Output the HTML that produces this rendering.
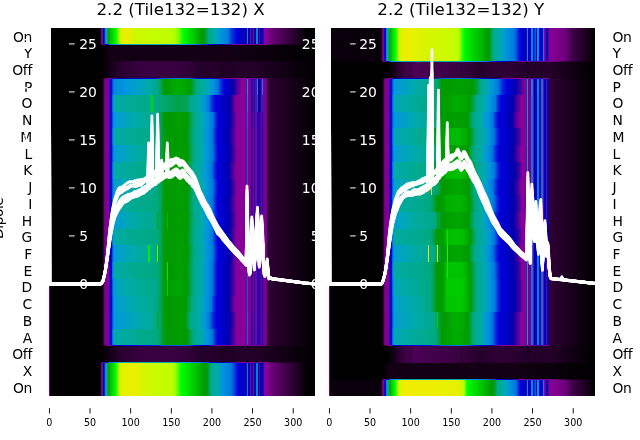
<!DOCTYPE html><html><head><meta charset="utf-8"><title>2.2 (Tile132=132)</title><style>html,body{margin:0;padding:0;background:#fff;overflow:hidden}</style></head><body><svg width="640" height="440" viewBox="0 0 640 440" style="display:block;font-family:'DejaVu Sans','Liberation Sans',sans-serif"><defs><linearGradient id="g0_0" gradientUnits="userSpaceOnUse" x1="0" y1="0" x2="640" y2="0"><stop offset="0.0766" stop-color="#7a008b"/><stop offset="0.0777" stop-color="#7a008b"/><stop offset="0.0778" stop-color="#700080"/><stop offset="0.0781" stop-color="#000000"/><stop offset="0.1570" stop-color="#000000"/><stop offset="0.1585" stop-color="#700080"/><stop offset="0.1594" stop-color="#810092"/><stop offset="0.1600" stop-color="#870098"/><stop offset="0.1617" stop-color="#0300aa"/><stop offset="0.1629" stop-color="#0000dd"/><stop offset="0.1641" stop-color="#0078dd"/><stop offset="0.1652" stop-color="#0098dd"/><stop offset="0.1664" stop-color="#00aaab"/><stop offset="0.1676" stop-color="#00aa88"/><stop offset="0.1688" stop-color="#009a00"/><stop offset="0.1719" stop-color="#00bc00"/><stop offset="0.1766" stop-color="#00dc00"/><stop offset="0.1814" stop-color="#00ff00"/><stop offset="0.1852" stop-color="#93ff00"/><stop offset="0.1865" stop-color="#bcff00"/><stop offset="0.1891" stop-color="#d0f800"/><stop offset="0.1969" stop-color="#efed00"/><stop offset="0.2125" stop-color="#ccf900"/><stop offset="0.2578" stop-color="#c0fd00"/><stop offset="0.2656" stop-color="#bcff00"/><stop offset="0.2734" stop-color="#b0ff00"/><stop offset="0.2797" stop-color="#75ff00"/><stop offset="0.2861" stop-color="#00ff00"/><stop offset="0.2969" stop-color="#00dc00"/><stop offset="0.3064" stop-color="#00bc00"/><stop offset="0.3141" stop-color="#009f00"/><stop offset="0.3167" stop-color="#009a00"/><stop offset="0.3219" stop-color="#009f33"/><stop offset="0.3258" stop-color="#00aa88"/><stop offset="0.3355" stop-color="#00aaab"/><stop offset="0.3375" stop-color="#00a7b3"/><stop offset="0.3438" stop-color="#0098dd"/><stop offset="0.3531" stop-color="#0085dd"/><stop offset="0.3570" stop-color="#0078dd"/><stop offset="0.3609" stop-color="#0041dd"/><stop offset="0.3703" stop-color="#0000dd"/><stop offset="0.3797" stop-color="#0000bd"/><stop offset="0.3855" stop-color="#0000b1"/><stop offset="0.3857" stop-color="#0000dd"/><stop offset="0.3858" stop-color="#0078dd"/><stop offset="0.3859" stop-color="#008add"/><stop offset="0.3875" stop-color="#008add"/><stop offset="0.3876" stop-color="#0078dd"/><stop offset="0.3878" stop-color="#0000dd"/><stop offset="0.3879" stop-color="#0000b1"/><stop offset="0.3906" stop-color="#0000ad"/><stop offset="0.3907" stop-color="#0300aa"/><stop offset="0.3910" stop-color="#870098"/><stop offset="0.3918" stop-color="#870098"/><stop offset="0.3922" stop-color="#0300aa"/><stop offset="0.3922" stop-color="#0000ad"/><stop offset="0.3949" stop-color="#0300aa"/><stop offset="0.3949" stop-color="#0300aa"/><stop offset="0.3953" stop-color="#870098"/><stop offset="0.3969" stop-color="#870098"/><stop offset="0.3973" stop-color="#0300aa"/><stop offset="0.3973" stop-color="#0300aa"/><stop offset="0.3977" stop-color="#0300aa"/><stop offset="0.4004" stop-color="#0d00a8"/><stop offset="0.4004" stop-color="#0300aa"/><stop offset="0.4006" stop-color="#0000dd"/><stop offset="0.4007" stop-color="#0078dd"/><stop offset="0.4008" stop-color="#0085dd"/><stop offset="0.4023" stop-color="#0085dd"/><stop offset="0.4024" stop-color="#0078dd"/><stop offset="0.4026" stop-color="#0000dd"/><stop offset="0.4027" stop-color="#0300aa"/><stop offset="0.4027" stop-color="#0d00a8"/><stop offset="0.4039" stop-color="#0d00a8"/><stop offset="0.4043" stop-color="#58009f"/><stop offset="0.4066" stop-color="#58009f"/><stop offset="0.4070" stop-color="#1800a7"/><stop offset="0.4090" stop-color="#1800a7"/><stop offset="0.4090" stop-color="#0300aa"/><stop offset="0.4094" stop-color="#0000dd"/><stop offset="0.4109" stop-color="#0000dd"/><stop offset="0.4112" stop-color="#0300aa"/><stop offset="0.4113" stop-color="#2d00a4"/><stop offset="0.4133" stop-color="#870098"/><stop offset="0.4188" stop-color="#850096"/><stop offset="0.4219" stop-color="#700080"/><stop offset="0.4813" stop-color="#000000"/><stop offset="0.4922" stop-color="#000000"/></linearGradient><linearGradient id="s0_1" gradientUnits="userSpaceOnUse" x1="0" y1="0" x2="640" y2="0"><stop offset="0.0766" stop-color="#7a008b"/><stop offset="0.0777" stop-color="#7a008b"/><stop offset="0.0778" stop-color="#700080"/><stop offset="0.0781" stop-color="#000000"/><stop offset="0.1570" stop-color="#000000"/><stop offset="0.1601" stop-color="#700080"/><stop offset="0.1617" stop-color="#7f0090"/><stop offset="0.1628" stop-color="#870098"/><stop offset="0.1651" stop-color="#0300aa"/><stop offset="0.1674" stop-color="#0000dd"/><stop offset="0.1688" stop-color="#0041dd"/><stop offset="0.1712" stop-color="#0078dd"/><stop offset="0.1719" stop-color="#007add"/><stop offset="0.1803" stop-color="#0098dd"/><stop offset="0.1852" stop-color="#00a2c3"/><stop offset="0.1891" stop-color="#00a7b3"/><stop offset="0.1940" stop-color="#00aaab"/><stop offset="0.1969" stop-color="#00aaa5"/><stop offset="0.2018" stop-color="#00aaab"/><stop offset="0.2125" stop-color="#00a6b7"/><stop offset="0.2578" stop-color="#00a4bb"/><stop offset="0.2797" stop-color="#00a0c7"/><stop offset="0.2879" stop-color="#0098dd"/><stop offset="0.3079" stop-color="#0078dd"/><stop offset="0.3133" stop-color="#0054dd"/><stop offset="0.3219" stop-color="#002fdd"/><stop offset="0.3288" stop-color="#0000dd"/><stop offset="0.3445" stop-color="#0000ad"/><stop offset="0.3461" stop-color="#0300aa"/><stop offset="0.3680" stop-color="#78009b"/><stop offset="0.3741" stop-color="#870098"/><stop offset="0.3855" stop-color="#820093"/><stop offset="0.3856" stop-color="#870098"/><stop offset="0.3859" stop-color="#0d00a8"/><stop offset="0.3875" stop-color="#1800a7"/><stop offset="0.3878" stop-color="#870098"/><stop offset="0.3879" stop-color="#820093"/><stop offset="0.3906" stop-color="#820093"/><stop offset="0.3910" stop-color="#79008a"/><stop offset="0.3918" stop-color="#79008a"/><stop offset="0.3922" stop-color="#810092"/><stop offset="0.3949" stop-color="#810092"/><stop offset="0.3953" stop-color="#770088"/><stop offset="0.3961" stop-color="#770088"/><stop offset="0.3969" stop-color="#770088"/><stop offset="0.3973" stop-color="#810092"/><stop offset="0.4004" stop-color="#810092"/><stop offset="0.4005" stop-color="#870098"/><stop offset="0.4008" stop-color="#2300a6"/><stop offset="0.4023" stop-color="#2300a6"/><stop offset="0.4026" stop-color="#870098"/><stop offset="0.4027" stop-color="#7f0090"/><stop offset="0.4039" stop-color="#7f0090"/><stop offset="0.4043" stop-color="#7b008c"/><stop offset="0.4066" stop-color="#7b008c"/><stop offset="0.4070" stop-color="#7f0090"/><stop offset="0.4090" stop-color="#7f0090"/><stop offset="0.4093" stop-color="#870098"/><stop offset="0.4094" stop-color="#83009a"/><stop offset="0.4109" stop-color="#83009a"/><stop offset="0.4110" stop-color="#870098"/><stop offset="0.4113" stop-color="#7e008f"/><stop offset="0.4133" stop-color="#770088"/><stop offset="0.4178" stop-color="#700080"/><stop offset="0.4188" stop-color="#700080"/><stop offset="0.4219" stop-color="#41004b"/><stop offset="0.4813" stop-color="#000000"/><stop offset="0.4922" stop-color="#000000"/></linearGradient><linearGradient id="g0_1" gradientUnits="userSpaceOnUse" x1="0" y1="0" x2="640" y2="0"><stop offset="0.0766" stop-color="#7a008b"/><stop offset="0.0777" stop-color="#7a008b"/><stop offset="0.0778" stop-color="#700080"/><stop offset="0.0781" stop-color="#000000"/><stop offset="0.1594" stop-color="#000000"/><stop offset="0.1719" stop-color="#130015"/><stop offset="0.3594" stop-color="#130015"/><stop offset="0.4922" stop-color="#000000"/></linearGradient><linearGradient id="g0_2" gradientUnits="userSpaceOnUse" x1="0" y1="0" x2="640" y2="0"><stop offset="0.0766" stop-color="#7a008b"/><stop offset="0.0777" stop-color="#7a008b"/><stop offset="0.0778" stop-color="#700080"/><stop offset="0.0781" stop-color="#000000"/><stop offset="0.1578" stop-color="#000000"/><stop offset="0.1844" stop-color="#25002b"/><stop offset="0.2188" stop-color="#380040"/><stop offset="0.2812" stop-color="#380040"/><stop offset="0.2848" stop-color="#25002b"/><stop offset="0.2852" stop-color="#380040"/><stop offset="0.3117" stop-color="#25002b"/><stop offset="0.3441" stop-color="#25002b"/><stop offset="0.3445" stop-color="#1c0020"/><stop offset="0.3863" stop-color="#25002b"/><stop offset="0.3867" stop-color="#1c0020"/><stop offset="0.3906" stop-color="#25002b"/><stop offset="0.4922" stop-color="#000000"/></linearGradient><linearGradient id="s0_3" gradientUnits="userSpaceOnUse" x1="0" y1="0" x2="640" y2="0"><stop offset="0.0766" stop-color="#7a008b"/><stop offset="0.0777" stop-color="#7a008b"/><stop offset="0.0778" stop-color="#700080"/><stop offset="0.0781" stop-color="#000000"/><stop offset="0.1602" stop-color="#000000"/><stop offset="0.1637" stop-color="#4b0055"/><stop offset="0.1686" stop-color="#700080"/><stop offset="0.1699" stop-color="#79008a"/><stop offset="0.1737" stop-color="#870098"/><stop offset="0.1750" stop-color="#63009e"/><stop offset="0.1789" stop-color="#0d00a8"/><stop offset="0.1837" stop-color="#0300aa"/><stop offset="0.2367" stop-color="#0000d5"/><stop offset="0.2368" stop-color="#0000dd"/><stop offset="0.2371" stop-color="#005ddd"/><stop offset="0.2379" stop-color="#005ddd"/><stop offset="0.2382" stop-color="#0000dd"/><stop offset="0.2383" stop-color="#0000d5"/><stop offset="0.2411" stop-color="#0000dd"/><stop offset="0.2562" stop-color="#0054dd"/><stop offset="0.2748" stop-color="#0078dd"/><stop offset="0.2781" stop-color="#0078dd"/><stop offset="0.2808" stop-color="#0078dd"/><stop offset="0.2969" stop-color="#0054dd"/><stop offset="0.3117" stop-color="#0000dd"/><stop offset="0.3122" stop-color="#0000dd"/><stop offset="0.3219" stop-color="#0000cd"/><stop offset="0.3339" stop-color="#0300aa"/><stop offset="0.3453" stop-color="#58009f"/><stop offset="0.3545" stop-color="#870098"/><stop offset="0.3766" stop-color="#7a008b"/><stop offset="0.3859" stop-color="#79008a"/><stop offset="0.3861" stop-color="#870098"/><stop offset="0.3863" stop-color="#0300aa"/><stop offset="0.3863" stop-color="#0000ad"/><stop offset="0.3875" stop-color="#0000ad"/><stop offset="0.3875" stop-color="#0300aa"/><stop offset="0.3877" stop-color="#870098"/><stop offset="0.3879" stop-color="#770088"/><stop offset="0.3914" stop-color="#770088"/><stop offset="0.3918" stop-color="#870098"/><stop offset="0.3949" stop-color="#870098"/><stop offset="0.3953" stop-color="#770088"/><stop offset="0.3962" stop-color="#700080"/><stop offset="0.3965" stop-color="#700080"/><stop offset="0.3965" stop-color="#700080"/><stop offset="0.3969" stop-color="#870098"/><stop offset="0.3969" stop-color="#870098"/><stop offset="0.3988" stop-color="#83009a"/><stop offset="0.3988" stop-color="#870098"/><stop offset="0.3992" stop-color="#700080"/><stop offset="0.3992" stop-color="#700080"/><stop offset="0.4012" stop-color="#700080"/><stop offset="0.4012" stop-color="#700080"/><stop offset="0.4014" stop-color="#870098"/><stop offset="0.4016" stop-color="#0d00a8"/><stop offset="0.4027" stop-color="#0d00a8"/><stop offset="0.4029" stop-color="#870098"/><stop offset="0.4031" stop-color="#700080"/><stop offset="0.4031" stop-color="#700080"/><stop offset="0.4035" stop-color="#700080"/><stop offset="0.4035" stop-color="#700080"/><stop offset="0.4039" stop-color="#850096"/><stop offset="0.4066" stop-color="#850096"/><stop offset="0.4074" stop-color="#850096"/><stop offset="0.4078" stop-color="#700080"/><stop offset="0.4078" stop-color="#670075"/><stop offset="0.4086" stop-color="#670075"/><stop offset="0.4086" stop-color="#700080"/><stop offset="0.4088" stop-color="#870098"/><stop offset="0.4090" stop-color="#1800a7"/><stop offset="0.4102" stop-color="#1800a7"/><stop offset="0.4103" stop-color="#870098"/><stop offset="0.4105" stop-color="#700080"/><stop offset="0.4105" stop-color="#670075"/><stop offset="0.4156" stop-color="#5d006b"/><stop offset="0.4188" stop-color="#25002b"/><stop offset="0.4922" stop-color="#000000"/></linearGradient><linearGradient id="g0_3" gradientUnits="userSpaceOnUse" x1="0" y1="0" x2="640" y2="0"><stop offset="0.0766" stop-color="#7a008b"/><stop offset="0.0777" stop-color="#7a008b"/><stop offset="0.0778" stop-color="#700080"/><stop offset="0.0781" stop-color="#000000"/><stop offset="0.1602" stop-color="#000000"/><stop offset="0.1631" stop-color="#700080"/><stop offset="0.1637" stop-color="#7a008b"/><stop offset="0.1696" stop-color="#870098"/><stop offset="0.1699" stop-color="#83009a"/><stop offset="0.1720" stop-color="#0300aa"/><stop offset="0.1741" stop-color="#0000dd"/><stop offset="0.1750" stop-color="#002fdd"/><stop offset="0.1770" stop-color="#0078dd"/><stop offset="0.1789" stop-color="#008add"/><stop offset="0.1972" stop-color="#0098dd"/><stop offset="0.2188" stop-color="#00a2c3"/><stop offset="0.2311" stop-color="#00aaab"/><stop offset="0.2367" stop-color="#00aaa3"/><stop offset="0.2369" stop-color="#00aa88"/><stop offset="0.2371" stop-color="#009a00"/><stop offset="0.2371" stop-color="#009f00"/><stop offset="0.2379" stop-color="#009f00"/><stop offset="0.2379" stop-color="#009a00"/><stop offset="0.2381" stop-color="#00aa88"/><stop offset="0.2383" stop-color="#00aaa0"/><stop offset="0.2458" stop-color="#00aa88"/><stop offset="0.2469" stop-color="#00a97d"/><stop offset="0.2516" stop-color="#00a353"/><stop offset="0.2562" stop-color="#009a08"/><stop offset="0.2582" stop-color="#009a00"/><stop offset="0.2781" stop-color="#00ac00"/><stop offset="0.2922" stop-color="#00a400"/><stop offset="0.2969" stop-color="#009a00"/><stop offset="0.3078" stop-color="#00aa88"/><stop offset="0.3219" stop-color="#00aaab"/><stop offset="0.3312" stop-color="#0098dd"/><stop offset="0.3406" stop-color="#0078dd"/><stop offset="0.3453" stop-color="#002fdd"/><stop offset="0.3505" stop-color="#0000dd"/><stop offset="0.3635" stop-color="#0300aa"/><stop offset="0.3766" stop-color="#870098"/><stop offset="0.3859" stop-color="#860097"/><stop offset="0.3859" stop-color="#870098"/><stop offset="0.3860" stop-color="#0300aa"/><stop offset="0.3861" stop-color="#0000dd"/><stop offset="0.3862" stop-color="#0078dd"/><stop offset="0.3863" stop-color="#0095dd"/><stop offset="0.3875" stop-color="#0095dd"/><stop offset="0.3876" stop-color="#0078dd"/><stop offset="0.3877" stop-color="#0000dd"/><stop offset="0.3878" stop-color="#0300aa"/><stop offset="0.3879" stop-color="#870098"/><stop offset="0.3879" stop-color="#850096"/><stop offset="0.3914" stop-color="#830094"/><stop offset="0.3915" stop-color="#870098"/><stop offset="0.3917" stop-color="#0300aa"/><stop offset="0.3918" stop-color="#0000c9"/><stop offset="0.3949" stop-color="#0000c9"/><stop offset="0.3950" stop-color="#0300aa"/><stop offset="0.3953" stop-color="#870098"/><stop offset="0.3953" stop-color="#830094"/><stop offset="0.3965" stop-color="#820093"/><stop offset="0.3965" stop-color="#870098"/><stop offset="0.3967" stop-color="#0300aa"/><stop offset="0.3969" stop-color="#0000d1"/><stop offset="0.3988" stop-color="#0000d1"/><stop offset="0.3990" stop-color="#0300aa"/><stop offset="0.3992" stop-color="#870098"/><stop offset="0.3992" stop-color="#820093"/><stop offset="0.4012" stop-color="#820093"/><stop offset="0.4012" stop-color="#870098"/><stop offset="0.4013" stop-color="#0300aa"/><stop offset="0.4014" stop-color="#0000dd"/><stop offset="0.4015" stop-color="#0078dd"/><stop offset="0.4016" stop-color="#008add"/><stop offset="0.4027" stop-color="#008add"/><stop offset="0.4028" stop-color="#0078dd"/><stop offset="0.4029" stop-color="#0000dd"/><stop offset="0.4030" stop-color="#0300aa"/><stop offset="0.4031" stop-color="#870098"/><stop offset="0.4031" stop-color="#810092"/><stop offset="0.4035" stop-color="#810092"/><stop offset="0.4036" stop-color="#870098"/><stop offset="0.4038" stop-color="#0300aa"/><stop offset="0.4039" stop-color="#0000bd"/><stop offset="0.4074" stop-color="#0000bd"/><stop offset="0.4075" stop-color="#0300aa"/><stop offset="0.4077" stop-color="#870098"/><stop offset="0.4078" stop-color="#7f0090"/><stop offset="0.4086" stop-color="#7f0090"/><stop offset="0.4086" stop-color="#870098"/><stop offset="0.4087" stop-color="#0300aa"/><stop offset="0.4088" stop-color="#0000dd"/><stop offset="0.4089" stop-color="#0078dd"/><stop offset="0.4090" stop-color="#0085dd"/><stop offset="0.4102" stop-color="#0085dd"/><stop offset="0.4102" stop-color="#0078dd"/><stop offset="0.4103" stop-color="#0000dd"/><stop offset="0.4104" stop-color="#0300aa"/><stop offset="0.4105" stop-color="#870098"/><stop offset="0.4105" stop-color="#7f0090"/><stop offset="0.4156" stop-color="#7d008e"/><stop offset="0.4169" stop-color="#700080"/><stop offset="0.4188" stop-color="#2f0035"/><stop offset="0.4922" stop-color="#000000"/></linearGradient><linearGradient id="g0_4" gradientUnits="userSpaceOnUse" x1="0" y1="0" x2="640" y2="0"><stop offset="0.0766" stop-color="#7a008b"/><stop offset="0.0777" stop-color="#7a008b"/><stop offset="0.0778" stop-color="#700080"/><stop offset="0.0781" stop-color="#000000"/><stop offset="0.1602" stop-color="#000000"/><stop offset="0.1631" stop-color="#700080"/><stop offset="0.1637" stop-color="#7a008b"/><stop offset="0.1696" stop-color="#870098"/><stop offset="0.1699" stop-color="#83009a"/><stop offset="0.1720" stop-color="#0300aa"/><stop offset="0.1741" stop-color="#0000dd"/><stop offset="0.1750" stop-color="#002fdd"/><stop offset="0.1759" stop-color="#0078dd"/><stop offset="0.1773" stop-color="#0098dd"/><stop offset="0.1788" stop-color="#00aaab"/><stop offset="0.1789" stop-color="#00aaa8"/><stop offset="0.2188" stop-color="#00aa8d"/><stop offset="0.2363" stop-color="#00aa8b"/><stop offset="0.2363" stop-color="#00aa88"/><stop offset="0.2365" stop-color="#009a00"/><stop offset="0.2366" stop-color="#00bc00"/><stop offset="0.2367" stop-color="#00dc00"/><stop offset="0.2383" stop-color="#00dc00"/><stop offset="0.2384" stop-color="#00bc00"/><stop offset="0.2385" stop-color="#009a00"/><stop offset="0.2387" stop-color="#00aa88"/><stop offset="0.2387" stop-color="#00aa8b"/><stop offset="0.2418" stop-color="#00aa88"/><stop offset="0.2781" stop-color="#00a248"/><stop offset="0.2922" stop-color="#00a353"/><stop offset="0.2974" stop-color="#00aa88"/><stop offset="0.3109" stop-color="#00aaab"/><stop offset="0.3195" stop-color="#0098dd"/><stop offset="0.3269" stop-color="#0078dd"/><stop offset="0.3312" stop-color="#002fdd"/><stop offset="0.3375" stop-color="#0000dd"/><stop offset="0.3594" stop-color="#0300aa"/><stop offset="0.3688" stop-color="#870098"/><stop offset="0.3859" stop-color="#860097"/><stop offset="0.3860" stop-color="#870098"/><stop offset="0.3861" stop-color="#0300aa"/><stop offset="0.3862" stop-color="#0000dd"/><stop offset="0.3863" stop-color="#0078dd"/><stop offset="0.3863" stop-color="#0082dd"/><stop offset="0.3875" stop-color="#0082dd"/><stop offset="0.3875" stop-color="#0078dd"/><stop offset="0.3876" stop-color="#0000dd"/><stop offset="0.3878" stop-color="#0300aa"/><stop offset="0.3879" stop-color="#870098"/><stop offset="0.3879" stop-color="#850096"/><stop offset="0.3914" stop-color="#830094"/><stop offset="0.3915" stop-color="#870098"/><stop offset="0.3918" stop-color="#0300aa"/><stop offset="0.3918" stop-color="#0000ad"/><stop offset="0.3949" stop-color="#0000ad"/><stop offset="0.3950" stop-color="#0300aa"/><stop offset="0.3952" stop-color="#870098"/><stop offset="0.3953" stop-color="#830094"/><stop offset="0.3965" stop-color="#820093"/><stop offset="0.3966" stop-color="#870098"/><stop offset="0.3968" stop-color="#0300aa"/><stop offset="0.3969" stop-color="#0000b5"/><stop offset="0.3988" stop-color="#0000b5"/><stop offset="0.3989" stop-color="#0300aa"/><stop offset="0.3991" stop-color="#870098"/><stop offset="0.3992" stop-color="#820093"/><stop offset="0.4012" stop-color="#820093"/><stop offset="0.4012" stop-color="#870098"/><stop offset="0.4013" stop-color="#0300aa"/><stop offset="0.4015" stop-color="#0000dd"/><stop offset="0.4016" stop-color="#0054dd"/><stop offset="0.4027" stop-color="#0054dd"/><stop offset="0.4028" stop-color="#0000dd"/><stop offset="0.4030" stop-color="#0300aa"/><stop offset="0.4031" stop-color="#870098"/><stop offset="0.4031" stop-color="#810092"/><stop offset="0.4035" stop-color="#810092"/><stop offset="0.4036" stop-color="#870098"/><stop offset="0.4039" stop-color="#0300aa"/><stop offset="0.4074" stop-color="#0300aa"/><stop offset="0.4077" stop-color="#870098"/><stop offset="0.4078" stop-color="#7f0090"/><stop offset="0.4086" stop-color="#7f0090"/><stop offset="0.4087" stop-color="#870098"/><stop offset="0.4088" stop-color="#0300aa"/><stop offset="0.4089" stop-color="#0000dd"/><stop offset="0.4090" stop-color="#002fdd"/><stop offset="0.4102" stop-color="#002fdd"/><stop offset="0.4102" stop-color="#0000dd"/><stop offset="0.4103" stop-color="#0300aa"/><stop offset="0.4105" stop-color="#870098"/><stop offset="0.4105" stop-color="#7f0090"/><stop offset="0.4156" stop-color="#7d008e"/><stop offset="0.4169" stop-color="#700080"/><stop offset="0.4188" stop-color="#2f0035"/><stop offset="0.4922" stop-color="#000000"/></linearGradient><linearGradient id="g0_5" gradientUnits="userSpaceOnUse" x1="0" y1="0" x2="640" y2="0"><stop offset="0.0766" stop-color="#7a008b"/><stop offset="0.0777" stop-color="#7a008b"/><stop offset="0.0778" stop-color="#700080"/><stop offset="0.0781" stop-color="#000000"/><stop offset="0.1602" stop-color="#000000"/><stop offset="0.1631" stop-color="#700080"/><stop offset="0.1637" stop-color="#7a008b"/><stop offset="0.1696" stop-color="#870098"/><stop offset="0.1699" stop-color="#83009a"/><stop offset="0.1720" stop-color="#0300aa"/><stop offset="0.1741" stop-color="#0000dd"/><stop offset="0.1750" stop-color="#002fdd"/><stop offset="0.1764" stop-color="#0078dd"/><stop offset="0.1788" stop-color="#0098dd"/><stop offset="0.1789" stop-color="#009adb"/><stop offset="0.2086" stop-color="#00aaab"/><stop offset="0.2188" stop-color="#00aaa0"/><stop offset="0.2391" stop-color="#00aa93"/><stop offset="0.2443" stop-color="#00aa88"/><stop offset="0.2516" stop-color="#00a353"/><stop offset="0.2562" stop-color="#009a08"/><stop offset="0.2625" stop-color="#009a00"/><stop offset="0.2672" stop-color="#009a00"/><stop offset="0.2719" stop-color="#009a00"/><stop offset="0.2781" stop-color="#009f00"/><stop offset="0.2930" stop-color="#009a00"/><stop offset="0.3032" stop-color="#00aa88"/><stop offset="0.3094" stop-color="#00aa9d"/><stop offset="0.3148" stop-color="#00aaab"/><stop offset="0.3238" stop-color="#0098dd"/><stop offset="0.3328" stop-color="#0078dd"/><stop offset="0.3367" stop-color="#002fdd"/><stop offset="0.3406" stop-color="#0000dd"/><stop offset="0.3500" stop-color="#0000c9"/><stop offset="0.3594" stop-color="#0300aa"/><stop offset="0.3703" stop-color="#870098"/><stop offset="0.3859" stop-color="#860097"/><stop offset="0.3860" stop-color="#870098"/><stop offset="0.3861" stop-color="#0300aa"/><stop offset="0.3862" stop-color="#0000dd"/><stop offset="0.3863" stop-color="#0067dd"/><stop offset="0.3875" stop-color="#0067dd"/><stop offset="0.3876" stop-color="#0000dd"/><stop offset="0.3877" stop-color="#0300aa"/><stop offset="0.3879" stop-color="#870098"/><stop offset="0.3879" stop-color="#850096"/><stop offset="0.3914" stop-color="#830094"/><stop offset="0.3915" stop-color="#870098"/><stop offset="0.3918" stop-color="#2300a6"/><stop offset="0.3949" stop-color="#2300a6"/><stop offset="0.3952" stop-color="#870098"/><stop offset="0.3953" stop-color="#830094"/><stop offset="0.3965" stop-color="#820093"/><stop offset="0.3966" stop-color="#870098"/><stop offset="0.3969" stop-color="#1800a7"/><stop offset="0.3988" stop-color="#1800a7"/><stop offset="0.3991" stop-color="#870098"/><stop offset="0.3992" stop-color="#820093"/><stop offset="0.4012" stop-color="#820093"/><stop offset="0.4012" stop-color="#870098"/><stop offset="0.4014" stop-color="#0300aa"/><stop offset="0.4016" stop-color="#0000dd"/><stop offset="0.4016" stop-color="#0000dd"/><stop offset="0.4027" stop-color="#0000dd"/><stop offset="0.4027" stop-color="#0000dd"/><stop offset="0.4029" stop-color="#0300aa"/><stop offset="0.4031" stop-color="#870098"/><stop offset="0.4031" stop-color="#810092"/><stop offset="0.4035" stop-color="#810092"/><stop offset="0.4037" stop-color="#870098"/><stop offset="0.4039" stop-color="#2d00a4"/><stop offset="0.4074" stop-color="#2d00a4"/><stop offset="0.4077" stop-color="#870098"/><stop offset="0.4078" stop-color="#7f0090"/><stop offset="0.4086" stop-color="#7f0090"/><stop offset="0.4087" stop-color="#870098"/><stop offset="0.4089" stop-color="#0300aa"/><stop offset="0.4090" stop-color="#0000cd"/><stop offset="0.4102" stop-color="#0000cd"/><stop offset="0.4103" stop-color="#0300aa"/><stop offset="0.4105" stop-color="#870098"/><stop offset="0.4105" stop-color="#7f0090"/><stop offset="0.4156" stop-color="#7d008e"/><stop offset="0.4169" stop-color="#700080"/><stop offset="0.4188" stop-color="#2f0035"/><stop offset="0.4922" stop-color="#000000"/></linearGradient><linearGradient id="g0_6" gradientUnits="userSpaceOnUse" x1="0" y1="0" x2="640" y2="0"><stop offset="0.0766" stop-color="#7a008b"/><stop offset="0.0777" stop-color="#7a008b"/><stop offset="0.0778" stop-color="#700080"/><stop offset="0.0781" stop-color="#000000"/><stop offset="0.1602" stop-color="#000000"/><stop offset="0.1631" stop-color="#700080"/><stop offset="0.1637" stop-color="#7a008b"/><stop offset="0.1696" stop-color="#870098"/><stop offset="0.1699" stop-color="#83009a"/><stop offset="0.1720" stop-color="#0300aa"/><stop offset="0.1741" stop-color="#0000dd"/><stop offset="0.1750" stop-color="#002fdd"/><stop offset="0.1759" stop-color="#0078dd"/><stop offset="0.1773" stop-color="#0098dd"/><stop offset="0.1788" stop-color="#00aaab"/><stop offset="0.1789" stop-color="#00aaa8"/><stop offset="0.2188" stop-color="#00aa8d"/><stop offset="0.2368" stop-color="#00aa88"/><stop offset="0.2469" stop-color="#00a97d"/><stop offset="0.2516" stop-color="#00a353"/><stop offset="0.2562" stop-color="#009b13"/><stop offset="0.2672" stop-color="#009a00"/><stop offset="0.2719" stop-color="#009a08"/><stop offset="0.2742" stop-color="#009a00"/><stop offset="0.2781" stop-color="#009c00"/><stop offset="0.2898" stop-color="#009a00"/><stop offset="0.2922" stop-color="#009a08"/><stop offset="0.3024" stop-color="#00aa88"/><stop offset="0.3086" stop-color="#00aa9d"/><stop offset="0.3141" stop-color="#00aaab"/><stop offset="0.3230" stop-color="#0098dd"/><stop offset="0.3320" stop-color="#0078dd"/><stop offset="0.3359" stop-color="#002fdd"/><stop offset="0.3398" stop-color="#0000dd"/><stop offset="0.3492" stop-color="#0000c9"/><stop offset="0.3586" stop-color="#0300aa"/><stop offset="0.3695" stop-color="#870098"/><stop offset="0.3859" stop-color="#860097"/><stop offset="0.3860" stop-color="#870098"/><stop offset="0.3861" stop-color="#0300aa"/><stop offset="0.3862" stop-color="#0000dd"/><stop offset="0.3863" stop-color="#005ddd"/><stop offset="0.3875" stop-color="#005ddd"/><stop offset="0.3876" stop-color="#0000dd"/><stop offset="0.3877" stop-color="#0300aa"/><stop offset="0.3879" stop-color="#870098"/><stop offset="0.3879" stop-color="#850096"/><stop offset="0.3914" stop-color="#830094"/><stop offset="0.3915" stop-color="#870098"/><stop offset="0.3918" stop-color="#3800a3"/><stop offset="0.3949" stop-color="#3800a3"/><stop offset="0.3952" stop-color="#870098"/><stop offset="0.3953" stop-color="#830094"/><stop offset="0.3965" stop-color="#820093"/><stop offset="0.3966" stop-color="#870098"/><stop offset="0.3969" stop-color="#2d00a4"/><stop offset="0.3988" stop-color="#2d00a4"/><stop offset="0.3991" stop-color="#870098"/><stop offset="0.3992" stop-color="#820093"/><stop offset="0.4012" stop-color="#820093"/><stop offset="0.4012" stop-color="#870098"/><stop offset="0.4014" stop-color="#0300aa"/><stop offset="0.4016" stop-color="#0000d5"/><stop offset="0.4027" stop-color="#0000d5"/><stop offset="0.4029" stop-color="#0300aa"/><stop offset="0.4031" stop-color="#870098"/><stop offset="0.4031" stop-color="#810092"/><stop offset="0.4035" stop-color="#810092"/><stop offset="0.4037" stop-color="#870098"/><stop offset="0.4039" stop-color="#3800a3"/><stop offset="0.4074" stop-color="#3800a3"/><stop offset="0.4076" stop-color="#870098"/><stop offset="0.4078" stop-color="#7f0090"/><stop offset="0.4086" stop-color="#7f0090"/><stop offset="0.4087" stop-color="#870098"/><stop offset="0.4089" stop-color="#0300aa"/><stop offset="0.4090" stop-color="#0000c1"/><stop offset="0.4102" stop-color="#0000c1"/><stop offset="0.4103" stop-color="#0300aa"/><stop offset="0.4104" stop-color="#870098"/><stop offset="0.4105" stop-color="#7f0090"/><stop offset="0.4156" stop-color="#7d008e"/><stop offset="0.4169" stop-color="#700080"/><stop offset="0.4188" stop-color="#2f0035"/><stop offset="0.4922" stop-color="#000000"/></linearGradient><linearGradient id="g0_7" gradientUnits="userSpaceOnUse" x1="0" y1="0" x2="640" y2="0"><stop offset="0.0766" stop-color="#7a008b"/><stop offset="0.0777" stop-color="#7a008b"/><stop offset="0.0778" stop-color="#700080"/><stop offset="0.0781" stop-color="#000000"/><stop offset="0.1602" stop-color="#000000"/><stop offset="0.1631" stop-color="#700080"/><stop offset="0.1637" stop-color="#7a008b"/><stop offset="0.1696" stop-color="#870098"/><stop offset="0.1699" stop-color="#83009a"/><stop offset="0.1720" stop-color="#0300aa"/><stop offset="0.1742" stop-color="#0000dd"/><stop offset="0.1764" stop-color="#0078dd"/><stop offset="0.1786" stop-color="#0098dd"/><stop offset="0.1789" stop-color="#009bd7"/><stop offset="0.2088" stop-color="#00aaab"/><stop offset="0.2188" stop-color="#00aaa0"/><stop offset="0.2391" stop-color="#00aa93"/><stop offset="0.2445" stop-color="#00aa88"/><stop offset="0.2516" stop-color="#00a353"/><stop offset="0.2562" stop-color="#009a08"/><stop offset="0.2604" stop-color="#009a00"/><stop offset="0.2672" stop-color="#009c00"/><stop offset="0.2719" stop-color="#009a00"/><stop offset="0.2781" stop-color="#009f00"/><stop offset="0.2930" stop-color="#009a00"/><stop offset="0.3032" stop-color="#00aa88"/><stop offset="0.3094" stop-color="#00aa9d"/><stop offset="0.3148" stop-color="#00aaab"/><stop offset="0.3238" stop-color="#0098dd"/><stop offset="0.3328" stop-color="#0078dd"/><stop offset="0.3367" stop-color="#002fdd"/><stop offset="0.3406" stop-color="#0000dd"/><stop offset="0.3500" stop-color="#0000c9"/><stop offset="0.3594" stop-color="#0300aa"/><stop offset="0.3703" stop-color="#870098"/><stop offset="0.3859" stop-color="#860097"/><stop offset="0.3860" stop-color="#870098"/><stop offset="0.3861" stop-color="#0300aa"/><stop offset="0.3862" stop-color="#0000dd"/><stop offset="0.3863" stop-color="#005ddd"/><stop offset="0.3875" stop-color="#005ddd"/><stop offset="0.3876" stop-color="#0000dd"/><stop offset="0.3877" stop-color="#0300aa"/><stop offset="0.3879" stop-color="#870098"/><stop offset="0.3879" stop-color="#850096"/><stop offset="0.3914" stop-color="#830094"/><stop offset="0.3915" stop-color="#870098"/><stop offset="0.3918" stop-color="#3800a3"/><stop offset="0.3949" stop-color="#3800a3"/><stop offset="0.3952" stop-color="#870098"/><stop offset="0.3953" stop-color="#830094"/><stop offset="0.3965" stop-color="#820093"/><stop offset="0.3966" stop-color="#870098"/><stop offset="0.3969" stop-color="#2d00a4"/><stop offset="0.3988" stop-color="#2d00a4"/><stop offset="0.3991" stop-color="#870098"/><stop offset="0.3992" stop-color="#820093"/><stop offset="0.4012" stop-color="#820093"/><stop offset="0.4012" stop-color="#870098"/><stop offset="0.4014" stop-color="#0300aa"/><stop offset="0.4016" stop-color="#0000d5"/><stop offset="0.4027" stop-color="#0000d5"/><stop offset="0.4029" stop-color="#0300aa"/><stop offset="0.4031" stop-color="#870098"/><stop offset="0.4031" stop-color="#810092"/><stop offset="0.4035" stop-color="#810092"/><stop offset="0.4037" stop-color="#870098"/><stop offset="0.4039" stop-color="#3800a3"/><stop offset="0.4074" stop-color="#3800a3"/><stop offset="0.4076" stop-color="#870098"/><stop offset="0.4078" stop-color="#7f0090"/><stop offset="0.4086" stop-color="#7f0090"/><stop offset="0.4087" stop-color="#870098"/><stop offset="0.4089" stop-color="#0300aa"/><stop offset="0.4090" stop-color="#0000c1"/><stop offset="0.4102" stop-color="#0000c1"/><stop offset="0.4103" stop-color="#0300aa"/><stop offset="0.4104" stop-color="#870098"/><stop offset="0.4105" stop-color="#7f0090"/><stop offset="0.4156" stop-color="#7d008e"/><stop offset="0.4169" stop-color="#700080"/><stop offset="0.4188" stop-color="#2f0035"/><stop offset="0.4922" stop-color="#000000"/></linearGradient><linearGradient id="g0_8" gradientUnits="userSpaceOnUse" x1="0" y1="0" x2="640" y2="0"><stop offset="0.0766" stop-color="#7a008b"/><stop offset="0.0777" stop-color="#7a008b"/><stop offset="0.0778" stop-color="#700080"/><stop offset="0.0781" stop-color="#000000"/><stop offset="0.1602" stop-color="#000000"/><stop offset="0.1631" stop-color="#700080"/><stop offset="0.1637" stop-color="#7a008b"/><stop offset="0.1696" stop-color="#870098"/><stop offset="0.1699" stop-color="#83009a"/><stop offset="0.1720" stop-color="#0300aa"/><stop offset="0.1741" stop-color="#0000dd"/><stop offset="0.1750" stop-color="#002fdd"/><stop offset="0.1759" stop-color="#0078dd"/><stop offset="0.1773" stop-color="#0098dd"/><stop offset="0.1788" stop-color="#00aaab"/><stop offset="0.1789" stop-color="#00aaa8"/><stop offset="0.2188" stop-color="#00aa8d"/><stop offset="0.2368" stop-color="#00aa88"/><stop offset="0.2469" stop-color="#00a97d"/><stop offset="0.2516" stop-color="#00a353"/><stop offset="0.2562" stop-color="#009b13"/><stop offset="0.2672" stop-color="#009a00"/><stop offset="0.2719" stop-color="#009a08"/><stop offset="0.2742" stop-color="#009a00"/><stop offset="0.2781" stop-color="#009c00"/><stop offset="0.2892" stop-color="#009a00"/><stop offset="0.2914" stop-color="#009a08"/><stop offset="0.3016" stop-color="#00aa88"/><stop offset="0.3078" stop-color="#00aa9d"/><stop offset="0.3133" stop-color="#00aaab"/><stop offset="0.3223" stop-color="#0098dd"/><stop offset="0.3312" stop-color="#0078dd"/><stop offset="0.3352" stop-color="#002fdd"/><stop offset="0.3391" stop-color="#0000dd"/><stop offset="0.3484" stop-color="#0000c9"/><stop offset="0.3578" stop-color="#0300aa"/><stop offset="0.3688" stop-color="#870098"/><stop offset="0.3859" stop-color="#860097"/><stop offset="0.3860" stop-color="#870098"/><stop offset="0.3861" stop-color="#0300aa"/><stop offset="0.3862" stop-color="#0000dd"/><stop offset="0.3863" stop-color="#005ddd"/><stop offset="0.3875" stop-color="#005ddd"/><stop offset="0.3876" stop-color="#0000dd"/><stop offset="0.3877" stop-color="#0300aa"/><stop offset="0.3879" stop-color="#870098"/><stop offset="0.3879" stop-color="#850096"/><stop offset="0.3914" stop-color="#830094"/><stop offset="0.3915" stop-color="#870098"/><stop offset="0.3918" stop-color="#3800a3"/><stop offset="0.3949" stop-color="#3800a3"/><stop offset="0.3952" stop-color="#870098"/><stop offset="0.3953" stop-color="#830094"/><stop offset="0.3965" stop-color="#820093"/><stop offset="0.3966" stop-color="#870098"/><stop offset="0.3969" stop-color="#2d00a4"/><stop offset="0.3988" stop-color="#2d00a4"/><stop offset="0.3991" stop-color="#870098"/><stop offset="0.3992" stop-color="#820093"/><stop offset="0.4012" stop-color="#820093"/><stop offset="0.4012" stop-color="#870098"/><stop offset="0.4014" stop-color="#0300aa"/><stop offset="0.4016" stop-color="#0000d5"/><stop offset="0.4027" stop-color="#0000d5"/><stop offset="0.4029" stop-color="#0300aa"/><stop offset="0.4031" stop-color="#870098"/><stop offset="0.4031" stop-color="#810092"/><stop offset="0.4035" stop-color="#810092"/><stop offset="0.4037" stop-color="#870098"/><stop offset="0.4039" stop-color="#3800a3"/><stop offset="0.4074" stop-color="#3800a3"/><stop offset="0.4076" stop-color="#870098"/><stop offset="0.4078" stop-color="#7f0090"/><stop offset="0.4086" stop-color="#7f0090"/><stop offset="0.4087" stop-color="#870098"/><stop offset="0.4089" stop-color="#0300aa"/><stop offset="0.4090" stop-color="#0000c1"/><stop offset="0.4102" stop-color="#0000c1"/><stop offset="0.4103" stop-color="#0300aa"/><stop offset="0.4104" stop-color="#870098"/><stop offset="0.4105" stop-color="#7f0090"/><stop offset="0.4156" stop-color="#7d008e"/><stop offset="0.4169" stop-color="#700080"/><stop offset="0.4188" stop-color="#2f0035"/><stop offset="0.4922" stop-color="#000000"/></linearGradient><linearGradient id="g0_9" gradientUnits="userSpaceOnUse" x1="0" y1="0" x2="640" y2="0"><stop offset="0.0766" stop-color="#7a008b"/><stop offset="0.0777" stop-color="#7a008b"/><stop offset="0.0778" stop-color="#700080"/><stop offset="0.0781" stop-color="#000000"/><stop offset="0.1602" stop-color="#000000"/><stop offset="0.1631" stop-color="#700080"/><stop offset="0.1637" stop-color="#7a008b"/><stop offset="0.1696" stop-color="#870098"/><stop offset="0.1699" stop-color="#83009a"/><stop offset="0.1720" stop-color="#0300aa"/><stop offset="0.1741" stop-color="#0000dd"/><stop offset="0.1750" stop-color="#002fdd"/><stop offset="0.1762" stop-color="#0078dd"/><stop offset="0.1782" stop-color="#0098dd"/><stop offset="0.1789" stop-color="#009fcb"/><stop offset="0.2030" stop-color="#00aaab"/><stop offset="0.2188" stop-color="#00aa9d"/><stop offset="0.2391" stop-color="#00aa90"/><stop offset="0.2437" stop-color="#00aa88"/><stop offset="0.2516" stop-color="#00a353"/><stop offset="0.2562" stop-color="#009a08"/><stop offset="0.2604" stop-color="#009a00"/><stop offset="0.2672" stop-color="#009c00"/><stop offset="0.2719" stop-color="#009a00"/><stop offset="0.2781" stop-color="#009f00"/><stop offset="0.2930" stop-color="#009a00"/><stop offset="0.3032" stop-color="#00aa88"/><stop offset="0.3094" stop-color="#00aa9d"/><stop offset="0.3148" stop-color="#00aaab"/><stop offset="0.3238" stop-color="#0098dd"/><stop offset="0.3328" stop-color="#0078dd"/><stop offset="0.3367" stop-color="#002fdd"/><stop offset="0.3406" stop-color="#0000dd"/><stop offset="0.3500" stop-color="#0000c9"/><stop offset="0.3594" stop-color="#0300aa"/><stop offset="0.3703" stop-color="#870098"/><stop offset="0.3859" stop-color="#860097"/><stop offset="0.3860" stop-color="#870098"/><stop offset="0.3861" stop-color="#0300aa"/><stop offset="0.3862" stop-color="#0000dd"/><stop offset="0.3863" stop-color="#005ddd"/><stop offset="0.3875" stop-color="#005ddd"/><stop offset="0.3876" stop-color="#0000dd"/><stop offset="0.3877" stop-color="#0300aa"/><stop offset="0.3879" stop-color="#870098"/><stop offset="0.3879" stop-color="#850096"/><stop offset="0.3914" stop-color="#830094"/><stop offset="0.3915" stop-color="#870098"/><stop offset="0.3918" stop-color="#3800a3"/><stop offset="0.3949" stop-color="#3800a3"/><stop offset="0.3952" stop-color="#870098"/><stop offset="0.3953" stop-color="#830094"/><stop offset="0.3965" stop-color="#820093"/><stop offset="0.3966" stop-color="#870098"/><stop offset="0.3969" stop-color="#2d00a4"/><stop offset="0.3988" stop-color="#2d00a4"/><stop offset="0.3991" stop-color="#870098"/><stop offset="0.3992" stop-color="#820093"/><stop offset="0.4012" stop-color="#820093"/><stop offset="0.4012" stop-color="#870098"/><stop offset="0.4014" stop-color="#0300aa"/><stop offset="0.4016" stop-color="#0000d5"/><stop offset="0.4027" stop-color="#0000d5"/><stop offset="0.4029" stop-color="#0300aa"/><stop offset="0.4031" stop-color="#870098"/><stop offset="0.4031" stop-color="#810092"/><stop offset="0.4035" stop-color="#810092"/><stop offset="0.4037" stop-color="#870098"/><stop offset="0.4039" stop-color="#3800a3"/><stop offset="0.4074" stop-color="#3800a3"/><stop offset="0.4076" stop-color="#870098"/><stop offset="0.4078" stop-color="#7f0090"/><stop offset="0.4086" stop-color="#7f0090"/><stop offset="0.4087" stop-color="#870098"/><stop offset="0.4089" stop-color="#0300aa"/><stop offset="0.4090" stop-color="#0000c1"/><stop offset="0.4102" stop-color="#0000c1"/><stop offset="0.4103" stop-color="#0300aa"/><stop offset="0.4104" stop-color="#870098"/><stop offset="0.4105" stop-color="#7f0090"/><stop offset="0.4156" stop-color="#7d008e"/><stop offset="0.4169" stop-color="#700080"/><stop offset="0.4188" stop-color="#2f0035"/><stop offset="0.4922" stop-color="#000000"/></linearGradient><linearGradient id="g0_10" gradientUnits="userSpaceOnUse" x1="0" y1="0" x2="640" y2="0"><stop offset="0.0766" stop-color="#7a008b"/><stop offset="0.0777" stop-color="#7a008b"/><stop offset="0.0778" stop-color="#700080"/><stop offset="0.0781" stop-color="#000000"/><stop offset="0.1602" stop-color="#000000"/><stop offset="0.1631" stop-color="#700080"/><stop offset="0.1637" stop-color="#7a008b"/><stop offset="0.1696" stop-color="#870098"/><stop offset="0.1699" stop-color="#83009a"/><stop offset="0.1720" stop-color="#0300aa"/><stop offset="0.1741" stop-color="#0000dd"/><stop offset="0.1750" stop-color="#002fdd"/><stop offset="0.1758" stop-color="#0078dd"/><stop offset="0.1773" stop-color="#0098dd"/><stop offset="0.1787" stop-color="#00aaab"/><stop offset="0.1789" stop-color="#00aaa5"/><stop offset="0.2188" stop-color="#00aa8b"/><stop offset="0.2313" stop-color="#00aa88"/><stop offset="0.2469" stop-color="#00a97d"/><stop offset="0.2516" stop-color="#00a353"/><stop offset="0.2562" stop-color="#009a08"/><stop offset="0.2604" stop-color="#009a00"/><stop offset="0.2672" stop-color="#009c00"/><stop offset="0.2719" stop-color="#009a00"/><stop offset="0.2781" stop-color="#009f00"/><stop offset="0.2922" stop-color="#009a00"/><stop offset="0.3024" stop-color="#00aa88"/><stop offset="0.3086" stop-color="#00aa9d"/><stop offset="0.3141" stop-color="#00aaab"/><stop offset="0.3230" stop-color="#0098dd"/><stop offset="0.3320" stop-color="#0078dd"/><stop offset="0.3359" stop-color="#002fdd"/><stop offset="0.3398" stop-color="#0000dd"/><stop offset="0.3492" stop-color="#0000c9"/><stop offset="0.3586" stop-color="#0300aa"/><stop offset="0.3695" stop-color="#870098"/><stop offset="0.3859" stop-color="#860097"/><stop offset="0.3860" stop-color="#870098"/><stop offset="0.3861" stop-color="#0300aa"/><stop offset="0.3862" stop-color="#0000dd"/><stop offset="0.3863" stop-color="#005ddd"/><stop offset="0.3875" stop-color="#005ddd"/><stop offset="0.3876" stop-color="#0000dd"/><stop offset="0.3877" stop-color="#0300aa"/><stop offset="0.3879" stop-color="#870098"/><stop offset="0.3879" stop-color="#850096"/><stop offset="0.3914" stop-color="#830094"/><stop offset="0.3915" stop-color="#870098"/><stop offset="0.3918" stop-color="#3800a3"/><stop offset="0.3949" stop-color="#3800a3"/><stop offset="0.3952" stop-color="#870098"/><stop offset="0.3953" stop-color="#830094"/><stop offset="0.3965" stop-color="#820093"/><stop offset="0.3966" stop-color="#870098"/><stop offset="0.3969" stop-color="#2d00a4"/><stop offset="0.3988" stop-color="#2d00a4"/><stop offset="0.3991" stop-color="#870098"/><stop offset="0.3992" stop-color="#820093"/><stop offset="0.4012" stop-color="#820093"/><stop offset="0.4012" stop-color="#870098"/><stop offset="0.4014" stop-color="#0300aa"/><stop offset="0.4016" stop-color="#0000d5"/><stop offset="0.4027" stop-color="#0000d5"/><stop offset="0.4029" stop-color="#0300aa"/><stop offset="0.4031" stop-color="#870098"/><stop offset="0.4031" stop-color="#810092"/><stop offset="0.4035" stop-color="#810092"/><stop offset="0.4037" stop-color="#870098"/><stop offset="0.4039" stop-color="#3800a3"/><stop offset="0.4074" stop-color="#3800a3"/><stop offset="0.4076" stop-color="#870098"/><stop offset="0.4078" stop-color="#7f0090"/><stop offset="0.4086" stop-color="#7f0090"/><stop offset="0.4087" stop-color="#870098"/><stop offset="0.4089" stop-color="#0300aa"/><stop offset="0.4090" stop-color="#0000c1"/><stop offset="0.4102" stop-color="#0000c1"/><stop offset="0.4103" stop-color="#0300aa"/><stop offset="0.4104" stop-color="#870098"/><stop offset="0.4105" stop-color="#7f0090"/><stop offset="0.4156" stop-color="#7d008e"/><stop offset="0.4169" stop-color="#700080"/><stop offset="0.4188" stop-color="#2f0035"/><stop offset="0.4922" stop-color="#000000"/></linearGradient><linearGradient id="g0_11" gradientUnits="userSpaceOnUse" x1="0" y1="0" x2="640" y2="0"><stop offset="0.0766" stop-color="#7a008b"/><stop offset="0.0777" stop-color="#7a008b"/><stop offset="0.0778" stop-color="#700080"/><stop offset="0.0781" stop-color="#000000"/><stop offset="0.1602" stop-color="#000000"/><stop offset="0.1631" stop-color="#700080"/><stop offset="0.1637" stop-color="#7a008b"/><stop offset="0.1696" stop-color="#870098"/><stop offset="0.1699" stop-color="#83009a"/><stop offset="0.1720" stop-color="#0300aa"/><stop offset="0.1742" stop-color="#0000dd"/><stop offset="0.1764" stop-color="#0078dd"/><stop offset="0.1786" stop-color="#0098dd"/><stop offset="0.1789" stop-color="#009bd7"/><stop offset="0.2055" stop-color="#00aaab"/><stop offset="0.2188" stop-color="#00aa9d"/><stop offset="0.2391" stop-color="#00aa90"/><stop offset="0.2446" stop-color="#00aa88"/><stop offset="0.2457" stop-color="#00a97d"/><stop offset="0.2460" stop-color="#009a00"/><stop offset="0.2461" stop-color="#00a700"/><stop offset="0.2469" stop-color="#00a700"/><stop offset="0.2470" stop-color="#009a00"/><stop offset="0.2473" stop-color="#00a773"/><stop offset="0.2508" stop-color="#00a55d"/><stop offset="0.2510" stop-color="#009a00"/><stop offset="0.2512" stop-color="#00a700"/><stop offset="0.2520" stop-color="#00a700"/><stop offset="0.2521" stop-color="#009a00"/><stop offset="0.2523" stop-color="#00a248"/><stop offset="0.2562" stop-color="#009a08"/><stop offset="0.2604" stop-color="#009a00"/><stop offset="0.2609" stop-color="#009a00"/><stop offset="0.2613" stop-color="#00bc00"/><stop offset="0.2621" stop-color="#00bc00"/><stop offset="0.2625" stop-color="#009a00"/><stop offset="0.2719" stop-color="#009a00"/><stop offset="0.2781" stop-color="#009f00"/><stop offset="0.2930" stop-color="#009a00"/><stop offset="0.3032" stop-color="#00aa88"/><stop offset="0.3094" stop-color="#00aa9d"/><stop offset="0.3148" stop-color="#00aaab"/><stop offset="0.3238" stop-color="#0098dd"/><stop offset="0.3328" stop-color="#0078dd"/><stop offset="0.3367" stop-color="#002fdd"/><stop offset="0.3406" stop-color="#0000dd"/><stop offset="0.3500" stop-color="#0000c9"/><stop offset="0.3594" stop-color="#0300aa"/><stop offset="0.3703" stop-color="#870098"/><stop offset="0.3859" stop-color="#860097"/><stop offset="0.3860" stop-color="#870098"/><stop offset="0.3861" stop-color="#0300aa"/><stop offset="0.3862" stop-color="#0000dd"/><stop offset="0.3863" stop-color="#005ddd"/><stop offset="0.3875" stop-color="#005ddd"/><stop offset="0.3876" stop-color="#0000dd"/><stop offset="0.3877" stop-color="#0300aa"/><stop offset="0.3879" stop-color="#870098"/><stop offset="0.3879" stop-color="#850096"/><stop offset="0.3914" stop-color="#830094"/><stop offset="0.3915" stop-color="#870098"/><stop offset="0.3918" stop-color="#3800a3"/><stop offset="0.3949" stop-color="#3800a3"/><stop offset="0.3952" stop-color="#870098"/><stop offset="0.3953" stop-color="#830094"/><stop offset="0.3965" stop-color="#820093"/><stop offset="0.3966" stop-color="#870098"/><stop offset="0.3969" stop-color="#2d00a4"/><stop offset="0.3988" stop-color="#2d00a4"/><stop offset="0.3991" stop-color="#870098"/><stop offset="0.3992" stop-color="#820093"/><stop offset="0.4012" stop-color="#820093"/><stop offset="0.4012" stop-color="#870098"/><stop offset="0.4014" stop-color="#0300aa"/><stop offset="0.4016" stop-color="#0000d5"/><stop offset="0.4027" stop-color="#0000d5"/><stop offset="0.4029" stop-color="#0300aa"/><stop offset="0.4031" stop-color="#870098"/><stop offset="0.4031" stop-color="#810092"/><stop offset="0.4035" stop-color="#810092"/><stop offset="0.4037" stop-color="#870098"/><stop offset="0.4039" stop-color="#3800a3"/><stop offset="0.4074" stop-color="#3800a3"/><stop offset="0.4076" stop-color="#870098"/><stop offset="0.4078" stop-color="#7f0090"/><stop offset="0.4086" stop-color="#7f0090"/><stop offset="0.4087" stop-color="#870098"/><stop offset="0.4089" stop-color="#0300aa"/><stop offset="0.4090" stop-color="#0000c1"/><stop offset="0.4102" stop-color="#0000c1"/><stop offset="0.4103" stop-color="#0300aa"/><stop offset="0.4104" stop-color="#870098"/><stop offset="0.4105" stop-color="#7f0090"/><stop offset="0.4156" stop-color="#7d008e"/><stop offset="0.4169" stop-color="#700080"/><stop offset="0.4188" stop-color="#2f0035"/><stop offset="0.4922" stop-color="#000000"/></linearGradient><linearGradient id="g0_12" gradientUnits="userSpaceOnUse" x1="0" y1="0" x2="640" y2="0"><stop offset="0.0766" stop-color="#7a008b"/><stop offset="0.0777" stop-color="#7a008b"/><stop offset="0.0778" stop-color="#700080"/><stop offset="0.0781" stop-color="#000000"/><stop offset="0.1602" stop-color="#000000"/><stop offset="0.1631" stop-color="#700080"/><stop offset="0.1637" stop-color="#7a008b"/><stop offset="0.1696" stop-color="#870098"/><stop offset="0.1699" stop-color="#83009a"/><stop offset="0.1720" stop-color="#0300aa"/><stop offset="0.1741" stop-color="#0000dd"/><stop offset="0.1750" stop-color="#002fdd"/><stop offset="0.1758" stop-color="#0078dd"/><stop offset="0.1773" stop-color="#0098dd"/><stop offset="0.1787" stop-color="#00aaab"/><stop offset="0.1789" stop-color="#00aaa5"/><stop offset="0.2188" stop-color="#00aa8b"/><stop offset="0.2313" stop-color="#00aa88"/><stop offset="0.2469" stop-color="#00a97d"/><stop offset="0.2516" stop-color="#00a353"/><stop offset="0.2562" stop-color="#009a08"/><stop offset="0.2604" stop-color="#009a00"/><stop offset="0.2672" stop-color="#009c00"/><stop offset="0.2719" stop-color="#009a00"/><stop offset="0.2781" stop-color="#009f00"/><stop offset="0.2922" stop-color="#009a00"/><stop offset="0.3024" stop-color="#00aa88"/><stop offset="0.3086" stop-color="#00aa9d"/><stop offset="0.3141" stop-color="#00aaab"/><stop offset="0.3230" stop-color="#0098dd"/><stop offset="0.3320" stop-color="#0078dd"/><stop offset="0.3359" stop-color="#002fdd"/><stop offset="0.3398" stop-color="#0000dd"/><stop offset="0.3492" stop-color="#0000c9"/><stop offset="0.3586" stop-color="#0300aa"/><stop offset="0.3695" stop-color="#870098"/><stop offset="0.3859" stop-color="#860097"/><stop offset="0.3860" stop-color="#870098"/><stop offset="0.3861" stop-color="#0300aa"/><stop offset="0.3862" stop-color="#0000dd"/><stop offset="0.3863" stop-color="#005ddd"/><stop offset="0.3875" stop-color="#005ddd"/><stop offset="0.3876" stop-color="#0000dd"/><stop offset="0.3877" stop-color="#0300aa"/><stop offset="0.3879" stop-color="#870098"/><stop offset="0.3879" stop-color="#850096"/><stop offset="0.3914" stop-color="#830094"/><stop offset="0.3915" stop-color="#870098"/><stop offset="0.3918" stop-color="#3800a3"/><stop offset="0.3949" stop-color="#3800a3"/><stop offset="0.3952" stop-color="#870098"/><stop offset="0.3953" stop-color="#830094"/><stop offset="0.3965" stop-color="#820093"/><stop offset="0.3966" stop-color="#870098"/><stop offset="0.3969" stop-color="#2d00a4"/><stop offset="0.3988" stop-color="#2d00a4"/><stop offset="0.3991" stop-color="#870098"/><stop offset="0.3992" stop-color="#820093"/><stop offset="0.4012" stop-color="#820093"/><stop offset="0.4012" stop-color="#870098"/><stop offset="0.4014" stop-color="#0300aa"/><stop offset="0.4016" stop-color="#0000d5"/><stop offset="0.4027" stop-color="#0000d5"/><stop offset="0.4029" stop-color="#0300aa"/><stop offset="0.4031" stop-color="#870098"/><stop offset="0.4031" stop-color="#810092"/><stop offset="0.4035" stop-color="#810092"/><stop offset="0.4037" stop-color="#870098"/><stop offset="0.4039" stop-color="#3800a3"/><stop offset="0.4074" stop-color="#3800a3"/><stop offset="0.4076" stop-color="#870098"/><stop offset="0.4078" stop-color="#7f0090"/><stop offset="0.4086" stop-color="#7f0090"/><stop offset="0.4087" stop-color="#870098"/><stop offset="0.4089" stop-color="#0300aa"/><stop offset="0.4090" stop-color="#0000c1"/><stop offset="0.4102" stop-color="#0000c1"/><stop offset="0.4103" stop-color="#0300aa"/><stop offset="0.4104" stop-color="#870098"/><stop offset="0.4105" stop-color="#7f0090"/><stop offset="0.4156" stop-color="#7d008e"/><stop offset="0.4169" stop-color="#700080"/><stop offset="0.4188" stop-color="#2f0035"/><stop offset="0.4922" stop-color="#000000"/></linearGradient><linearGradient id="g0_13" gradientUnits="userSpaceOnUse" x1="0" y1="0" x2="640" y2="0"><stop offset="0.0766" stop-color="#7a008b"/><stop offset="0.0777" stop-color="#7a008b"/><stop offset="0.0778" stop-color="#700080"/><stop offset="0.0781" stop-color="#000000"/><stop offset="0.1602" stop-color="#000000"/><stop offset="0.1631" stop-color="#700080"/><stop offset="0.1637" stop-color="#7a008b"/><stop offset="0.1696" stop-color="#870098"/><stop offset="0.1699" stop-color="#83009a"/><stop offset="0.1720" stop-color="#0300aa"/><stop offset="0.1742" stop-color="#0000dd"/><stop offset="0.1764" stop-color="#0078dd"/><stop offset="0.1786" stop-color="#0098dd"/><stop offset="0.1789" stop-color="#009bd7"/><stop offset="0.2078" stop-color="#00aaab"/><stop offset="0.2188" stop-color="#00aaa0"/><stop offset="0.2316" stop-color="#00aa98"/><stop offset="0.2317" stop-color="#00aa88"/><stop offset="0.2318" stop-color="#009a00"/><stop offset="0.2319" stop-color="#00bc00"/><stop offset="0.2320" stop-color="#00dc00"/><stop offset="0.2320" stop-color="#00f200"/><stop offset="0.2336" stop-color="#00f200"/><stop offset="0.2337" stop-color="#00dc00"/><stop offset="0.2338" stop-color="#00bc00"/><stop offset="0.2338" stop-color="#009a00"/><stop offset="0.2339" stop-color="#00aa88"/><stop offset="0.2340" stop-color="#00aa95"/><stop offset="0.2391" stop-color="#00aa93"/><stop offset="0.2449" stop-color="#00aa88"/><stop offset="0.2453" stop-color="#00aa88"/><stop offset="0.2454" stop-color="#009a00"/><stop offset="0.2455" stop-color="#00bc00"/><stop offset="0.2456" stop-color="#00dc00"/><stop offset="0.2457" stop-color="#00ff00"/><stop offset="0.2457" stop-color="#49ff00"/><stop offset="0.2473" stop-color="#49ff00"/><stop offset="0.2473" stop-color="#00ff00"/><stop offset="0.2474" stop-color="#00dc00"/><stop offset="0.2475" stop-color="#00bc00"/><stop offset="0.2476" stop-color="#009a00"/><stop offset="0.2477" stop-color="#00a773"/><stop offset="0.2516" stop-color="#00a353"/><stop offset="0.2562" stop-color="#009a08"/><stop offset="0.2604" stop-color="#009a00"/><stop offset="0.2672" stop-color="#009c00"/><stop offset="0.2719" stop-color="#009a00"/><stop offset="0.2781" stop-color="#009f00"/><stop offset="0.2930" stop-color="#009a00"/><stop offset="0.3032" stop-color="#00aa88"/><stop offset="0.3094" stop-color="#00aa9d"/><stop offset="0.3148" stop-color="#00aaab"/><stop offset="0.3238" stop-color="#0098dd"/><stop offset="0.3328" stop-color="#0078dd"/><stop offset="0.3367" stop-color="#002fdd"/><stop offset="0.3406" stop-color="#0000dd"/><stop offset="0.3500" stop-color="#0000c9"/><stop offset="0.3594" stop-color="#0300aa"/><stop offset="0.3703" stop-color="#870098"/><stop offset="0.3859" stop-color="#860097"/><stop offset="0.3860" stop-color="#870098"/><stop offset="0.3861" stop-color="#0300aa"/><stop offset="0.3862" stop-color="#0000dd"/><stop offset="0.3863" stop-color="#005ddd"/><stop offset="0.3875" stop-color="#005ddd"/><stop offset="0.3876" stop-color="#0000dd"/><stop offset="0.3877" stop-color="#0300aa"/><stop offset="0.3879" stop-color="#870098"/><stop offset="0.3879" stop-color="#850096"/><stop offset="0.3914" stop-color="#830094"/><stop offset="0.3915" stop-color="#870098"/><stop offset="0.3918" stop-color="#3800a3"/><stop offset="0.3949" stop-color="#3800a3"/><stop offset="0.3952" stop-color="#870098"/><stop offset="0.3953" stop-color="#830094"/><stop offset="0.3965" stop-color="#820093"/><stop offset="0.3966" stop-color="#870098"/><stop offset="0.3969" stop-color="#2d00a4"/><stop offset="0.3988" stop-color="#2d00a4"/><stop offset="0.3991" stop-color="#870098"/><stop offset="0.3992" stop-color="#820093"/><stop offset="0.4012" stop-color="#820093"/><stop offset="0.4012" stop-color="#870098"/><stop offset="0.4014" stop-color="#0300aa"/><stop offset="0.4016" stop-color="#0000d5"/><stop offset="0.4027" stop-color="#0000d5"/><stop offset="0.4029" stop-color="#0300aa"/><stop offset="0.4031" stop-color="#870098"/><stop offset="0.4031" stop-color="#810092"/><stop offset="0.4035" stop-color="#810092"/><stop offset="0.4037" stop-color="#870098"/><stop offset="0.4039" stop-color="#3800a3"/><stop offset="0.4074" stop-color="#3800a3"/><stop offset="0.4076" stop-color="#870098"/><stop offset="0.4078" stop-color="#7f0090"/><stop offset="0.4086" stop-color="#7f0090"/><stop offset="0.4087" stop-color="#870098"/><stop offset="0.4089" stop-color="#0300aa"/><stop offset="0.4090" stop-color="#0000c1"/><stop offset="0.4102" stop-color="#0000c1"/><stop offset="0.4103" stop-color="#0300aa"/><stop offset="0.4104" stop-color="#870098"/><stop offset="0.4105" stop-color="#7f0090"/><stop offset="0.4156" stop-color="#7d008e"/><stop offset="0.4169" stop-color="#700080"/><stop offset="0.4188" stop-color="#2f0035"/><stop offset="0.4922" stop-color="#000000"/></linearGradient><linearGradient id="g0_14" gradientUnits="userSpaceOnUse" x1="0" y1="0" x2="640" y2="0"><stop offset="0.0766" stop-color="#7a008b"/><stop offset="0.0777" stop-color="#7a008b"/><stop offset="0.0778" stop-color="#700080"/><stop offset="0.0781" stop-color="#000000"/><stop offset="0.1602" stop-color="#000000"/><stop offset="0.1631" stop-color="#700080"/><stop offset="0.1637" stop-color="#7a008b"/><stop offset="0.1696" stop-color="#870098"/><stop offset="0.1699" stop-color="#83009a"/><stop offset="0.1720" stop-color="#0300aa"/><stop offset="0.1741" stop-color="#0000dd"/><stop offset="0.1750" stop-color="#002fdd"/><stop offset="0.1758" stop-color="#0078dd"/><stop offset="0.1773" stop-color="#0098dd"/><stop offset="0.1787" stop-color="#00aaab"/><stop offset="0.1789" stop-color="#00aaa5"/><stop offset="0.2188" stop-color="#00aa8b"/><stop offset="0.2313" stop-color="#00aa88"/><stop offset="0.2469" stop-color="#00a97d"/><stop offset="0.2516" stop-color="#00a353"/><stop offset="0.2562" stop-color="#009a08"/><stop offset="0.2604" stop-color="#009a00"/><stop offset="0.2609" stop-color="#009a00"/><stop offset="0.2611" stop-color="#00bc00"/><stop offset="0.2613" stop-color="#00dc00"/><stop offset="0.2613" stop-color="#00e400"/><stop offset="0.2621" stop-color="#00e400"/><stop offset="0.2621" stop-color="#00dc00"/><stop offset="0.2623" stop-color="#00bc00"/><stop offset="0.2625" stop-color="#009a00"/><stop offset="0.2719" stop-color="#009a00"/><stop offset="0.2781" stop-color="#009f00"/><stop offset="0.2922" stop-color="#009a00"/><stop offset="0.3024" stop-color="#00aa88"/><stop offset="0.3086" stop-color="#00aa9d"/><stop offset="0.3141" stop-color="#00aaab"/><stop offset="0.3230" stop-color="#0098dd"/><stop offset="0.3320" stop-color="#0078dd"/><stop offset="0.3359" stop-color="#002fdd"/><stop offset="0.3398" stop-color="#0000dd"/><stop offset="0.3492" stop-color="#0000c9"/><stop offset="0.3586" stop-color="#0300aa"/><stop offset="0.3695" stop-color="#870098"/><stop offset="0.3859" stop-color="#860097"/><stop offset="0.3860" stop-color="#870098"/><stop offset="0.3861" stop-color="#0300aa"/><stop offset="0.3862" stop-color="#0000dd"/><stop offset="0.3863" stop-color="#005ddd"/><stop offset="0.3875" stop-color="#005ddd"/><stop offset="0.3876" stop-color="#0000dd"/><stop offset="0.3877" stop-color="#0300aa"/><stop offset="0.3879" stop-color="#870098"/><stop offset="0.3879" stop-color="#850096"/><stop offset="0.3914" stop-color="#830094"/><stop offset="0.3915" stop-color="#870098"/><stop offset="0.3918" stop-color="#3800a3"/><stop offset="0.3949" stop-color="#3800a3"/><stop offset="0.3952" stop-color="#870098"/><stop offset="0.3953" stop-color="#830094"/><stop offset="0.3965" stop-color="#820093"/><stop offset="0.3966" stop-color="#870098"/><stop offset="0.3969" stop-color="#2d00a4"/><stop offset="0.3988" stop-color="#2d00a4"/><stop offset="0.3991" stop-color="#870098"/><stop offset="0.3992" stop-color="#820093"/><stop offset="0.4012" stop-color="#820093"/><stop offset="0.4012" stop-color="#870098"/><stop offset="0.4014" stop-color="#0300aa"/><stop offset="0.4016" stop-color="#0000d5"/><stop offset="0.4027" stop-color="#0000d5"/><stop offset="0.4029" stop-color="#0300aa"/><stop offset="0.4031" stop-color="#870098"/><stop offset="0.4031" stop-color="#810092"/><stop offset="0.4035" stop-color="#810092"/><stop offset="0.4037" stop-color="#870098"/><stop offset="0.4039" stop-color="#3800a3"/><stop offset="0.4074" stop-color="#3800a3"/><stop offset="0.4076" stop-color="#870098"/><stop offset="0.4078" stop-color="#7f0090"/><stop offset="0.4086" stop-color="#7f0090"/><stop offset="0.4087" stop-color="#870098"/><stop offset="0.4089" stop-color="#0300aa"/><stop offset="0.4090" stop-color="#0000c1"/><stop offset="0.4102" stop-color="#0000c1"/><stop offset="0.4103" stop-color="#0300aa"/><stop offset="0.4104" stop-color="#870098"/><stop offset="0.4105" stop-color="#7f0090"/><stop offset="0.4156" stop-color="#7d008e"/><stop offset="0.4169" stop-color="#700080"/><stop offset="0.4188" stop-color="#2f0035"/><stop offset="0.4922" stop-color="#000000"/></linearGradient><linearGradient id="g0_15" gradientUnits="userSpaceOnUse" x1="0" y1="0" x2="640" y2="0"><stop offset="0.0766" stop-color="#7a008b"/><stop offset="0.0777" stop-color="#7a008b"/><stop offset="0.0778" stop-color="#700080"/><stop offset="0.0781" stop-color="#000000"/><stop offset="0.1602" stop-color="#000000"/><stop offset="0.1631" stop-color="#700080"/><stop offset="0.1637" stop-color="#7a008b"/><stop offset="0.1696" stop-color="#870098"/><stop offset="0.1699" stop-color="#83009a"/><stop offset="0.1720" stop-color="#0300aa"/><stop offset="0.1741" stop-color="#0000dd"/><stop offset="0.1750" stop-color="#002fdd"/><stop offset="0.1761" stop-color="#0078dd"/><stop offset="0.1780" stop-color="#0098dd"/><stop offset="0.1789" stop-color="#00a0c7"/><stop offset="0.1975" stop-color="#00aaab"/><stop offset="0.2188" stop-color="#00aa95"/><stop offset="0.2391" stop-color="#00aa8d"/><stop offset="0.2436" stop-color="#00aa88"/><stop offset="0.2469" stop-color="#00a97d"/><stop offset="0.2516" stop-color="#00a353"/><stop offset="0.2562" stop-color="#009a08"/><stop offset="0.2588" stop-color="#009a00"/><stop offset="0.2609" stop-color="#009a00"/><stop offset="0.2611" stop-color="#00bc00"/><stop offset="0.2613" stop-color="#00d700"/><stop offset="0.2621" stop-color="#00d700"/><stop offset="0.2623" stop-color="#00bc00"/><stop offset="0.2625" stop-color="#009c00"/><stop offset="0.2781" stop-color="#00a700"/><stop offset="0.2922" stop-color="#009a00"/><stop offset="0.3024" stop-color="#00aa88"/><stop offset="0.3086" stop-color="#00aa9d"/><stop offset="0.3141" stop-color="#00aaab"/><stop offset="0.3230" stop-color="#0098dd"/><stop offset="0.3320" stop-color="#0078dd"/><stop offset="0.3359" stop-color="#002fdd"/><stop offset="0.3398" stop-color="#0000dd"/><stop offset="0.3492" stop-color="#0000c9"/><stop offset="0.3586" stop-color="#0300aa"/><stop offset="0.3695" stop-color="#870098"/><stop offset="0.3859" stop-color="#860097"/><stop offset="0.3860" stop-color="#870098"/><stop offset="0.3861" stop-color="#0300aa"/><stop offset="0.3862" stop-color="#0000dd"/><stop offset="0.3863" stop-color="#005ddd"/><stop offset="0.3875" stop-color="#005ddd"/><stop offset="0.3876" stop-color="#0000dd"/><stop offset="0.3877" stop-color="#0300aa"/><stop offset="0.3879" stop-color="#870098"/><stop offset="0.3879" stop-color="#850096"/><stop offset="0.3914" stop-color="#830094"/><stop offset="0.3915" stop-color="#870098"/><stop offset="0.3918" stop-color="#3800a3"/><stop offset="0.3949" stop-color="#3800a3"/><stop offset="0.3952" stop-color="#870098"/><stop offset="0.3953" stop-color="#830094"/><stop offset="0.3965" stop-color="#820093"/><stop offset="0.3966" stop-color="#870098"/><stop offset="0.3969" stop-color="#2d00a4"/><stop offset="0.3988" stop-color="#2d00a4"/><stop offset="0.3991" stop-color="#870098"/><stop offset="0.3992" stop-color="#820093"/><stop offset="0.4012" stop-color="#820093"/><stop offset="0.4012" stop-color="#870098"/><stop offset="0.4014" stop-color="#0300aa"/><stop offset="0.4016" stop-color="#0000d5"/><stop offset="0.4027" stop-color="#0000d5"/><stop offset="0.4029" stop-color="#0300aa"/><stop offset="0.4031" stop-color="#870098"/><stop offset="0.4031" stop-color="#810092"/><stop offset="0.4035" stop-color="#810092"/><stop offset="0.4037" stop-color="#870098"/><stop offset="0.4039" stop-color="#3800a3"/><stop offset="0.4074" stop-color="#3800a3"/><stop offset="0.4076" stop-color="#870098"/><stop offset="0.4078" stop-color="#7f0090"/><stop offset="0.4086" stop-color="#7f0090"/><stop offset="0.4087" stop-color="#870098"/><stop offset="0.4089" stop-color="#0300aa"/><stop offset="0.4090" stop-color="#0000c1"/><stop offset="0.4102" stop-color="#0000c1"/><stop offset="0.4103" stop-color="#0300aa"/><stop offset="0.4104" stop-color="#870098"/><stop offset="0.4105" stop-color="#7f0090"/><stop offset="0.4156" stop-color="#7d008e"/><stop offset="0.4169" stop-color="#700080"/><stop offset="0.4188" stop-color="#2f0035"/><stop offset="0.4922" stop-color="#000000"/></linearGradient><linearGradient id="g0_16" gradientUnits="userSpaceOnUse" x1="0" y1="0" x2="640" y2="0"><stop offset="0.0766" stop-color="#7a008b"/><stop offset="0.0777" stop-color="#7a008b"/><stop offset="0.0778" stop-color="#700080"/><stop offset="0.0781" stop-color="#000000"/><stop offset="0.1602" stop-color="#000000"/><stop offset="0.1631" stop-color="#700080"/><stop offset="0.1637" stop-color="#7a008b"/><stop offset="0.1696" stop-color="#870098"/><stop offset="0.1699" stop-color="#83009a"/><stop offset="0.1720" stop-color="#0300aa"/><stop offset="0.1742" stop-color="#0000dd"/><stop offset="0.1764" stop-color="#0078dd"/><stop offset="0.1786" stop-color="#0098dd"/><stop offset="0.1789" stop-color="#009bd7"/><stop offset="0.2078" stop-color="#00aaab"/><stop offset="0.2188" stop-color="#00aaa0"/><stop offset="0.2391" stop-color="#00aa93"/><stop offset="0.2443" stop-color="#00aa88"/><stop offset="0.2516" stop-color="#00a353"/><stop offset="0.2562" stop-color="#009a08"/><stop offset="0.2625" stop-color="#009a00"/><stop offset="0.2672" stop-color="#009a00"/><stop offset="0.2719" stop-color="#009a00"/><stop offset="0.2777" stop-color="#009f00"/><stop offset="0.2906" stop-color="#009a00"/><stop offset="0.3009" stop-color="#00aa88"/><stop offset="0.3070" stop-color="#00aa9d"/><stop offset="0.3125" stop-color="#00aaab"/><stop offset="0.3215" stop-color="#0098dd"/><stop offset="0.3305" stop-color="#0078dd"/><stop offset="0.3344" stop-color="#002fdd"/><stop offset="0.3383" stop-color="#0000dd"/><stop offset="0.3477" stop-color="#0000c9"/><stop offset="0.3570" stop-color="#0300aa"/><stop offset="0.3680" stop-color="#870098"/><stop offset="0.3859" stop-color="#860097"/><stop offset="0.3860" stop-color="#870098"/><stop offset="0.3861" stop-color="#0300aa"/><stop offset="0.3862" stop-color="#0000dd"/><stop offset="0.3863" stop-color="#005ddd"/><stop offset="0.3875" stop-color="#005ddd"/><stop offset="0.3876" stop-color="#0000dd"/><stop offset="0.3877" stop-color="#0300aa"/><stop offset="0.3879" stop-color="#870098"/><stop offset="0.3879" stop-color="#850096"/><stop offset="0.3914" stop-color="#830094"/><stop offset="0.3915" stop-color="#870098"/><stop offset="0.3918" stop-color="#3800a3"/><stop offset="0.3949" stop-color="#3800a3"/><stop offset="0.3952" stop-color="#870098"/><stop offset="0.3953" stop-color="#830094"/><stop offset="0.3965" stop-color="#820093"/><stop offset="0.3966" stop-color="#870098"/><stop offset="0.3969" stop-color="#2d00a4"/><stop offset="0.3988" stop-color="#2d00a4"/><stop offset="0.3991" stop-color="#870098"/><stop offset="0.3992" stop-color="#820093"/><stop offset="0.4012" stop-color="#820093"/><stop offset="0.4012" stop-color="#870098"/><stop offset="0.4014" stop-color="#0300aa"/><stop offset="0.4016" stop-color="#0000d5"/><stop offset="0.4027" stop-color="#0000d5"/><stop offset="0.4029" stop-color="#0300aa"/><stop offset="0.4031" stop-color="#870098"/><stop offset="0.4031" stop-color="#810092"/><stop offset="0.4035" stop-color="#810092"/><stop offset="0.4037" stop-color="#870098"/><stop offset="0.4039" stop-color="#3800a3"/><stop offset="0.4074" stop-color="#3800a3"/><stop offset="0.4076" stop-color="#870098"/><stop offset="0.4078" stop-color="#7f0090"/><stop offset="0.4086" stop-color="#7f0090"/><stop offset="0.4087" stop-color="#870098"/><stop offset="0.4089" stop-color="#0300aa"/><stop offset="0.4090" stop-color="#0000c1"/><stop offset="0.4102" stop-color="#0000c1"/><stop offset="0.4103" stop-color="#0300aa"/><stop offset="0.4104" stop-color="#870098"/><stop offset="0.4105" stop-color="#7f0090"/><stop offset="0.4156" stop-color="#7d008e"/><stop offset="0.4169" stop-color="#700080"/><stop offset="0.4188" stop-color="#2f0035"/><stop offset="0.4922" stop-color="#000000"/></linearGradient><linearGradient id="g0_17" gradientUnits="userSpaceOnUse" x1="0" y1="0" x2="640" y2="0"><stop offset="0.0766" stop-color="#7a008b"/><stop offset="0.0777" stop-color="#7a008b"/><stop offset="0.0778" stop-color="#700080"/><stop offset="0.0781" stop-color="#000000"/><stop offset="0.1602" stop-color="#000000"/><stop offset="0.1631" stop-color="#700080"/><stop offset="0.1637" stop-color="#7a008b"/><stop offset="0.1696" stop-color="#870098"/><stop offset="0.1699" stop-color="#83009a"/><stop offset="0.1720" stop-color="#0300aa"/><stop offset="0.1741" stop-color="#0000dd"/><stop offset="0.1750" stop-color="#002fdd"/><stop offset="0.1765" stop-color="#0078dd"/><stop offset="0.1789" stop-color="#0098dd"/><stop offset="0.1805" stop-color="#0098dd"/><stop offset="0.2193" stop-color="#00aaab"/><stop offset="0.2391" stop-color="#00aa98"/><stop offset="0.2453" stop-color="#00aa88"/><stop offset="0.2453" stop-color="#00aa88"/><stop offset="0.2456" stop-color="#009a00"/><stop offset="0.2457" stop-color="#00a700"/><stop offset="0.2465" stop-color="#00a700"/><stop offset="0.2466" stop-color="#009a00"/><stop offset="0.2469" stop-color="#00a97d"/><stop offset="0.2516" stop-color="#00a353"/><stop offset="0.2562" stop-color="#009a08"/><stop offset="0.2625" stop-color="#009a00"/><stop offset="0.2672" stop-color="#009a00"/><stop offset="0.2719" stop-color="#009a00"/><stop offset="0.2777" stop-color="#009f00"/><stop offset="0.2898" stop-color="#009a00"/><stop offset="0.2977" stop-color="#00aa88"/><stop offset="0.3117" stop-color="#00aaab"/><stop offset="0.3203" stop-color="#0098dd"/><stop offset="0.3276" stop-color="#0078dd"/><stop offset="0.3320" stop-color="#002fdd"/><stop offset="0.3383" stop-color="#0000dd"/><stop offset="0.3602" stop-color="#0300aa"/><stop offset="0.3695" stop-color="#870098"/><stop offset="0.3859" stop-color="#860097"/><stop offset="0.3860" stop-color="#870098"/><stop offset="0.3861" stop-color="#0300aa"/><stop offset="0.3862" stop-color="#0000dd"/><stop offset="0.3863" stop-color="#0067dd"/><stop offset="0.3875" stop-color="#0067dd"/><stop offset="0.3876" stop-color="#0000dd"/><stop offset="0.3877" stop-color="#0300aa"/><stop offset="0.3879" stop-color="#870098"/><stop offset="0.3879" stop-color="#850096"/><stop offset="0.3914" stop-color="#830094"/><stop offset="0.3915" stop-color="#870098"/><stop offset="0.3918" stop-color="#2d00a4"/><stop offset="0.3949" stop-color="#2d00a4"/><stop offset="0.3952" stop-color="#870098"/><stop offset="0.3953" stop-color="#830094"/><stop offset="0.3965" stop-color="#820093"/><stop offset="0.3966" stop-color="#870098"/><stop offset="0.3969" stop-color="#2300a6"/><stop offset="0.3988" stop-color="#2300a6"/><stop offset="0.3991" stop-color="#870098"/><stop offset="0.3992" stop-color="#820093"/><stop offset="0.4012" stop-color="#820093"/><stop offset="0.4012" stop-color="#870098"/><stop offset="0.4014" stop-color="#0300aa"/><stop offset="0.4016" stop-color="#0000d9"/><stop offset="0.4027" stop-color="#0000d9"/><stop offset="0.4029" stop-color="#0300aa"/><stop offset="0.4031" stop-color="#870098"/><stop offset="0.4031" stop-color="#810092"/><stop offset="0.4035" stop-color="#810092"/><stop offset="0.4037" stop-color="#870098"/><stop offset="0.4039" stop-color="#3800a3"/><stop offset="0.4074" stop-color="#3800a3"/><stop offset="0.4077" stop-color="#870098"/><stop offset="0.4078" stop-color="#7f0090"/><stop offset="0.4086" stop-color="#7f0090"/><stop offset="0.4087" stop-color="#870098"/><stop offset="0.4089" stop-color="#0300aa"/><stop offset="0.4090" stop-color="#0000c9"/><stop offset="0.4102" stop-color="#0000c9"/><stop offset="0.4103" stop-color="#0300aa"/><stop offset="0.4105" stop-color="#870098"/><stop offset="0.4105" stop-color="#7f0090"/><stop offset="0.4156" stop-color="#7d008e"/><stop offset="0.4169" stop-color="#700080"/><stop offset="0.4188" stop-color="#2f0035"/><stop offset="0.4922" stop-color="#000000"/></linearGradient><linearGradient id="g0_18" gradientUnits="userSpaceOnUse" x1="0" y1="0" x2="640" y2="0"><stop offset="0.0766" stop-color="#7a008b"/><stop offset="0.0777" stop-color="#7a008b"/><stop offset="0.0778" stop-color="#700080"/><stop offset="0.0781" stop-color="#000000"/><stop offset="0.1602" stop-color="#000000"/><stop offset="0.1631" stop-color="#700080"/><stop offset="0.1637" stop-color="#7a008b"/><stop offset="0.1696" stop-color="#870098"/><stop offset="0.1699" stop-color="#83009a"/><stop offset="0.1720" stop-color="#0300aa"/><stop offset="0.1741" stop-color="#0000dd"/><stop offset="0.1750" stop-color="#002fdd"/><stop offset="0.1759" stop-color="#0078dd"/><stop offset="0.1774" stop-color="#0098dd"/><stop offset="0.1789" stop-color="#00aaab"/><stop offset="0.1808" stop-color="#00aaab"/><stop offset="0.2188" stop-color="#00aa8d"/><stop offset="0.2368" stop-color="#00aa88"/><stop offset="0.2469" stop-color="#00a97d"/><stop offset="0.2516" stop-color="#00a353"/><stop offset="0.2562" stop-color="#009b13"/><stop offset="0.2672" stop-color="#009a00"/><stop offset="0.2719" stop-color="#009a08"/><stop offset="0.2742" stop-color="#009a00"/><stop offset="0.2781" stop-color="#009c00"/><stop offset="0.2898" stop-color="#009a00"/><stop offset="0.2922" stop-color="#009a08"/><stop offset="0.3024" stop-color="#00aa88"/><stop offset="0.3086" stop-color="#00aa9d"/><stop offset="0.3141" stop-color="#00aaab"/><stop offset="0.3230" stop-color="#0098dd"/><stop offset="0.3320" stop-color="#0078dd"/><stop offset="0.3359" stop-color="#002fdd"/><stop offset="0.3398" stop-color="#0000dd"/><stop offset="0.3492" stop-color="#0000c9"/><stop offset="0.3586" stop-color="#0300aa"/><stop offset="0.3695" stop-color="#870098"/><stop offset="0.3859" stop-color="#860097"/><stop offset="0.3860" stop-color="#870098"/><stop offset="0.3861" stop-color="#0300aa"/><stop offset="0.3862" stop-color="#0000dd"/><stop offset="0.3863" stop-color="#0067dd"/><stop offset="0.3875" stop-color="#0067dd"/><stop offset="0.3876" stop-color="#0000dd"/><stop offset="0.3877" stop-color="#0300aa"/><stop offset="0.3879" stop-color="#870098"/><stop offset="0.3879" stop-color="#850096"/><stop offset="0.3914" stop-color="#830094"/><stop offset="0.3915" stop-color="#870098"/><stop offset="0.3918" stop-color="#2300a6"/><stop offset="0.3949" stop-color="#2300a6"/><stop offset="0.3952" stop-color="#870098"/><stop offset="0.3953" stop-color="#830094"/><stop offset="0.3965" stop-color="#820093"/><stop offset="0.3966" stop-color="#870098"/><stop offset="0.3969" stop-color="#1800a7"/><stop offset="0.3988" stop-color="#1800a7"/><stop offset="0.3991" stop-color="#870098"/><stop offset="0.3992" stop-color="#820093"/><stop offset="0.4012" stop-color="#820093"/><stop offset="0.4012" stop-color="#870098"/><stop offset="0.4014" stop-color="#0300aa"/><stop offset="0.4016" stop-color="#0000dd"/><stop offset="0.4016" stop-color="#0000dd"/><stop offset="0.4027" stop-color="#0000dd"/><stop offset="0.4027" stop-color="#0000dd"/><stop offset="0.4029" stop-color="#0300aa"/><stop offset="0.4031" stop-color="#870098"/><stop offset="0.4031" stop-color="#810092"/><stop offset="0.4035" stop-color="#810092"/><stop offset="0.4037" stop-color="#870098"/><stop offset="0.4039" stop-color="#2d00a4"/><stop offset="0.4074" stop-color="#2d00a4"/><stop offset="0.4077" stop-color="#870098"/><stop offset="0.4078" stop-color="#7f0090"/><stop offset="0.4086" stop-color="#7f0090"/><stop offset="0.4087" stop-color="#870098"/><stop offset="0.4089" stop-color="#0300aa"/><stop offset="0.4090" stop-color="#0000cd"/><stop offset="0.4102" stop-color="#0000cd"/><stop offset="0.4103" stop-color="#0300aa"/><stop offset="0.4105" stop-color="#870098"/><stop offset="0.4105" stop-color="#7f0090"/><stop offset="0.4156" stop-color="#7d008e"/><stop offset="0.4169" stop-color="#700080"/><stop offset="0.4188" stop-color="#2f0035"/><stop offset="0.4922" stop-color="#000000"/></linearGradient><linearGradient id="s0_19" gradientUnits="userSpaceOnUse" x1="0" y1="0" x2="640" y2="0"><stop offset="0.0766" stop-color="#7a008b"/><stop offset="0.0777" stop-color="#7a008b"/><stop offset="0.0778" stop-color="#700080"/><stop offset="0.0781" stop-color="#000000"/><stop offset="0.1602" stop-color="#000000"/><stop offset="0.1637" stop-color="#4b0055"/><stop offset="0.1686" stop-color="#700080"/><stop offset="0.1699" stop-color="#79008a"/><stop offset="0.1737" stop-color="#870098"/><stop offset="0.1750" stop-color="#63009e"/><stop offset="0.1770" stop-color="#0300aa"/><stop offset="0.1789" stop-color="#0000c9"/><stop offset="0.2068" stop-color="#0000dd"/><stop offset="0.2188" stop-color="#0013dd"/><stop offset="0.2469" stop-color="#0025dd"/><stop offset="0.2562" stop-color="#004bdd"/><stop offset="0.2781" stop-color="#005ddd"/><stop offset="0.2922" stop-color="#0054dd"/><stop offset="0.3074" stop-color="#0000dd"/><stop offset="0.3141" stop-color="#0000cd"/><stop offset="0.3259" stop-color="#0300aa"/><stop offset="0.3398" stop-color="#78009b"/><stop offset="0.3467" stop-color="#870098"/><stop offset="0.3586" stop-color="#820093"/><stop offset="0.3695" stop-color="#79008a"/><stop offset="0.3859" stop-color="#79008a"/><stop offset="0.3862" stop-color="#870098"/><stop offset="0.3863" stop-color="#3800a3"/><stop offset="0.3875" stop-color="#3800a3"/><stop offset="0.3876" stop-color="#870098"/><stop offset="0.3879" stop-color="#770088"/><stop offset="0.3914" stop-color="#770088"/><stop offset="0.3918" stop-color="#7f0090"/><stop offset="0.3949" stop-color="#7f0090"/><stop offset="0.3953" stop-color="#770088"/><stop offset="0.3962" stop-color="#700080"/><stop offset="0.3965" stop-color="#700080"/><stop offset="0.3965" stop-color="#700080"/><stop offset="0.3969" stop-color="#7f0090"/><stop offset="0.3988" stop-color="#810092"/><stop offset="0.3992" stop-color="#700080"/><stop offset="0.3992" stop-color="#700080"/><stop offset="0.4012" stop-color="#700080"/><stop offset="0.4012" stop-color="#700080"/><stop offset="0.4015" stop-color="#870098"/><stop offset="0.4016" stop-color="#78009b"/><stop offset="0.4027" stop-color="#78009b"/><stop offset="0.4028" stop-color="#870098"/><stop offset="0.4031" stop-color="#700080"/><stop offset="0.4031" stop-color="#700080"/><stop offset="0.4035" stop-color="#700080"/><stop offset="0.4035" stop-color="#700080"/><stop offset="0.4039" stop-color="#7f0090"/><stop offset="0.4066" stop-color="#7f0090"/><stop offset="0.4074" stop-color="#7e008f"/><stop offset="0.4077" stop-color="#700080"/><stop offset="0.4078" stop-color="#670075"/><stop offset="0.4086" stop-color="#670075"/><stop offset="0.4086" stop-color="#700080"/><stop offset="0.4090" stop-color="#870098"/><stop offset="0.4090" stop-color="#870098"/><stop offset="0.4102" stop-color="#870098"/><stop offset="0.4102" stop-color="#870098"/><stop offset="0.4105" stop-color="#700080"/><stop offset="0.4105" stop-color="#670075"/><stop offset="0.4156" stop-color="#5d006b"/><stop offset="0.4188" stop-color="#25002b"/><stop offset="0.4922" stop-color="#000000"/></linearGradient><linearGradient id="g0_19" gradientUnits="userSpaceOnUse" x1="0" y1="0" x2="640" y2="0"><stop offset="0.0766" stop-color="#7a008b"/><stop offset="0.0777" stop-color="#7a008b"/><stop offset="0.0778" stop-color="#700080"/><stop offset="0.0781" stop-color="#000000"/><stop offset="0.1578" stop-color="#000000"/><stop offset="0.1844" stop-color="#25002b"/><stop offset="0.2188" stop-color="#380040"/><stop offset="0.2812" stop-color="#380040"/><stop offset="0.2848" stop-color="#25002b"/><stop offset="0.2852" stop-color="#380040"/><stop offset="0.3117" stop-color="#25002b"/><stop offset="0.3441" stop-color="#25002b"/><stop offset="0.3445" stop-color="#1c0020"/><stop offset="0.3863" stop-color="#25002b"/><stop offset="0.3867" stop-color="#1c0020"/><stop offset="0.3906" stop-color="#25002b"/><stop offset="0.4922" stop-color="#000000"/></linearGradient><linearGradient id="s0_20" gradientUnits="userSpaceOnUse" x1="0" y1="0" x2="640" y2="0"><stop offset="0.0766" stop-color="#7a008b"/><stop offset="0.0777" stop-color="#7a008b"/><stop offset="0.0778" stop-color="#700080"/><stop offset="0.0781" stop-color="#000000"/><stop offset="0.1570" stop-color="#000000"/><stop offset="0.1601" stop-color="#700080"/><stop offset="0.1617" stop-color="#7f0090"/><stop offset="0.1628" stop-color="#870098"/><stop offset="0.1651" stop-color="#0300aa"/><stop offset="0.1674" stop-color="#0000dd"/><stop offset="0.1688" stop-color="#0041dd"/><stop offset="0.1713" stop-color="#0078dd"/><stop offset="0.1719" stop-color="#007add"/><stop offset="0.1797" stop-color="#0098dd"/><stop offset="0.1875" stop-color="#00a8af"/><stop offset="0.1900" stop-color="#00aaab"/><stop offset="0.1938" stop-color="#00aaa5"/><stop offset="0.2125" stop-color="#00aaa3"/><stop offset="0.2240" stop-color="#00aaab"/><stop offset="0.2281" stop-color="#00a8af"/><stop offset="0.2719" stop-color="#00a4bb"/><stop offset="0.2883" stop-color="#0098dd"/><stop offset="0.3117" stop-color="#0078dd"/><stop offset="0.3133" stop-color="#0070dd"/><stop offset="0.3250" stop-color="#0041dd"/><stop offset="0.3289" stop-color="#0013dd"/><stop offset="0.3322" stop-color="#0000dd"/><stop offset="0.3461" stop-color="#0000b1"/><stop offset="0.3518" stop-color="#0300aa"/><stop offset="0.3641" stop-color="#3800a3"/><stop offset="0.3719" stop-color="#78009b"/><stop offset="0.3784" stop-color="#870098"/><stop offset="0.3812" stop-color="#860097"/><stop offset="0.3855" stop-color="#850096"/><stop offset="0.3856" stop-color="#870098"/><stop offset="0.3859" stop-color="#0300aa"/><stop offset="0.3863" stop-color="#0300aa"/><stop offset="0.3875" stop-color="#0d00a8"/><stop offset="0.3878" stop-color="#870098"/><stop offset="0.3879" stop-color="#830094"/><stop offset="0.3906" stop-color="#850096"/><stop offset="0.3910" stop-color="#79008a"/><stop offset="0.3918" stop-color="#79008a"/><stop offset="0.3922" stop-color="#830094"/><stop offset="0.3949" stop-color="#830094"/><stop offset="0.3953" stop-color="#79008a"/><stop offset="0.3969" stop-color="#79008a"/><stop offset="0.3973" stop-color="#820093"/><stop offset="0.4004" stop-color="#820093"/><stop offset="0.4005" stop-color="#870098"/><stop offset="0.4008" stop-color="#1800a7"/><stop offset="0.4023" stop-color="#1800a7"/><stop offset="0.4026" stop-color="#870098"/><stop offset="0.4027" stop-color="#820093"/><stop offset="0.4039" stop-color="#820093"/><stop offset="0.4043" stop-color="#7d008e"/><stop offset="0.4066" stop-color="#7d008e"/><stop offset="0.4070" stop-color="#810092"/><stop offset="0.4090" stop-color="#810092"/><stop offset="0.4093" stop-color="#870098"/><stop offset="0.4094" stop-color="#78009b"/><stop offset="0.4109" stop-color="#78009b"/><stop offset="0.4110" stop-color="#870098"/><stop offset="0.4113" stop-color="#7f0090"/><stop offset="0.4133" stop-color="#79008a"/><stop offset="0.4188" stop-color="#770088"/><stop offset="0.4190" stop-color="#700080"/><stop offset="0.4219" stop-color="#41004b"/><stop offset="0.4813" stop-color="#000000"/><stop offset="0.4922" stop-color="#000000"/></linearGradient><linearGradient id="g0_20" gradientUnits="userSpaceOnUse" x1="0" y1="0" x2="640" y2="0"><stop offset="0.0766" stop-color="#7a008b"/><stop offset="0.0777" stop-color="#7a008b"/><stop offset="0.0778" stop-color="#700080"/><stop offset="0.0781" stop-color="#000000"/><stop offset="0.1570" stop-color="#000000"/><stop offset="0.1585" stop-color="#700080"/><stop offset="0.1594" stop-color="#810092"/><stop offset="0.1600" stop-color="#870098"/><stop offset="0.1617" stop-color="#0300aa"/><stop offset="0.1629" stop-color="#0000dd"/><stop offset="0.1641" stop-color="#0078dd"/><stop offset="0.1652" stop-color="#0098dd"/><stop offset="0.1664" stop-color="#00aaab"/><stop offset="0.1676" stop-color="#00aa88"/><stop offset="0.1688" stop-color="#009a00"/><stop offset="0.1719" stop-color="#00bc00"/><stop offset="0.1766" stop-color="#00dc00"/><stop offset="0.1812" stop-color="#00ff00"/><stop offset="0.1844" stop-color="#93ff00"/><stop offset="0.1854" stop-color="#bcff00"/><stop offset="0.1875" stop-color="#d0f800"/><stop offset="0.1938" stop-color="#e8f000"/><stop offset="0.2125" stop-color="#e8f000"/><stop offset="0.2281" stop-color="#d0f800"/><stop offset="0.2656" stop-color="#c0fd00"/><stop offset="0.2687" stop-color="#bcff00"/><stop offset="0.2719" stop-color="#b0ff00"/><stop offset="0.2766" stop-color="#75ff00"/><stop offset="0.2828" stop-color="#00ff00"/><stop offset="0.2938" stop-color="#00e400"/><stop offset="0.2961" stop-color="#00dc00"/><stop offset="0.3080" stop-color="#00bc00"/><stop offset="0.3187" stop-color="#009c00"/><stop offset="0.3208" stop-color="#009a00"/><stop offset="0.3250" stop-color="#009d1d"/><stop offset="0.3289" stop-color="#00aa88"/><stop offset="0.3387" stop-color="#00aaab"/><stop offset="0.3406" stop-color="#00a7b3"/><stop offset="0.3469" stop-color="#0098dd"/><stop offset="0.3612" stop-color="#0078dd"/><stop offset="0.3641" stop-color="#005ddd"/><stop offset="0.3719" stop-color="#0000dd"/><stop offset="0.3812" stop-color="#0000c1"/><stop offset="0.3855" stop-color="#0000bd"/><stop offset="0.3857" stop-color="#0000dd"/><stop offset="0.3858" stop-color="#0078dd"/><stop offset="0.3859" stop-color="#008add"/><stop offset="0.3875" stop-color="#008add"/><stop offset="0.3876" stop-color="#0078dd"/><stop offset="0.3878" stop-color="#0000dd"/><stop offset="0.3879" stop-color="#0000b9"/><stop offset="0.3906" stop-color="#0000b9"/><stop offset="0.3907" stop-color="#0300aa"/><stop offset="0.3910" stop-color="#870098"/><stop offset="0.3918" stop-color="#870098"/><stop offset="0.3921" stop-color="#0300aa"/><stop offset="0.3922" stop-color="#0000b5"/><stop offset="0.3949" stop-color="#0000b1"/><stop offset="0.3950" stop-color="#0300aa"/><stop offset="0.3953" stop-color="#870098"/><stop offset="0.3969" stop-color="#870098"/><stop offset="0.3972" stop-color="#0300aa"/><stop offset="0.3973" stop-color="#0000b1"/><stop offset="0.4004" stop-color="#0000ad"/><stop offset="0.4005" stop-color="#0000dd"/><stop offset="0.4007" stop-color="#0078dd"/><stop offset="0.4008" stop-color="#0085dd"/><stop offset="0.4023" stop-color="#0085dd"/><stop offset="0.4024" stop-color="#0078dd"/><stop offset="0.4026" stop-color="#0000dd"/><stop offset="0.4027" stop-color="#0000ad"/><stop offset="0.4039" stop-color="#0300aa"/><stop offset="0.4039" stop-color="#0300aa"/><stop offset="0.4043" stop-color="#58009f"/><stop offset="0.4066" stop-color="#58009f"/><stop offset="0.4070" stop-color="#0300aa"/><stop offset="0.4090" stop-color="#0d00a8"/><stop offset="0.4090" stop-color="#0300aa"/><stop offset="0.4094" stop-color="#0000dd"/><stop offset="0.4109" stop-color="#0000dd"/><stop offset="0.4113" stop-color="#0300aa"/><stop offset="0.4113" stop-color="#2300a6"/><stop offset="0.4133" stop-color="#870098"/><stop offset="0.4188" stop-color="#850096"/><stop offset="0.4219" stop-color="#700080"/><stop offset="0.4813" stop-color="#000000"/><stop offset="0.4922" stop-color="#000000"/></linearGradient><linearGradient id="g0_21" gradientUnits="userSpaceOnUse" x1="0" y1="0" x2="640" y2="0"><stop offset="0.0766" stop-color="#7a008b"/><stop offset="0.0777" stop-color="#7a008b"/><stop offset="0.0778" stop-color="#700080"/><stop offset="0.0781" stop-color="#000000"/><stop offset="0.1570" stop-color="#000000"/><stop offset="0.1585" stop-color="#700080"/><stop offset="0.1594" stop-color="#810092"/><stop offset="0.1600" stop-color="#870098"/><stop offset="0.1617" stop-color="#0300aa"/><stop offset="0.1629" stop-color="#0000dd"/><stop offset="0.1641" stop-color="#0078dd"/><stop offset="0.1652" stop-color="#0098dd"/><stop offset="0.1664" stop-color="#00aaab"/><stop offset="0.1676" stop-color="#00aa88"/><stop offset="0.1688" stop-color="#009a00"/><stop offset="0.1719" stop-color="#00bc00"/><stop offset="0.1766" stop-color="#00dc00"/><stop offset="0.1812" stop-color="#00ff00"/><stop offset="0.1844" stop-color="#93ff00"/><stop offset="0.1854" stop-color="#bcff00"/><stop offset="0.1875" stop-color="#d0f800"/><stop offset="0.1938" stop-color="#e8f000"/><stop offset="0.2125" stop-color="#e8f000"/><stop offset="0.2281" stop-color="#d0f800"/><stop offset="0.2656" stop-color="#c0fd00"/><stop offset="0.2687" stop-color="#bcff00"/><stop offset="0.2719" stop-color="#b0ff00"/><stop offset="0.2766" stop-color="#75ff00"/><stop offset="0.2828" stop-color="#00ff00"/><stop offset="0.2938" stop-color="#00e400"/><stop offset="0.2961" stop-color="#00dc00"/><stop offset="0.3080" stop-color="#00bc00"/><stop offset="0.3187" stop-color="#009c00"/><stop offset="0.3208" stop-color="#009a00"/><stop offset="0.3250" stop-color="#009d1d"/><stop offset="0.3289" stop-color="#00aa88"/><stop offset="0.3387" stop-color="#00aaab"/><stop offset="0.3406" stop-color="#00a7b3"/><stop offset="0.3469" stop-color="#0098dd"/><stop offset="0.3612" stop-color="#0078dd"/><stop offset="0.3641" stop-color="#005ddd"/><stop offset="0.3719" stop-color="#0000dd"/><stop offset="0.3812" stop-color="#0000c1"/><stop offset="0.3855" stop-color="#0000bd"/><stop offset="0.3857" stop-color="#0000dd"/><stop offset="0.3858" stop-color="#0078dd"/><stop offset="0.3859" stop-color="#008add"/><stop offset="0.3875" stop-color="#008add"/><stop offset="0.3876" stop-color="#0078dd"/><stop offset="0.3878" stop-color="#0000dd"/><stop offset="0.3879" stop-color="#0000b9"/><stop offset="0.3906" stop-color="#0000b9"/><stop offset="0.3907" stop-color="#0300aa"/><stop offset="0.3910" stop-color="#870098"/><stop offset="0.3918" stop-color="#870098"/><stop offset="0.3921" stop-color="#0300aa"/><stop offset="0.3922" stop-color="#0000b5"/><stop offset="0.3949" stop-color="#0000b1"/><stop offset="0.3950" stop-color="#0300aa"/><stop offset="0.3953" stop-color="#870098"/><stop offset="0.3969" stop-color="#870098"/><stop offset="0.3972" stop-color="#0300aa"/><stop offset="0.3973" stop-color="#0000b1"/><stop offset="0.4004" stop-color="#0000ad"/><stop offset="0.4005" stop-color="#0000dd"/><stop offset="0.4007" stop-color="#0078dd"/><stop offset="0.4008" stop-color="#0085dd"/><stop offset="0.4023" stop-color="#0085dd"/><stop offset="0.4024" stop-color="#0078dd"/><stop offset="0.4026" stop-color="#0000dd"/><stop offset="0.4027" stop-color="#0000ad"/><stop offset="0.4039" stop-color="#0300aa"/><stop offset="0.4039" stop-color="#0300aa"/><stop offset="0.4043" stop-color="#58009f"/><stop offset="0.4066" stop-color="#58009f"/><stop offset="0.4070" stop-color="#0300aa"/><stop offset="0.4090" stop-color="#0d00a8"/><stop offset="0.4090" stop-color="#0300aa"/><stop offset="0.4094" stop-color="#0000dd"/><stop offset="0.4109" stop-color="#0000dd"/><stop offset="0.4113" stop-color="#0300aa"/><stop offset="0.4113" stop-color="#2300a6"/><stop offset="0.4133" stop-color="#870098"/><stop offset="0.4188" stop-color="#850096"/><stop offset="0.4219" stop-color="#700080"/><stop offset="0.4813" stop-color="#000000"/><stop offset="0.4922" stop-color="#000000"/></linearGradient><linearGradient id="g1_0" gradientUnits="userSpaceOnUse" x1="0" y1="0" x2="640" y2="0"><stop offset="0.5141" stop-color="#7a008b"/><stop offset="0.5152" stop-color="#7a008b"/><stop offset="0.5156" stop-color="#700080"/><stop offset="0.5156" stop-color="#700080"/><stop offset="0.5164" stop-color="#09000b"/><stop offset="0.5961" stop-color="#09000b"/><stop offset="0.5977" stop-color="#700080"/><stop offset="0.5994" stop-color="#870098"/><stop offset="0.6011" stop-color="#0300aa"/><stop offset="0.6012" stop-color="#0000ad"/><stop offset="0.6023" stop-color="#0000dd"/><stop offset="0.6035" stop-color="#0078dd"/><stop offset="0.6046" stop-color="#0098dd"/><stop offset="0.6058" stop-color="#00aaab"/><stop offset="0.6070" stop-color="#00aa88"/><stop offset="0.6082" stop-color="#009a00"/><stop offset="0.6082" stop-color="#009a00"/><stop offset="0.6108" stop-color="#00bc00"/><stop offset="0.6135" stop-color="#00dc00"/><stop offset="0.6141" stop-color="#00e400"/><stop offset="0.6179" stop-color="#00ff00"/><stop offset="0.6227" stop-color="#bcff00"/><stop offset="0.6266" stop-color="#dcf400"/><stop offset="0.6344" stop-color="#ecef00"/><stop offset="0.6641" stop-color="#d8f500"/><stop offset="0.7109" stop-color="#c8fb00"/><stop offset="0.7153" stop-color="#bcff00"/><stop offset="0.7172" stop-color="#b0ff00"/><stop offset="0.7248" stop-color="#00ff00"/><stop offset="0.7281" stop-color="#00f200"/><stop offset="0.7362" stop-color="#00dc00"/><stop offset="0.7496" stop-color="#00bc00"/><stop offset="0.7629" stop-color="#009a00"/><stop offset="0.7656" stop-color="#009d1d"/><stop offset="0.7703" stop-color="#00aa88"/><stop offset="0.7807" stop-color="#00aaab"/><stop offset="0.7828" stop-color="#00a7b3"/><stop offset="0.7891" stop-color="#0098dd"/><stop offset="0.8034" stop-color="#0078dd"/><stop offset="0.8063" stop-color="#005ddd"/><stop offset="0.8125" stop-color="#0000dd"/><stop offset="0.8219" stop-color="#0000bd"/><stop offset="0.8230" stop-color="#0000bd"/><stop offset="0.8231" stop-color="#0000dd"/><stop offset="0.8233" stop-color="#0078dd"/><stop offset="0.8234" stop-color="#0092dd"/><stop offset="0.8246" stop-color="#0092dd"/><stop offset="0.8248" stop-color="#0078dd"/><stop offset="0.8249" stop-color="#0000dd"/><stop offset="0.8250" stop-color="#0000c9"/><stop offset="0.8289" stop-color="#0000c9"/><stop offset="0.8293" stop-color="#0000b9"/><stop offset="0.8294" stop-color="#0000dd"/><stop offset="0.8296" stop-color="#0078dd"/><stop offset="0.8297" stop-color="#008add"/><stop offset="0.8328" stop-color="#008add"/><stop offset="0.8329" stop-color="#0078dd"/><stop offset="0.8331" stop-color="#0000dd"/><stop offset="0.8332" stop-color="#0000b5"/><stop offset="0.8336" stop-color="#0000d1"/><stop offset="0.8348" stop-color="#0000d1"/><stop offset="0.8349" stop-color="#0000dd"/><stop offset="0.8352" stop-color="#0054dd"/><stop offset="0.8375" stop-color="#0054dd"/><stop offset="0.8377" stop-color="#0000dd"/><stop offset="0.8379" stop-color="#0000b1"/><stop offset="0.8387" stop-color="#0000b1"/><stop offset="0.8388" stop-color="#0000dd"/><stop offset="0.8389" stop-color="#0078dd"/><stop offset="0.8391" stop-color="#0098dd"/><stop offset="0.8418" stop-color="#0098dd"/><stop offset="0.8420" stop-color="#0078dd"/><stop offset="0.8422" stop-color="#0000dd"/><stop offset="0.8422" stop-color="#0000d1"/><stop offset="0.8480" stop-color="#0000d1"/><stop offset="0.8481" stop-color="#0000dd"/><stop offset="0.8483" stop-color="#0078dd"/><stop offset="0.8484" stop-color="#0085dd"/><stop offset="0.8500" stop-color="#0085dd"/><stop offset="0.8501" stop-color="#0078dd"/><stop offset="0.8502" stop-color="#0000dd"/><stop offset="0.8504" stop-color="#0300aa"/><stop offset="0.8504" stop-color="#0d00a8"/><stop offset="0.8508" stop-color="#870098"/><stop offset="0.8523" stop-color="#870098"/><stop offset="0.8527" stop-color="#1800a7"/><stop offset="0.8528" stop-color="#0300aa"/><stop offset="0.8531" stop-color="#0000bd"/><stop offset="0.8559" stop-color="#0000bd"/><stop offset="0.8561" stop-color="#0300aa"/><stop offset="0.8562" stop-color="#2300a6"/><stop offset="0.8578" stop-color="#870098"/><stop offset="0.8828" stop-color="#700080"/><stop offset="0.8938" stop-color="#41004b"/><stop offset="0.9297" stop-color="#000000"/></linearGradient><linearGradient id="g1_1" gradientUnits="userSpaceOnUse" x1="0" y1="0" x2="640" y2="0"><stop offset="0.5141" stop-color="#7a008b"/><stop offset="0.5152" stop-color="#7a008b"/><stop offset="0.5156" stop-color="#700080"/><stop offset="0.5156" stop-color="#700080"/><stop offset="0.5164" stop-color="#09000b"/><stop offset="0.5961" stop-color="#09000b"/><stop offset="0.5977" stop-color="#700080"/><stop offset="0.5994" stop-color="#870098"/><stop offset="0.6011" stop-color="#0300aa"/><stop offset="0.6012" stop-color="#0000ad"/><stop offset="0.6023" stop-color="#0000dd"/><stop offset="0.6035" stop-color="#0078dd"/><stop offset="0.6046" stop-color="#0098dd"/><stop offset="0.6058" stop-color="#00aaab"/><stop offset="0.6070" stop-color="#00aa88"/><stop offset="0.6082" stop-color="#009a00"/><stop offset="0.6082" stop-color="#009a00"/><stop offset="0.6108" stop-color="#00bc00"/><stop offset="0.6135" stop-color="#00dc00"/><stop offset="0.6141" stop-color="#00e400"/><stop offset="0.6179" stop-color="#00ff00"/><stop offset="0.6227" stop-color="#bcff00"/><stop offset="0.6266" stop-color="#dcf400"/><stop offset="0.6344" stop-color="#ecef00"/><stop offset="0.6641" stop-color="#d8f500"/><stop offset="0.7109" stop-color="#c8fb00"/><stop offset="0.7153" stop-color="#bcff00"/><stop offset="0.7172" stop-color="#b0ff00"/><stop offset="0.7248" stop-color="#00ff00"/><stop offset="0.7281" stop-color="#00f200"/><stop offset="0.7362" stop-color="#00dc00"/><stop offset="0.7496" stop-color="#00bc00"/><stop offset="0.7629" stop-color="#009a00"/><stop offset="0.7656" stop-color="#009d1d"/><stop offset="0.7703" stop-color="#00aa88"/><stop offset="0.7807" stop-color="#00aaab"/><stop offset="0.7828" stop-color="#00a7b3"/><stop offset="0.7891" stop-color="#0098dd"/><stop offset="0.8034" stop-color="#0078dd"/><stop offset="0.8063" stop-color="#005ddd"/><stop offset="0.8125" stop-color="#0000dd"/><stop offset="0.8219" stop-color="#0000bd"/><stop offset="0.8230" stop-color="#0000bd"/><stop offset="0.8231" stop-color="#0000dd"/><stop offset="0.8233" stop-color="#0078dd"/><stop offset="0.8234" stop-color="#0092dd"/><stop offset="0.8246" stop-color="#0092dd"/><stop offset="0.8248" stop-color="#0078dd"/><stop offset="0.8249" stop-color="#0000dd"/><stop offset="0.8250" stop-color="#0000c9"/><stop offset="0.8289" stop-color="#0000c9"/><stop offset="0.8293" stop-color="#0000b9"/><stop offset="0.8294" stop-color="#0000dd"/><stop offset="0.8296" stop-color="#0078dd"/><stop offset="0.8297" stop-color="#008add"/><stop offset="0.8328" stop-color="#008add"/><stop offset="0.8329" stop-color="#0078dd"/><stop offset="0.8331" stop-color="#0000dd"/><stop offset="0.8332" stop-color="#0000b5"/><stop offset="0.8336" stop-color="#0000d1"/><stop offset="0.8348" stop-color="#0000d1"/><stop offset="0.8349" stop-color="#0000dd"/><stop offset="0.8352" stop-color="#0054dd"/><stop offset="0.8375" stop-color="#0054dd"/><stop offset="0.8377" stop-color="#0000dd"/><stop offset="0.8379" stop-color="#0000b1"/><stop offset="0.8387" stop-color="#0000b1"/><stop offset="0.8388" stop-color="#0000dd"/><stop offset="0.8389" stop-color="#0078dd"/><stop offset="0.8391" stop-color="#0098dd"/><stop offset="0.8418" stop-color="#0098dd"/><stop offset="0.8420" stop-color="#0078dd"/><stop offset="0.8422" stop-color="#0000dd"/><stop offset="0.8422" stop-color="#0000d1"/><stop offset="0.8480" stop-color="#0000d1"/><stop offset="0.8481" stop-color="#0000dd"/><stop offset="0.8483" stop-color="#0078dd"/><stop offset="0.8484" stop-color="#0085dd"/><stop offset="0.8500" stop-color="#0085dd"/><stop offset="0.8501" stop-color="#0078dd"/><stop offset="0.8502" stop-color="#0000dd"/><stop offset="0.8504" stop-color="#0300aa"/><stop offset="0.8504" stop-color="#0d00a8"/><stop offset="0.8508" stop-color="#870098"/><stop offset="0.8523" stop-color="#870098"/><stop offset="0.8527" stop-color="#1800a7"/><stop offset="0.8528" stop-color="#0300aa"/><stop offset="0.8531" stop-color="#0000bd"/><stop offset="0.8559" stop-color="#0000bd"/><stop offset="0.8561" stop-color="#0300aa"/><stop offset="0.8562" stop-color="#2300a6"/><stop offset="0.8578" stop-color="#870098"/><stop offset="0.8828" stop-color="#700080"/><stop offset="0.8938" stop-color="#41004b"/><stop offset="0.9297" stop-color="#000000"/></linearGradient><linearGradient id="s1_2" gradientUnits="userSpaceOnUse" x1="0" y1="0" x2="640" y2="0"><stop offset="0.5141" stop-color="#7a008b"/><stop offset="0.5152" stop-color="#7a008b"/><stop offset="0.5153" stop-color="#700080"/><stop offset="0.5156" stop-color="#380040"/><stop offset="0.5164" stop-color="#000000"/><stop offset="0.5961" stop-color="#000000"/><stop offset="0.5993" stop-color="#700080"/><stop offset="0.6012" stop-color="#7f0090"/><stop offset="0.6022" stop-color="#870098"/><stop offset="0.6045" stop-color="#0300aa"/><stop offset="0.6069" stop-color="#0000dd"/><stop offset="0.6082" stop-color="#0041dd"/><stop offset="0.6104" stop-color="#0078dd"/><stop offset="0.6141" stop-color="#0090dd"/><stop offset="0.6164" stop-color="#0098dd"/><stop offset="0.6227" stop-color="#00a6b7"/><stop offset="0.6260" stop-color="#00aaab"/><stop offset="0.6266" stop-color="#00aaa8"/><stop offset="0.6344" stop-color="#00aaa0"/><stop offset="0.6874" stop-color="#00aaab"/><stop offset="0.7109" stop-color="#00a8af"/><stop offset="0.7172" stop-color="#00a4bb"/><stop offset="0.7281" stop-color="#009adb"/><stop offset="0.7292" stop-color="#0098dd"/><stop offset="0.7555" stop-color="#0078dd"/><stop offset="0.7656" stop-color="#004bdd"/><stop offset="0.7703" stop-color="#0013dd"/><stop offset="0.7742" stop-color="#0000dd"/><stop offset="0.7891" stop-color="#0000b1"/><stop offset="0.7941" stop-color="#0300aa"/><stop offset="0.8191" stop-color="#870098"/><stop offset="0.8219" stop-color="#860097"/><stop offset="0.8230" stop-color="#860097"/><stop offset="0.8231" stop-color="#870098"/><stop offset="0.8234" stop-color="#0300aa"/><stop offset="0.8234" stop-color="#0000ad"/><stop offset="0.8238" stop-color="#0000ad"/><stop offset="0.8246" stop-color="#0300aa"/><stop offset="0.8246" stop-color="#0300aa"/><stop offset="0.8250" stop-color="#870098"/><stop offset="0.8250" stop-color="#860097"/><stop offset="0.8289" stop-color="#870098"/><stop offset="0.8293" stop-color="#850096"/><stop offset="0.8294" stop-color="#870098"/><stop offset="0.8297" stop-color="#0300aa"/><stop offset="0.8328" stop-color="#0300aa"/><stop offset="0.8331" stop-color="#870098"/><stop offset="0.8332" stop-color="#830094"/><stop offset="0.8335" stop-color="#870098"/><stop offset="0.8336" stop-color="#83009a"/><stop offset="0.8348" stop-color="#83009a"/><stop offset="0.8352" stop-color="#4d00a0"/><stop offset="0.8375" stop-color="#4300a2"/><stop offset="0.8378" stop-color="#870098"/><stop offset="0.8379" stop-color="#830094"/><stop offset="0.8387" stop-color="#830094"/><stop offset="0.8387" stop-color="#870098"/><stop offset="0.8390" stop-color="#0300aa"/><stop offset="0.8391" stop-color="#0000b1"/><stop offset="0.8418" stop-color="#0000b1"/><stop offset="0.8419" stop-color="#0300aa"/><stop offset="0.8422" stop-color="#83009a"/><stop offset="0.8480" stop-color="#83009a"/><stop offset="0.8484" stop-color="#1800a7"/><stop offset="0.8500" stop-color="#1800a7"/><stop offset="0.8503" stop-color="#870098"/><stop offset="0.8504" stop-color="#820093"/><stop offset="0.8508" stop-color="#79008a"/><stop offset="0.8523" stop-color="#79008a"/><stop offset="0.8527" stop-color="#810092"/><stop offset="0.8531" stop-color="#850096"/><stop offset="0.8559" stop-color="#850096"/><stop offset="0.8562" stop-color="#7f0090"/><stop offset="0.8578" stop-color="#79008a"/><stop offset="0.8586" stop-color="#79008a"/><stop offset="0.8635" stop-color="#700080"/><stop offset="0.8930" stop-color="#25002b"/><stop offset="0.9297" stop-color="#000000"/></linearGradient><linearGradient id="g1_2" gradientUnits="userSpaceOnUse" x1="0" y1="0" x2="640" y2="0"><stop offset="0.5141" stop-color="#7a008b"/><stop offset="0.5152" stop-color="#7a008b"/><stop offset="0.5153" stop-color="#700080"/><stop offset="0.5156" stop-color="#000000"/><stop offset="0.5953" stop-color="#000000"/><stop offset="0.6062" stop-color="#000000"/><stop offset="0.6344" stop-color="#41004b"/><stop offset="0.6430" stop-color="#380040"/><stop offset="0.6434" stop-color="#4b0055"/><stop offset="0.6484" stop-color="#4b0055"/><stop offset="0.7203" stop-color="#380040"/><stop offset="0.7207" stop-color="#25002b"/><stop offset="0.7223" stop-color="#25002b"/><stop offset="0.7227" stop-color="#380040"/><stop offset="0.7500" stop-color="#25002b"/><stop offset="0.7816" stop-color="#2f0035"/><stop offset="0.7820" stop-color="#25002b"/><stop offset="0.7840" stop-color="#2f0035"/><stop offset="0.8238" stop-color="#25002b"/><stop offset="0.8242" stop-color="#1c0020"/><stop offset="0.8258" stop-color="#1c0020"/><stop offset="0.8262" stop-color="#25002b"/><stop offset="0.8441" stop-color="#25002b"/><stop offset="0.8445" stop-color="#1c0020"/><stop offset="0.8465" stop-color="#25002b"/><stop offset="0.8582" stop-color="#25002b"/><stop offset="0.9297" stop-color="#000000"/></linearGradient><linearGradient id="s1_3" gradientUnits="userSpaceOnUse" x1="0" y1="0" x2="640" y2="0"><stop offset="0.5141" stop-color="#7a008b"/><stop offset="0.5152" stop-color="#7a008b"/><stop offset="0.5153" stop-color="#700080"/><stop offset="0.5156" stop-color="#000000"/><stop offset="0.5977" stop-color="#000000"/><stop offset="0.6012" stop-color="#41004b"/><stop offset="0.6065" stop-color="#700080"/><stop offset="0.6074" stop-color="#770088"/><stop offset="0.6114" stop-color="#870098"/><stop offset="0.6157" stop-color="#0300aa"/><stop offset="0.6164" stop-color="#0000b1"/><stop offset="0.6484" stop-color="#0000d5"/><stop offset="0.6600" stop-color="#0000dd"/><stop offset="0.6742" stop-color="#0013dd"/><stop offset="0.6852" stop-color="#0038dd"/><stop offset="0.6898" stop-color="#005ddd"/><stop offset="0.7156" stop-color="#0067dd"/><stop offset="0.7328" stop-color="#005ddd"/><stop offset="0.7453" stop-color="#0038dd"/><stop offset="0.7548" stop-color="#0000dd"/><stop offset="0.7729" stop-color="#0300aa"/><stop offset="0.7836" stop-color="#58009f"/><stop offset="0.7984" stop-color="#870098"/><stop offset="0.7984" stop-color="#870098"/><stop offset="0.8219" stop-color="#79008a"/><stop offset="0.8230" stop-color="#79008a"/><stop offset="0.8232" stop-color="#870098"/><stop offset="0.8234" stop-color="#0300aa"/><stop offset="0.8234" stop-color="#0000c1"/><stop offset="0.8238" stop-color="#0000c1"/><stop offset="0.8246" stop-color="#0000bd"/><stop offset="0.8247" stop-color="#0300aa"/><stop offset="0.8248" stop-color="#870098"/><stop offset="0.8250" stop-color="#770088"/><stop offset="0.8254" stop-color="#7a008b"/><stop offset="0.8262" stop-color="#7b008c"/><stop offset="0.8289" stop-color="#7b008c"/><stop offset="0.8293" stop-color="#770088"/><stop offset="0.8297" stop-color="#770088"/><stop offset="0.8299" stop-color="#870098"/><stop offset="0.8301" stop-color="#0300aa"/><stop offset="0.8332" stop-color="#0300aa"/><stop offset="0.8334" stop-color="#870098"/><stop offset="0.8336" stop-color="#700080"/><stop offset="0.8340" stop-color="#850096"/><stop offset="0.8355" stop-color="#860097"/><stop offset="0.8383" stop-color="#860097"/><stop offset="0.8387" stop-color="#700080"/><stop offset="0.8389" stop-color="#870098"/><stop offset="0.8391" stop-color="#0300aa"/><stop offset="0.8426" stop-color="#0300aa"/><stop offset="0.8429" stop-color="#870098"/><stop offset="0.8430" stop-color="#850096"/><stop offset="0.8453" stop-color="#850096"/><stop offset="0.8457" stop-color="#700080"/><stop offset="0.8457" stop-color="#670075"/><stop offset="0.8457" stop-color="#700080"/><stop offset="0.8459" stop-color="#870098"/><stop offset="0.8461" stop-color="#1800a7"/><stop offset="0.8488" stop-color="#1800a7"/><stop offset="0.8490" stop-color="#870098"/><stop offset="0.8492" stop-color="#700080"/><stop offset="0.8492" stop-color="#670075"/><stop offset="0.8492" stop-color="#700080"/><stop offset="0.8496" stop-color="#850096"/><stop offset="0.8523" stop-color="#850096"/><stop offset="0.8527" stop-color="#700080"/><stop offset="0.8527" stop-color="#670075"/><stop offset="0.8528" stop-color="#700080"/><stop offset="0.8531" stop-color="#7b008c"/><stop offset="0.8551" stop-color="#7b008c"/><stop offset="0.8555" stop-color="#830094"/><stop offset="0.8574" stop-color="#830094"/><stop offset="0.8577" stop-color="#700080"/><stop offset="0.8578" stop-color="#380040"/><stop offset="0.8586" stop-color="#25002b"/><stop offset="0.9297" stop-color="#000000"/></linearGradient><linearGradient id="g1_3" gradientUnits="userSpaceOnUse" x1="0" y1="0" x2="640" y2="0"><stop offset="0.5141" stop-color="#7a008b"/><stop offset="0.5152" stop-color="#7a008b"/><stop offset="0.5153" stop-color="#700080"/><stop offset="0.5156" stop-color="#000000"/><stop offset="0.5977" stop-color="#000000"/><stop offset="0.6006" stop-color="#700080"/><stop offset="0.6012" stop-color="#7a008b"/><stop offset="0.6071" stop-color="#870098"/><stop offset="0.6074" stop-color="#83009a"/><stop offset="0.6095" stop-color="#0300aa"/><stop offset="0.6116" stop-color="#0000dd"/><stop offset="0.6125" stop-color="#002fdd"/><stop offset="0.6140" stop-color="#0078dd"/><stop offset="0.6164" stop-color="#0098dd"/><stop offset="0.6471" stop-color="#00aaab"/><stop offset="0.6562" stop-color="#00aaa0"/><stop offset="0.6727" stop-color="#00aa93"/><stop offset="0.6780" stop-color="#00aa88"/><stop offset="0.6852" stop-color="#00a353"/><stop offset="0.6898" stop-color="#009a08"/><stop offset="0.6958" stop-color="#009a00"/><stop offset="0.7156" stop-color="#009f00"/><stop offset="0.7328" stop-color="#009c00"/><stop offset="0.7375" stop-color="#009a00"/><stop offset="0.7453" stop-color="#009f33"/><stop offset="0.7504" stop-color="#00aa88"/><stop offset="0.7555" stop-color="#00aa9d"/><stop offset="0.7593" stop-color="#00aaab"/><stop offset="0.7690" stop-color="#0098dd"/><stop offset="0.7786" stop-color="#0078dd"/><stop offset="0.7844" stop-color="#002fdd"/><stop offset="0.7914" stop-color="#0000dd"/><stop offset="0.7984" stop-color="#0000c9"/><stop offset="0.8067" stop-color="#0300aa"/><stop offset="0.8205" stop-color="#870098"/><stop offset="0.8219" stop-color="#860097"/><stop offset="0.8230" stop-color="#860097"/><stop offset="0.8231" stop-color="#870098"/><stop offset="0.8231" stop-color="#0300aa"/><stop offset="0.8232" stop-color="#0000dd"/><stop offset="0.8233" stop-color="#0078dd"/><stop offset="0.8234" stop-color="#0098dd"/><stop offset="0.8234" stop-color="#00a3bf"/><stop offset="0.8246" stop-color="#00a3bf"/><stop offset="0.8247" stop-color="#0098dd"/><stop offset="0.8247" stop-color="#0078dd"/><stop offset="0.8248" stop-color="#0000dd"/><stop offset="0.8249" stop-color="#0300aa"/><stop offset="0.8250" stop-color="#870098"/><stop offset="0.8250" stop-color="#850096"/><stop offset="0.8252" stop-color="#870098"/><stop offset="0.8254" stop-color="#6d009c"/><stop offset="0.8289" stop-color="#6d009c"/><stop offset="0.8291" stop-color="#870098"/><stop offset="0.8293" stop-color="#830094"/><stop offset="0.8297" stop-color="#830094"/><stop offset="0.8297" stop-color="#870098"/><stop offset="0.8298" stop-color="#0300aa"/><stop offset="0.8299" stop-color="#0000dd"/><stop offset="0.8300" stop-color="#0078dd"/><stop offset="0.8301" stop-color="#008add"/><stop offset="0.8332" stop-color="#008add"/><stop offset="0.8333" stop-color="#0078dd"/><stop offset="0.8334" stop-color="#0000dd"/><stop offset="0.8335" stop-color="#0300aa"/><stop offset="0.8336" stop-color="#870098"/><stop offset="0.8336" stop-color="#830094"/><stop offset="0.8337" stop-color="#870098"/><stop offset="0.8339" stop-color="#0300aa"/><stop offset="0.8340" stop-color="#0000bd"/><stop offset="0.8383" stop-color="#0000bd"/><stop offset="0.8384" stop-color="#0300aa"/><stop offset="0.8386" stop-color="#870098"/><stop offset="0.8387" stop-color="#820093"/><stop offset="0.8387" stop-color="#870098"/><stop offset="0.8388" stop-color="#0300aa"/><stop offset="0.8389" stop-color="#0000dd"/><stop offset="0.8390" stop-color="#0078dd"/><stop offset="0.8391" stop-color="#008add"/><stop offset="0.8426" stop-color="#008add"/><stop offset="0.8427" stop-color="#0078dd"/><stop offset="0.8429" stop-color="#0000dd"/><stop offset="0.8430" stop-color="#0000bd"/><stop offset="0.8453" stop-color="#0000bd"/><stop offset="0.8454" stop-color="#0300aa"/><stop offset="0.8456" stop-color="#870098"/><stop offset="0.8457" stop-color="#810092"/><stop offset="0.8457" stop-color="#870098"/><stop offset="0.8458" stop-color="#0300aa"/><stop offset="0.8460" stop-color="#0000dd"/><stop offset="0.8461" stop-color="#0078dd"/><stop offset="0.8461" stop-color="#0085dd"/><stop offset="0.8488" stop-color="#0085dd"/><stop offset="0.8489" stop-color="#0078dd"/><stop offset="0.8490" stop-color="#0000dd"/><stop offset="0.8491" stop-color="#0300aa"/><stop offset="0.8492" stop-color="#870098"/><stop offset="0.8492" stop-color="#7f0090"/><stop offset="0.8493" stop-color="#870098"/><stop offset="0.8495" stop-color="#0300aa"/><stop offset="0.8496" stop-color="#0000bd"/><stop offset="0.8523" stop-color="#0000bd"/><stop offset="0.8524" stop-color="#0300aa"/><stop offset="0.8526" stop-color="#870098"/><stop offset="0.8527" stop-color="#7e008f"/><stop offset="0.8530" stop-color="#870098"/><stop offset="0.8531" stop-color="#6d009c"/><stop offset="0.8551" stop-color="#6d009c"/><stop offset="0.8554" stop-color="#0300aa"/><stop offset="0.8555" stop-color="#0000b1"/><stop offset="0.8574" stop-color="#0000b1"/><stop offset="0.8575" stop-color="#0300aa"/><stop offset="0.8576" stop-color="#870098"/><stop offset="0.8578" stop-color="#700080"/><stop offset="0.8578" stop-color="#41004b"/><stop offset="0.8586" stop-color="#2f0035"/><stop offset="0.9297" stop-color="#000000"/></linearGradient><linearGradient id="g1_4" gradientUnits="userSpaceOnUse" x1="0" y1="0" x2="640" y2="0"><stop offset="0.5141" stop-color="#7a008b"/><stop offset="0.5152" stop-color="#7a008b"/><stop offset="0.5153" stop-color="#700080"/><stop offset="0.5156" stop-color="#000000"/><stop offset="0.5977" stop-color="#000000"/><stop offset="0.6006" stop-color="#700080"/><stop offset="0.6012" stop-color="#7a008b"/><stop offset="0.6071" stop-color="#870098"/><stop offset="0.6074" stop-color="#83009a"/><stop offset="0.6095" stop-color="#0300aa"/><stop offset="0.6116" stop-color="#0000dd"/><stop offset="0.6125" stop-color="#002fdd"/><stop offset="0.6135" stop-color="#0078dd"/><stop offset="0.6152" stop-color="#0098dd"/><stop offset="0.6164" stop-color="#00a4bb"/><stop offset="0.6284" stop-color="#00aaab"/><stop offset="0.6562" stop-color="#00aa93"/><stop offset="0.6744" stop-color="#00aa88"/><stop offset="0.6805" stop-color="#00a97d"/><stop offset="0.6852" stop-color="#00a353"/><stop offset="0.6898" stop-color="#009a08"/><stop offset="0.6924" stop-color="#009a00"/><stop offset="0.7008" stop-color="#009f00"/><stop offset="0.7055" stop-color="#00a700"/><stop offset="0.7156" stop-color="#00ac00"/><stop offset="0.7297" stop-color="#00a400"/><stop offset="0.7344" stop-color="#009a00"/><stop offset="0.7438" stop-color="#00aa88"/><stop offset="0.7562" stop-color="#00aaab"/><stop offset="0.7652" stop-color="#0098dd"/><stop offset="0.7742" stop-color="#0078dd"/><stop offset="0.7781" stop-color="#002fdd"/><stop offset="0.7828" stop-color="#0000dd"/><stop offset="0.7922" stop-color="#0000c9"/><stop offset="0.8016" stop-color="#0300aa"/><stop offset="0.8141" stop-color="#870098"/><stop offset="0.8230" stop-color="#860097"/><stop offset="0.8231" stop-color="#870098"/><stop offset="0.8231" stop-color="#0300aa"/><stop offset="0.8232" stop-color="#0000dd"/><stop offset="0.8233" stop-color="#0078dd"/><stop offset="0.8234" stop-color="#0098dd"/><stop offset="0.8234" stop-color="#009ecf"/><stop offset="0.8246" stop-color="#009ecf"/><stop offset="0.8246" stop-color="#0098dd"/><stop offset="0.8247" stop-color="#0078dd"/><stop offset="0.8248" stop-color="#0000dd"/><stop offset="0.8249" stop-color="#0300aa"/><stop offset="0.8250" stop-color="#870098"/><stop offset="0.8250" stop-color="#850096"/><stop offset="0.8252" stop-color="#870098"/><stop offset="0.8254" stop-color="#6d009c"/><stop offset="0.8289" stop-color="#6d009c"/><stop offset="0.8291" stop-color="#870098"/><stop offset="0.8293" stop-color="#830094"/><stop offset="0.8297" stop-color="#830094"/><stop offset="0.8297" stop-color="#870098"/><stop offset="0.8298" stop-color="#0300aa"/><stop offset="0.8299" stop-color="#0000dd"/><stop offset="0.8300" stop-color="#0078dd"/><stop offset="0.8301" stop-color="#0080dd"/><stop offset="0.8332" stop-color="#0080dd"/><stop offset="0.8332" stop-color="#0078dd"/><stop offset="0.8333" stop-color="#0000dd"/><stop offset="0.8335" stop-color="#0300aa"/><stop offset="0.8336" stop-color="#870098"/><stop offset="0.8336" stop-color="#830094"/><stop offset="0.8337" stop-color="#870098"/><stop offset="0.8339" stop-color="#0300aa"/><stop offset="0.8340" stop-color="#0000bd"/><stop offset="0.8383" stop-color="#0000bd"/><stop offset="0.8384" stop-color="#0300aa"/><stop offset="0.8386" stop-color="#870098"/><stop offset="0.8387" stop-color="#820093"/><stop offset="0.8387" stop-color="#870098"/><stop offset="0.8388" stop-color="#0300aa"/><stop offset="0.8389" stop-color="#0000dd"/><stop offset="0.8390" stop-color="#0078dd"/><stop offset="0.8391" stop-color="#0080dd"/><stop offset="0.8426" stop-color="#0080dd"/><stop offset="0.8426" stop-color="#0078dd"/><stop offset="0.8428" stop-color="#0000dd"/><stop offset="0.8430" stop-color="#0000bd"/><stop offset="0.8453" stop-color="#0000bd"/><stop offset="0.8454" stop-color="#0300aa"/><stop offset="0.8456" stop-color="#870098"/><stop offset="0.8457" stop-color="#810092"/><stop offset="0.8458" stop-color="#870098"/><stop offset="0.8459" stop-color="#0300aa"/><stop offset="0.8460" stop-color="#0000dd"/><stop offset="0.8461" stop-color="#0078dd"/><stop offset="0.8461" stop-color="#007add"/><stop offset="0.8488" stop-color="#007add"/><stop offset="0.8488" stop-color="#0078dd"/><stop offset="0.8489" stop-color="#0000dd"/><stop offset="0.8491" stop-color="#0300aa"/><stop offset="0.8492" stop-color="#870098"/><stop offset="0.8492" stop-color="#7f0090"/><stop offset="0.8493" stop-color="#870098"/><stop offset="0.8495" stop-color="#0300aa"/><stop offset="0.8496" stop-color="#0000bd"/><stop offset="0.8523" stop-color="#0000bd"/><stop offset="0.8524" stop-color="#0300aa"/><stop offset="0.8526" stop-color="#870098"/><stop offset="0.8527" stop-color="#7e008f"/><stop offset="0.8530" stop-color="#870098"/><stop offset="0.8531" stop-color="#6d009c"/><stop offset="0.8551" stop-color="#6d009c"/><stop offset="0.8554" stop-color="#0300aa"/><stop offset="0.8555" stop-color="#0000b1"/><stop offset="0.8574" stop-color="#0000b1"/><stop offset="0.8575" stop-color="#0300aa"/><stop offset="0.8576" stop-color="#870098"/><stop offset="0.8578" stop-color="#700080"/><stop offset="0.8578" stop-color="#41004b"/><stop offset="0.8586" stop-color="#2f0035"/><stop offset="0.9297" stop-color="#000000"/></linearGradient><linearGradient id="g1_5" gradientUnits="userSpaceOnUse" x1="0" y1="0" x2="640" y2="0"><stop offset="0.5141" stop-color="#7a008b"/><stop offset="0.5152" stop-color="#7a008b"/><stop offset="0.5153" stop-color="#700080"/><stop offset="0.5156" stop-color="#000000"/><stop offset="0.5977" stop-color="#000000"/><stop offset="0.6006" stop-color="#700080"/><stop offset="0.6012" stop-color="#7a008b"/><stop offset="0.6071" stop-color="#870098"/><stop offset="0.6074" stop-color="#83009a"/><stop offset="0.6095" stop-color="#0300aa"/><stop offset="0.6116" stop-color="#0000dd"/><stop offset="0.6125" stop-color="#002fdd"/><stop offset="0.6140" stop-color="#0078dd"/><stop offset="0.6164" stop-color="#0098dd"/><stop offset="0.6516" stop-color="#00aaab"/><stop offset="0.6727" stop-color="#00aa95"/><stop offset="0.6789" stop-color="#00aa88"/><stop offset="0.6852" stop-color="#00a353"/><stop offset="0.6898" stop-color="#009a08"/><stop offset="0.6958" stop-color="#009a00"/><stop offset="0.7156" stop-color="#009f00"/><stop offset="0.7305" stop-color="#009a00"/><stop offset="0.7398" stop-color="#00aa88"/><stop offset="0.7523" stop-color="#00aaab"/><stop offset="0.7613" stop-color="#0098dd"/><stop offset="0.7703" stop-color="#0078dd"/><stop offset="0.7742" stop-color="#002fdd"/><stop offset="0.7789" stop-color="#0000dd"/><stop offset="0.7891" stop-color="#0000c9"/><stop offset="0.8000" stop-color="#0300aa"/><stop offset="0.8109" stop-color="#870098"/><stop offset="0.8230" stop-color="#860097"/><stop offset="0.8231" stop-color="#870098"/><stop offset="0.8231" stop-color="#0300aa"/><stop offset="0.8232" stop-color="#0000dd"/><stop offset="0.8233" stop-color="#0078dd"/><stop offset="0.8234" stop-color="#0098dd"/><stop offset="0.8234" stop-color="#009ecf"/><stop offset="0.8246" stop-color="#009ecf"/><stop offset="0.8246" stop-color="#0098dd"/><stop offset="0.8247" stop-color="#0078dd"/><stop offset="0.8248" stop-color="#0000dd"/><stop offset="0.8249" stop-color="#0300aa"/><stop offset="0.8250" stop-color="#870098"/><stop offset="0.8250" stop-color="#850096"/><stop offset="0.8252" stop-color="#870098"/><stop offset="0.8254" stop-color="#6d009c"/><stop offset="0.8289" stop-color="#6d009c"/><stop offset="0.8291" stop-color="#870098"/><stop offset="0.8293" stop-color="#830094"/><stop offset="0.8297" stop-color="#830094"/><stop offset="0.8297" stop-color="#870098"/><stop offset="0.8298" stop-color="#0300aa"/><stop offset="0.8299" stop-color="#0000dd"/><stop offset="0.8300" stop-color="#0078dd"/><stop offset="0.8301" stop-color="#0080dd"/><stop offset="0.8332" stop-color="#0080dd"/><stop offset="0.8332" stop-color="#0078dd"/><stop offset="0.8333" stop-color="#0000dd"/><stop offset="0.8335" stop-color="#0300aa"/><stop offset="0.8336" stop-color="#870098"/><stop offset="0.8336" stop-color="#830094"/><stop offset="0.8337" stop-color="#870098"/><stop offset="0.8339" stop-color="#0300aa"/><stop offset="0.8340" stop-color="#0000bd"/><stop offset="0.8383" stop-color="#0000bd"/><stop offset="0.8384" stop-color="#0300aa"/><stop offset="0.8386" stop-color="#870098"/><stop offset="0.8387" stop-color="#820093"/><stop offset="0.8387" stop-color="#870098"/><stop offset="0.8388" stop-color="#0300aa"/><stop offset="0.8389" stop-color="#0000dd"/><stop offset="0.8390" stop-color="#0078dd"/><stop offset="0.8391" stop-color="#0080dd"/><stop offset="0.8426" stop-color="#0080dd"/><stop offset="0.8426" stop-color="#0078dd"/><stop offset="0.8428" stop-color="#0000dd"/><stop offset="0.8430" stop-color="#0000bd"/><stop offset="0.8453" stop-color="#0000bd"/><stop offset="0.8454" stop-color="#0300aa"/><stop offset="0.8456" stop-color="#870098"/><stop offset="0.8457" stop-color="#810092"/><stop offset="0.8458" stop-color="#870098"/><stop offset="0.8459" stop-color="#0300aa"/><stop offset="0.8460" stop-color="#0000dd"/><stop offset="0.8461" stop-color="#0078dd"/><stop offset="0.8461" stop-color="#007add"/><stop offset="0.8488" stop-color="#007add"/><stop offset="0.8488" stop-color="#0078dd"/><stop offset="0.8489" stop-color="#0000dd"/><stop offset="0.8491" stop-color="#0300aa"/><stop offset="0.8492" stop-color="#870098"/><stop offset="0.8492" stop-color="#7f0090"/><stop offset="0.8493" stop-color="#870098"/><stop offset="0.8495" stop-color="#0300aa"/><stop offset="0.8496" stop-color="#0000bd"/><stop offset="0.8523" stop-color="#0000bd"/><stop offset="0.8524" stop-color="#0300aa"/><stop offset="0.8526" stop-color="#870098"/><stop offset="0.8527" stop-color="#7e008f"/><stop offset="0.8530" stop-color="#870098"/><stop offset="0.8531" stop-color="#6d009c"/><stop offset="0.8551" stop-color="#6d009c"/><stop offset="0.8554" stop-color="#0300aa"/><stop offset="0.8555" stop-color="#0000b1"/><stop offset="0.8574" stop-color="#0000b1"/><stop offset="0.8575" stop-color="#0300aa"/><stop offset="0.8576" stop-color="#870098"/><stop offset="0.8578" stop-color="#700080"/><stop offset="0.8578" stop-color="#41004b"/><stop offset="0.8586" stop-color="#2f0035"/><stop offset="0.9297" stop-color="#000000"/></linearGradient><linearGradient id="g1_6" gradientUnits="userSpaceOnUse" x1="0" y1="0" x2="640" y2="0"><stop offset="0.5141" stop-color="#7a008b"/><stop offset="0.5152" stop-color="#7a008b"/><stop offset="0.5153" stop-color="#700080"/><stop offset="0.5156" stop-color="#000000"/><stop offset="0.5977" stop-color="#000000"/><stop offset="0.6006" stop-color="#700080"/><stop offset="0.6012" stop-color="#7a008b"/><stop offset="0.6071" stop-color="#870098"/><stop offset="0.6074" stop-color="#83009a"/><stop offset="0.6095" stop-color="#0300aa"/><stop offset="0.6116" stop-color="#0000dd"/><stop offset="0.6125" stop-color="#002fdd"/><stop offset="0.6135" stop-color="#0078dd"/><stop offset="0.6152" stop-color="#0098dd"/><stop offset="0.6164" stop-color="#00a4bb"/><stop offset="0.6285" stop-color="#00aaab"/><stop offset="0.6686" stop-color="#00aa88"/><stop offset="0.6727" stop-color="#00a97d"/><stop offset="0.6773" stop-color="#00a353"/><stop offset="0.6820" stop-color="#009a08"/><stop offset="0.6846" stop-color="#009a00"/><stop offset="0.6930" stop-color="#009f00"/><stop offset="0.6977" stop-color="#00b400"/><stop offset="0.7156" stop-color="#00bc00"/><stop offset="0.7211" stop-color="#00b700"/><stop offset="0.7289" stop-color="#00aa00"/><stop offset="0.7336" stop-color="#009a00"/><stop offset="0.7430" stop-color="#00aa88"/><stop offset="0.7555" stop-color="#00aaab"/><stop offset="0.7636" stop-color="#0098dd"/><stop offset="0.7717" stop-color="#0078dd"/><stop offset="0.7766" stop-color="#002fdd"/><stop offset="0.7812" stop-color="#0000dd"/><stop offset="0.7922" stop-color="#0000c9"/><stop offset="0.8039" stop-color="#0300aa"/><stop offset="0.8109" stop-color="#4300a2"/><stop offset="0.8156" stop-color="#870098"/><stop offset="0.8230" stop-color="#860097"/><stop offset="0.8231" stop-color="#870098"/><stop offset="0.8231" stop-color="#0300aa"/><stop offset="0.8232" stop-color="#0000dd"/><stop offset="0.8233" stop-color="#0078dd"/><stop offset="0.8234" stop-color="#0098dd"/><stop offset="0.8234" stop-color="#009ecf"/><stop offset="0.8246" stop-color="#009ecf"/><stop offset="0.8246" stop-color="#0098dd"/><stop offset="0.8247" stop-color="#0078dd"/><stop offset="0.8248" stop-color="#0000dd"/><stop offset="0.8249" stop-color="#0300aa"/><stop offset="0.8250" stop-color="#870098"/><stop offset="0.8250" stop-color="#850096"/><stop offset="0.8252" stop-color="#870098"/><stop offset="0.8254" stop-color="#6d009c"/><stop offset="0.8289" stop-color="#6d009c"/><stop offset="0.8291" stop-color="#870098"/><stop offset="0.8293" stop-color="#830094"/><stop offset="0.8297" stop-color="#830094"/><stop offset="0.8297" stop-color="#870098"/><stop offset="0.8298" stop-color="#0300aa"/><stop offset="0.8299" stop-color="#0000dd"/><stop offset="0.8300" stop-color="#0078dd"/><stop offset="0.8301" stop-color="#0080dd"/><stop offset="0.8332" stop-color="#0080dd"/><stop offset="0.8332" stop-color="#0078dd"/><stop offset="0.8333" stop-color="#0000dd"/><stop offset="0.8335" stop-color="#0300aa"/><stop offset="0.8336" stop-color="#870098"/><stop offset="0.8336" stop-color="#830094"/><stop offset="0.8337" stop-color="#870098"/><stop offset="0.8339" stop-color="#0300aa"/><stop offset="0.8340" stop-color="#0000bd"/><stop offset="0.8383" stop-color="#0000bd"/><stop offset="0.8384" stop-color="#0300aa"/><stop offset="0.8386" stop-color="#870098"/><stop offset="0.8387" stop-color="#820093"/><stop offset="0.8387" stop-color="#870098"/><stop offset="0.8388" stop-color="#0300aa"/><stop offset="0.8389" stop-color="#0000dd"/><stop offset="0.8390" stop-color="#0078dd"/><stop offset="0.8391" stop-color="#0080dd"/><stop offset="0.8426" stop-color="#0080dd"/><stop offset="0.8426" stop-color="#0078dd"/><stop offset="0.8428" stop-color="#0000dd"/><stop offset="0.8430" stop-color="#0000bd"/><stop offset="0.8453" stop-color="#0000bd"/><stop offset="0.8454" stop-color="#0300aa"/><stop offset="0.8456" stop-color="#870098"/><stop offset="0.8457" stop-color="#810092"/><stop offset="0.8458" stop-color="#870098"/><stop offset="0.8459" stop-color="#0300aa"/><stop offset="0.8460" stop-color="#0000dd"/><stop offset="0.8461" stop-color="#0078dd"/><stop offset="0.8461" stop-color="#007add"/><stop offset="0.8488" stop-color="#007add"/><stop offset="0.8488" stop-color="#0078dd"/><stop offset="0.8489" stop-color="#0000dd"/><stop offset="0.8491" stop-color="#0300aa"/><stop offset="0.8492" stop-color="#870098"/><stop offset="0.8492" stop-color="#7f0090"/><stop offset="0.8493" stop-color="#870098"/><stop offset="0.8495" stop-color="#0300aa"/><stop offset="0.8496" stop-color="#0000bd"/><stop offset="0.8523" stop-color="#0000bd"/><stop offset="0.8524" stop-color="#0300aa"/><stop offset="0.8526" stop-color="#870098"/><stop offset="0.8527" stop-color="#7e008f"/><stop offset="0.8530" stop-color="#870098"/><stop offset="0.8531" stop-color="#6d009c"/><stop offset="0.8551" stop-color="#6d009c"/><stop offset="0.8554" stop-color="#0300aa"/><stop offset="0.8555" stop-color="#0000b1"/><stop offset="0.8574" stop-color="#0000b1"/><stop offset="0.8575" stop-color="#0300aa"/><stop offset="0.8576" stop-color="#870098"/><stop offset="0.8578" stop-color="#700080"/><stop offset="0.8578" stop-color="#41004b"/><stop offset="0.8586" stop-color="#2f0035"/><stop offset="0.9297" stop-color="#000000"/></linearGradient><linearGradient id="g1_7" gradientUnits="userSpaceOnUse" x1="0" y1="0" x2="640" y2="0"><stop offset="0.5141" stop-color="#7a008b"/><stop offset="0.5152" stop-color="#7a008b"/><stop offset="0.5153" stop-color="#700080"/><stop offset="0.5156" stop-color="#000000"/><stop offset="0.5977" stop-color="#000000"/><stop offset="0.6006" stop-color="#700080"/><stop offset="0.6012" stop-color="#7a008b"/><stop offset="0.6071" stop-color="#870098"/><stop offset="0.6074" stop-color="#83009a"/><stop offset="0.6095" stop-color="#0300aa"/><stop offset="0.6117" stop-color="#0000dd"/><stop offset="0.6138" stop-color="#0078dd"/><stop offset="0.6160" stop-color="#0098dd"/><stop offset="0.6164" stop-color="#009cd3"/><stop offset="0.6464" stop-color="#00aaab"/><stop offset="0.6727" stop-color="#00aa93"/><stop offset="0.6780" stop-color="#00aa88"/><stop offset="0.6852" stop-color="#00a353"/><stop offset="0.6898" stop-color="#009a08"/><stop offset="0.6950" stop-color="#009a00"/><stop offset="0.7156" stop-color="#00a200"/><stop offset="0.7312" stop-color="#009a00"/><stop offset="0.7406" stop-color="#00aa88"/><stop offset="0.7531" stop-color="#00aaab"/><stop offset="0.7612" stop-color="#0098dd"/><stop offset="0.7694" stop-color="#0078dd"/><stop offset="0.7742" stop-color="#002fdd"/><stop offset="0.7789" stop-color="#0000dd"/><stop offset="0.7898" stop-color="#0000c9"/><stop offset="0.8016" stop-color="#0300aa"/><stop offset="0.8086" stop-color="#4300a2"/><stop offset="0.8133" stop-color="#870098"/><stop offset="0.8230" stop-color="#860097"/><stop offset="0.8231" stop-color="#870098"/><stop offset="0.8231" stop-color="#0300aa"/><stop offset="0.8232" stop-color="#0000dd"/><stop offset="0.8233" stop-color="#0078dd"/><stop offset="0.8234" stop-color="#0098dd"/><stop offset="0.8234" stop-color="#009ecf"/><stop offset="0.8246" stop-color="#009ecf"/><stop offset="0.8246" stop-color="#0098dd"/><stop offset="0.8247" stop-color="#0078dd"/><stop offset="0.8248" stop-color="#0000dd"/><stop offset="0.8249" stop-color="#0300aa"/><stop offset="0.8250" stop-color="#870098"/><stop offset="0.8250" stop-color="#850096"/><stop offset="0.8252" stop-color="#870098"/><stop offset="0.8254" stop-color="#6d009c"/><stop offset="0.8289" stop-color="#6d009c"/><stop offset="0.8291" stop-color="#870098"/><stop offset="0.8293" stop-color="#830094"/><stop offset="0.8297" stop-color="#830094"/><stop offset="0.8297" stop-color="#870098"/><stop offset="0.8298" stop-color="#0300aa"/><stop offset="0.8299" stop-color="#0000dd"/><stop offset="0.8300" stop-color="#0078dd"/><stop offset="0.8301" stop-color="#0080dd"/><stop offset="0.8332" stop-color="#0080dd"/><stop offset="0.8332" stop-color="#0078dd"/><stop offset="0.8333" stop-color="#0000dd"/><stop offset="0.8335" stop-color="#0300aa"/><stop offset="0.8336" stop-color="#870098"/><stop offset="0.8336" stop-color="#830094"/><stop offset="0.8337" stop-color="#870098"/><stop offset="0.8339" stop-color="#0300aa"/><stop offset="0.8340" stop-color="#0000bd"/><stop offset="0.8383" stop-color="#0000bd"/><stop offset="0.8384" stop-color="#0300aa"/><stop offset="0.8386" stop-color="#870098"/><stop offset="0.8387" stop-color="#820093"/><stop offset="0.8387" stop-color="#870098"/><stop offset="0.8388" stop-color="#0300aa"/><stop offset="0.8389" stop-color="#0000dd"/><stop offset="0.8390" stop-color="#0078dd"/><stop offset="0.8391" stop-color="#0080dd"/><stop offset="0.8426" stop-color="#0080dd"/><stop offset="0.8426" stop-color="#0078dd"/><stop offset="0.8428" stop-color="#0000dd"/><stop offset="0.8430" stop-color="#0000bd"/><stop offset="0.8453" stop-color="#0000bd"/><stop offset="0.8454" stop-color="#0300aa"/><stop offset="0.8456" stop-color="#870098"/><stop offset="0.8457" stop-color="#810092"/><stop offset="0.8458" stop-color="#870098"/><stop offset="0.8459" stop-color="#0300aa"/><stop offset="0.8460" stop-color="#0000dd"/><stop offset="0.8461" stop-color="#0078dd"/><stop offset="0.8461" stop-color="#007add"/><stop offset="0.8488" stop-color="#007add"/><stop offset="0.8488" stop-color="#0078dd"/><stop offset="0.8489" stop-color="#0000dd"/><stop offset="0.8491" stop-color="#0300aa"/><stop offset="0.8492" stop-color="#870098"/><stop offset="0.8492" stop-color="#7f0090"/><stop offset="0.8493" stop-color="#870098"/><stop offset="0.8495" stop-color="#0300aa"/><stop offset="0.8496" stop-color="#0000bd"/><stop offset="0.8523" stop-color="#0000bd"/><stop offset="0.8524" stop-color="#0300aa"/><stop offset="0.8526" stop-color="#870098"/><stop offset="0.8527" stop-color="#7e008f"/><stop offset="0.8530" stop-color="#870098"/><stop offset="0.8531" stop-color="#6d009c"/><stop offset="0.8551" stop-color="#6d009c"/><stop offset="0.8554" stop-color="#0300aa"/><stop offset="0.8555" stop-color="#0000b1"/><stop offset="0.8574" stop-color="#0000b1"/><stop offset="0.8575" stop-color="#0300aa"/><stop offset="0.8576" stop-color="#870098"/><stop offset="0.8578" stop-color="#700080"/><stop offset="0.8578" stop-color="#41004b"/><stop offset="0.8586" stop-color="#2f0035"/><stop offset="0.9297" stop-color="#000000"/></linearGradient><linearGradient id="g1_8" gradientUnits="userSpaceOnUse" x1="0" y1="0" x2="640" y2="0"><stop offset="0.5141" stop-color="#7a008b"/><stop offset="0.5152" stop-color="#7a008b"/><stop offset="0.5153" stop-color="#700080"/><stop offset="0.5156" stop-color="#000000"/><stop offset="0.5977" stop-color="#000000"/><stop offset="0.6006" stop-color="#700080"/><stop offset="0.6012" stop-color="#7a008b"/><stop offset="0.6071" stop-color="#870098"/><stop offset="0.6074" stop-color="#83009a"/><stop offset="0.6095" stop-color="#0300aa"/><stop offset="0.6116" stop-color="#0000dd"/><stop offset="0.6125" stop-color="#002fdd"/><stop offset="0.6134" stop-color="#0078dd"/><stop offset="0.6148" stop-color="#0098dd"/><stop offset="0.6163" stop-color="#00aaab"/><stop offset="0.6164" stop-color="#00aaa8"/><stop offset="0.6562" stop-color="#00aa8b"/><stop offset="0.6645" stop-color="#00aa88"/><stop offset="0.6727" stop-color="#00a97d"/><stop offset="0.6773" stop-color="#00a353"/><stop offset="0.6820" stop-color="#009a08"/><stop offset="0.6846" stop-color="#009a00"/><stop offset="0.6930" stop-color="#009f00"/><stop offset="0.6977" stop-color="#00ba00"/><stop offset="0.7044" stop-color="#00bc00"/><stop offset="0.7156" stop-color="#00bf00"/><stop offset="0.7219" stop-color="#00bc00"/><stop offset="0.7222" stop-color="#00bc00"/><stop offset="0.7297" stop-color="#00ac00"/><stop offset="0.7347" stop-color="#009a00"/><stop offset="0.7438" stop-color="#00aa88"/><stop offset="0.7562" stop-color="#00aaab"/><stop offset="0.7644" stop-color="#0098dd"/><stop offset="0.7725" stop-color="#0078dd"/><stop offset="0.7773" stop-color="#002fdd"/><stop offset="0.7820" stop-color="#0000dd"/><stop offset="0.7930" stop-color="#0000c9"/><stop offset="0.8047" stop-color="#0300aa"/><stop offset="0.8117" stop-color="#4300a2"/><stop offset="0.8164" stop-color="#870098"/><stop offset="0.8230" stop-color="#860097"/><stop offset="0.8231" stop-color="#870098"/><stop offset="0.8231" stop-color="#0300aa"/><stop offset="0.8232" stop-color="#0000dd"/><stop offset="0.8233" stop-color="#0078dd"/><stop offset="0.8234" stop-color="#0098dd"/><stop offset="0.8234" stop-color="#009ecf"/><stop offset="0.8246" stop-color="#009ecf"/><stop offset="0.8246" stop-color="#0098dd"/><stop offset="0.8247" stop-color="#0078dd"/><stop offset="0.8248" stop-color="#0000dd"/><stop offset="0.8249" stop-color="#0300aa"/><stop offset="0.8250" stop-color="#870098"/><stop offset="0.8250" stop-color="#850096"/><stop offset="0.8252" stop-color="#870098"/><stop offset="0.8254" stop-color="#6d009c"/><stop offset="0.8289" stop-color="#6d009c"/><stop offset="0.8291" stop-color="#870098"/><stop offset="0.8293" stop-color="#830094"/><stop offset="0.8297" stop-color="#830094"/><stop offset="0.8297" stop-color="#870098"/><stop offset="0.8298" stop-color="#0300aa"/><stop offset="0.8299" stop-color="#0000dd"/><stop offset="0.8300" stop-color="#0078dd"/><stop offset="0.8301" stop-color="#0080dd"/><stop offset="0.8332" stop-color="#0080dd"/><stop offset="0.8332" stop-color="#0078dd"/><stop offset="0.8333" stop-color="#0000dd"/><stop offset="0.8335" stop-color="#0300aa"/><stop offset="0.8336" stop-color="#870098"/><stop offset="0.8336" stop-color="#830094"/><stop offset="0.8337" stop-color="#870098"/><stop offset="0.8339" stop-color="#0300aa"/><stop offset="0.8340" stop-color="#0000bd"/><stop offset="0.8383" stop-color="#0000bd"/><stop offset="0.8384" stop-color="#0300aa"/><stop offset="0.8386" stop-color="#870098"/><stop offset="0.8387" stop-color="#820093"/><stop offset="0.8387" stop-color="#870098"/><stop offset="0.8388" stop-color="#0300aa"/><stop offset="0.8389" stop-color="#0000dd"/><stop offset="0.8390" stop-color="#0078dd"/><stop offset="0.8391" stop-color="#0080dd"/><stop offset="0.8426" stop-color="#0080dd"/><stop offset="0.8426" stop-color="#0078dd"/><stop offset="0.8428" stop-color="#0000dd"/><stop offset="0.8430" stop-color="#0000bd"/><stop offset="0.8453" stop-color="#0000bd"/><stop offset="0.8454" stop-color="#0300aa"/><stop offset="0.8456" stop-color="#870098"/><stop offset="0.8457" stop-color="#810092"/><stop offset="0.8458" stop-color="#870098"/><stop offset="0.8459" stop-color="#0300aa"/><stop offset="0.8460" stop-color="#0000dd"/><stop offset="0.8461" stop-color="#0078dd"/><stop offset="0.8461" stop-color="#007add"/><stop offset="0.8488" stop-color="#007add"/><stop offset="0.8488" stop-color="#0078dd"/><stop offset="0.8489" stop-color="#0000dd"/><stop offset="0.8491" stop-color="#0300aa"/><stop offset="0.8492" stop-color="#870098"/><stop offset="0.8492" stop-color="#7f0090"/><stop offset="0.8493" stop-color="#870098"/><stop offset="0.8495" stop-color="#0300aa"/><stop offset="0.8496" stop-color="#0000bd"/><stop offset="0.8523" stop-color="#0000bd"/><stop offset="0.8524" stop-color="#0300aa"/><stop offset="0.8526" stop-color="#870098"/><stop offset="0.8527" stop-color="#7e008f"/><stop offset="0.8530" stop-color="#870098"/><stop offset="0.8531" stop-color="#6d009c"/><stop offset="0.8551" stop-color="#6d009c"/><stop offset="0.8554" stop-color="#0300aa"/><stop offset="0.8555" stop-color="#0000b1"/><stop offset="0.8574" stop-color="#0000b1"/><stop offset="0.8575" stop-color="#0300aa"/><stop offset="0.8576" stop-color="#870098"/><stop offset="0.8578" stop-color="#700080"/><stop offset="0.8578" stop-color="#41004b"/><stop offset="0.8586" stop-color="#2f0035"/><stop offset="0.9297" stop-color="#000000"/></linearGradient><linearGradient id="g1_9" gradientUnits="userSpaceOnUse" x1="0" y1="0" x2="640" y2="0"><stop offset="0.5141" stop-color="#7a008b"/><stop offset="0.5152" stop-color="#7a008b"/><stop offset="0.5153" stop-color="#700080"/><stop offset="0.5156" stop-color="#000000"/><stop offset="0.5977" stop-color="#000000"/><stop offset="0.6006" stop-color="#700080"/><stop offset="0.6012" stop-color="#7a008b"/><stop offset="0.6071" stop-color="#870098"/><stop offset="0.6074" stop-color="#83009a"/><stop offset="0.6095" stop-color="#0300aa"/><stop offset="0.6116" stop-color="#0000dd"/><stop offset="0.6125" stop-color="#002fdd"/><stop offset="0.6136" stop-color="#0078dd"/><stop offset="0.6155" stop-color="#0098dd"/><stop offset="0.6164" stop-color="#00a2c3"/><stop offset="0.6378" stop-color="#00aaab"/><stop offset="0.6734" stop-color="#00aa8d"/><stop offset="0.6734" stop-color="#00aa88"/><stop offset="0.6735" stop-color="#009a00"/><stop offset="0.6736" stop-color="#00bc00"/><stop offset="0.6736" stop-color="#00dc00"/><stop offset="0.6737" stop-color="#00ff00"/><stop offset="0.6737" stop-color="#bcff00"/><stop offset="0.6738" stop-color="#efed00"/><stop offset="0.6738" stop-color="#f5df00"/><stop offset="0.6754" stop-color="#f5df00"/><stop offset="0.6754" stop-color="#efed00"/><stop offset="0.6755" stop-color="#bcff00"/><stop offset="0.6755" stop-color="#00ff00"/><stop offset="0.6756" stop-color="#00dc00"/><stop offset="0.6757" stop-color="#00bc00"/><stop offset="0.6757" stop-color="#009a00"/><stop offset="0.6758" stop-color="#00aa88"/><stop offset="0.6758" stop-color="#00aa8b"/><stop offset="0.6773" stop-color="#00aa88"/><stop offset="0.6852" stop-color="#00a353"/><stop offset="0.6898" stop-color="#009a08"/><stop offset="0.6932" stop-color="#009a00"/><stop offset="0.7156" stop-color="#00a700"/><stop offset="0.7273" stop-color="#009f00"/><stop offset="0.7320" stop-color="#009a00"/><stop offset="0.7414" stop-color="#00aa88"/><stop offset="0.7539" stop-color="#00aaab"/><stop offset="0.7620" stop-color="#0098dd"/><stop offset="0.7701" stop-color="#0078dd"/><stop offset="0.7750" stop-color="#002fdd"/><stop offset="0.7797" stop-color="#0000dd"/><stop offset="0.7906" stop-color="#0000c9"/><stop offset="0.8023" stop-color="#0300aa"/><stop offset="0.8094" stop-color="#4300a2"/><stop offset="0.8141" stop-color="#870098"/><stop offset="0.8230" stop-color="#860097"/><stop offset="0.8231" stop-color="#870098"/><stop offset="0.8231" stop-color="#0300aa"/><stop offset="0.8232" stop-color="#0000dd"/><stop offset="0.8233" stop-color="#0078dd"/><stop offset="0.8234" stop-color="#0098dd"/><stop offset="0.8234" stop-color="#009ecf"/><stop offset="0.8246" stop-color="#009ecf"/><stop offset="0.8246" stop-color="#0098dd"/><stop offset="0.8247" stop-color="#0078dd"/><stop offset="0.8248" stop-color="#0000dd"/><stop offset="0.8249" stop-color="#0300aa"/><stop offset="0.8250" stop-color="#870098"/><stop offset="0.8250" stop-color="#850096"/><stop offset="0.8252" stop-color="#870098"/><stop offset="0.8254" stop-color="#6d009c"/><stop offset="0.8289" stop-color="#6d009c"/><stop offset="0.8291" stop-color="#870098"/><stop offset="0.8293" stop-color="#830094"/><stop offset="0.8297" stop-color="#830094"/><stop offset="0.8297" stop-color="#870098"/><stop offset="0.8298" stop-color="#0300aa"/><stop offset="0.8299" stop-color="#0000dd"/><stop offset="0.8300" stop-color="#0078dd"/><stop offset="0.8301" stop-color="#0080dd"/><stop offset="0.8332" stop-color="#0080dd"/><stop offset="0.8332" stop-color="#0078dd"/><stop offset="0.8333" stop-color="#0000dd"/><stop offset="0.8335" stop-color="#0300aa"/><stop offset="0.8336" stop-color="#870098"/><stop offset="0.8336" stop-color="#830094"/><stop offset="0.8337" stop-color="#870098"/><stop offset="0.8339" stop-color="#0300aa"/><stop offset="0.8340" stop-color="#0000bd"/><stop offset="0.8383" stop-color="#0000bd"/><stop offset="0.8384" stop-color="#0300aa"/><stop offset="0.8386" stop-color="#870098"/><stop offset="0.8387" stop-color="#820093"/><stop offset="0.8387" stop-color="#870098"/><stop offset="0.8388" stop-color="#0300aa"/><stop offset="0.8389" stop-color="#0000dd"/><stop offset="0.8390" stop-color="#0078dd"/><stop offset="0.8391" stop-color="#0080dd"/><stop offset="0.8426" stop-color="#0080dd"/><stop offset="0.8426" stop-color="#0078dd"/><stop offset="0.8428" stop-color="#0000dd"/><stop offset="0.8430" stop-color="#0000bd"/><stop offset="0.8453" stop-color="#0000bd"/><stop offset="0.8454" stop-color="#0300aa"/><stop offset="0.8456" stop-color="#870098"/><stop offset="0.8457" stop-color="#810092"/><stop offset="0.8458" stop-color="#870098"/><stop offset="0.8459" stop-color="#0300aa"/><stop offset="0.8460" stop-color="#0000dd"/><stop offset="0.8461" stop-color="#0078dd"/><stop offset="0.8461" stop-color="#007add"/><stop offset="0.8488" stop-color="#007add"/><stop offset="0.8488" stop-color="#0078dd"/><stop offset="0.8489" stop-color="#0000dd"/><stop offset="0.8491" stop-color="#0300aa"/><stop offset="0.8492" stop-color="#870098"/><stop offset="0.8492" stop-color="#7f0090"/><stop offset="0.8493" stop-color="#870098"/><stop offset="0.8495" stop-color="#0300aa"/><stop offset="0.8496" stop-color="#0000bd"/><stop offset="0.8523" stop-color="#0000bd"/><stop offset="0.8524" stop-color="#0300aa"/><stop offset="0.8526" stop-color="#870098"/><stop offset="0.8527" stop-color="#7e008f"/><stop offset="0.8530" stop-color="#870098"/><stop offset="0.8531" stop-color="#6d009c"/><stop offset="0.8551" stop-color="#6d009c"/><stop offset="0.8554" stop-color="#0300aa"/><stop offset="0.8555" stop-color="#0000b1"/><stop offset="0.8574" stop-color="#0000b1"/><stop offset="0.8575" stop-color="#0300aa"/><stop offset="0.8576" stop-color="#870098"/><stop offset="0.8578" stop-color="#700080"/><stop offset="0.8578" stop-color="#41004b"/><stop offset="0.8586" stop-color="#2f0035"/><stop offset="0.9297" stop-color="#000000"/></linearGradient><linearGradient id="g1_10" gradientUnits="userSpaceOnUse" x1="0" y1="0" x2="640" y2="0"><stop offset="0.5141" stop-color="#7a008b"/><stop offset="0.5152" stop-color="#7a008b"/><stop offset="0.5153" stop-color="#700080"/><stop offset="0.5156" stop-color="#000000"/><stop offset="0.5977" stop-color="#000000"/><stop offset="0.6006" stop-color="#700080"/><stop offset="0.6012" stop-color="#7a008b"/><stop offset="0.6071" stop-color="#870098"/><stop offset="0.6074" stop-color="#83009a"/><stop offset="0.6095" stop-color="#0300aa"/><stop offset="0.6116" stop-color="#0000dd"/><stop offset="0.6125" stop-color="#002fdd"/><stop offset="0.6133" stop-color="#0078dd"/><stop offset="0.6147" stop-color="#0098dd"/><stop offset="0.6161" stop-color="#00aaab"/><stop offset="0.6164" stop-color="#00aaa3"/><stop offset="0.6664" stop-color="#00aa88"/><stop offset="0.6727" stop-color="#00a97d"/><stop offset="0.6773" stop-color="#00a353"/><stop offset="0.6820" stop-color="#009a08"/><stop offset="0.6846" stop-color="#009a00"/><stop offset="0.6930" stop-color="#009f00"/><stop offset="0.6977" stop-color="#00af00"/><stop offset="0.7156" stop-color="#00b400"/><stop offset="0.7211" stop-color="#00b200"/><stop offset="0.7289" stop-color="#00a700"/><stop offset="0.7336" stop-color="#009a00"/><stop offset="0.7430" stop-color="#00aa88"/><stop offset="0.7555" stop-color="#00aaab"/><stop offset="0.7636" stop-color="#0098dd"/><stop offset="0.7717" stop-color="#0078dd"/><stop offset="0.7766" stop-color="#002fdd"/><stop offset="0.7812" stop-color="#0000dd"/><stop offset="0.7922" stop-color="#0000c9"/><stop offset="0.8039" stop-color="#0300aa"/><stop offset="0.8109" stop-color="#4300a2"/><stop offset="0.8156" stop-color="#870098"/><stop offset="0.8230" stop-color="#860097"/><stop offset="0.8231" stop-color="#870098"/><stop offset="0.8231" stop-color="#0300aa"/><stop offset="0.8232" stop-color="#0000dd"/><stop offset="0.8233" stop-color="#0078dd"/><stop offset="0.8234" stop-color="#0098dd"/><stop offset="0.8234" stop-color="#009ecf"/><stop offset="0.8246" stop-color="#009ecf"/><stop offset="0.8246" stop-color="#0098dd"/><stop offset="0.8247" stop-color="#0078dd"/><stop offset="0.8248" stop-color="#0000dd"/><stop offset="0.8249" stop-color="#0300aa"/><stop offset="0.8250" stop-color="#870098"/><stop offset="0.8250" stop-color="#850096"/><stop offset="0.8252" stop-color="#870098"/><stop offset="0.8254" stop-color="#6d009c"/><stop offset="0.8289" stop-color="#6d009c"/><stop offset="0.8291" stop-color="#870098"/><stop offset="0.8293" stop-color="#830094"/><stop offset="0.8297" stop-color="#830094"/><stop offset="0.8297" stop-color="#870098"/><stop offset="0.8298" stop-color="#0300aa"/><stop offset="0.8299" stop-color="#0000dd"/><stop offset="0.8300" stop-color="#0078dd"/><stop offset="0.8301" stop-color="#0080dd"/><stop offset="0.8332" stop-color="#0080dd"/><stop offset="0.8332" stop-color="#0078dd"/><stop offset="0.8333" stop-color="#0000dd"/><stop offset="0.8335" stop-color="#0300aa"/><stop offset="0.8336" stop-color="#870098"/><stop offset="0.8336" stop-color="#830094"/><stop offset="0.8337" stop-color="#870098"/><stop offset="0.8339" stop-color="#0300aa"/><stop offset="0.8340" stop-color="#0000bd"/><stop offset="0.8383" stop-color="#0000bd"/><stop offset="0.8384" stop-color="#0300aa"/><stop offset="0.8386" stop-color="#870098"/><stop offset="0.8387" stop-color="#820093"/><stop offset="0.8387" stop-color="#870098"/><stop offset="0.8388" stop-color="#0300aa"/><stop offset="0.8389" stop-color="#0000dd"/><stop offset="0.8390" stop-color="#0078dd"/><stop offset="0.8391" stop-color="#0080dd"/><stop offset="0.8426" stop-color="#0080dd"/><stop offset="0.8426" stop-color="#0078dd"/><stop offset="0.8428" stop-color="#0000dd"/><stop offset="0.8430" stop-color="#0000bd"/><stop offset="0.8453" stop-color="#0000bd"/><stop offset="0.8454" stop-color="#0300aa"/><stop offset="0.8456" stop-color="#870098"/><stop offset="0.8457" stop-color="#810092"/><stop offset="0.8458" stop-color="#870098"/><stop offset="0.8459" stop-color="#0300aa"/><stop offset="0.8460" stop-color="#0000dd"/><stop offset="0.8461" stop-color="#0078dd"/><stop offset="0.8461" stop-color="#007add"/><stop offset="0.8488" stop-color="#007add"/><stop offset="0.8488" stop-color="#0078dd"/><stop offset="0.8489" stop-color="#0000dd"/><stop offset="0.8491" stop-color="#0300aa"/><stop offset="0.8492" stop-color="#870098"/><stop offset="0.8492" stop-color="#7f0090"/><stop offset="0.8493" stop-color="#870098"/><stop offset="0.8495" stop-color="#0300aa"/><stop offset="0.8496" stop-color="#0000bd"/><stop offset="0.8523" stop-color="#0000bd"/><stop offset="0.8524" stop-color="#0300aa"/><stop offset="0.8526" stop-color="#870098"/><stop offset="0.8527" stop-color="#7e008f"/><stop offset="0.8530" stop-color="#870098"/><stop offset="0.8531" stop-color="#6d009c"/><stop offset="0.8551" stop-color="#6d009c"/><stop offset="0.8554" stop-color="#0300aa"/><stop offset="0.8555" stop-color="#0000b1"/><stop offset="0.8574" stop-color="#0000b1"/><stop offset="0.8575" stop-color="#0300aa"/><stop offset="0.8576" stop-color="#870098"/><stop offset="0.8578" stop-color="#700080"/><stop offset="0.8578" stop-color="#41004b"/><stop offset="0.8586" stop-color="#2f0035"/><stop offset="0.9297" stop-color="#000000"/></linearGradient><linearGradient id="g1_11" gradientUnits="userSpaceOnUse" x1="0" y1="0" x2="640" y2="0"><stop offset="0.5141" stop-color="#7a008b"/><stop offset="0.5152" stop-color="#7a008b"/><stop offset="0.5153" stop-color="#700080"/><stop offset="0.5156" stop-color="#000000"/><stop offset="0.5977" stop-color="#000000"/><stop offset="0.6006" stop-color="#700080"/><stop offset="0.6012" stop-color="#7a008b"/><stop offset="0.6071" stop-color="#870098"/><stop offset="0.6074" stop-color="#83009a"/><stop offset="0.6094" stop-color="#0300aa"/><stop offset="0.6116" stop-color="#0000dd"/><stop offset="0.6137" stop-color="#0078dd"/><stop offset="0.6158" stop-color="#0098dd"/><stop offset="0.6164" stop-color="#009ecf"/><stop offset="0.6396" stop-color="#00aaab"/><stop offset="0.6562" stop-color="#00aa98"/><stop offset="0.6727" stop-color="#00aa90"/><stop offset="0.6779" stop-color="#00aa88"/><stop offset="0.6805" stop-color="#00a97d"/><stop offset="0.6828" stop-color="#00a668"/><stop offset="0.6831" stop-color="#009a00"/><stop offset="0.6832" stop-color="#009f00"/><stop offset="0.6848" stop-color="#009f00"/><stop offset="0.6849" stop-color="#009a00"/><stop offset="0.6852" stop-color="#00a353"/><stop offset="0.6898" stop-color="#009a08"/><stop offset="0.6932" stop-color="#009a00"/><stop offset="0.7156" stop-color="#00a700"/><stop offset="0.7273" stop-color="#009f00"/><stop offset="0.7320" stop-color="#009a00"/><stop offset="0.7414" stop-color="#00aa88"/><stop offset="0.7539" stop-color="#00aaab"/><stop offset="0.7620" stop-color="#0098dd"/><stop offset="0.7701" stop-color="#0078dd"/><stop offset="0.7750" stop-color="#002fdd"/><stop offset="0.7797" stop-color="#0000dd"/><stop offset="0.7906" stop-color="#0000c9"/><stop offset="0.8023" stop-color="#0300aa"/><stop offset="0.8094" stop-color="#4300a2"/><stop offset="0.8141" stop-color="#870098"/><stop offset="0.8230" stop-color="#860097"/><stop offset="0.8231" stop-color="#870098"/><stop offset="0.8231" stop-color="#0300aa"/><stop offset="0.8232" stop-color="#0000dd"/><stop offset="0.8233" stop-color="#0078dd"/><stop offset="0.8234" stop-color="#0098dd"/><stop offset="0.8234" stop-color="#009ecf"/><stop offset="0.8246" stop-color="#009ecf"/><stop offset="0.8246" stop-color="#0098dd"/><stop offset="0.8247" stop-color="#0078dd"/><stop offset="0.8248" stop-color="#0000dd"/><stop offset="0.8249" stop-color="#0300aa"/><stop offset="0.8250" stop-color="#870098"/><stop offset="0.8250" stop-color="#850096"/><stop offset="0.8252" stop-color="#870098"/><stop offset="0.8254" stop-color="#6d009c"/><stop offset="0.8289" stop-color="#6d009c"/><stop offset="0.8291" stop-color="#870098"/><stop offset="0.8293" stop-color="#830094"/><stop offset="0.8297" stop-color="#830094"/><stop offset="0.8297" stop-color="#870098"/><stop offset="0.8298" stop-color="#0300aa"/><stop offset="0.8299" stop-color="#0000dd"/><stop offset="0.8300" stop-color="#0078dd"/><stop offset="0.8301" stop-color="#0080dd"/><stop offset="0.8332" stop-color="#0080dd"/><stop offset="0.8332" stop-color="#0078dd"/><stop offset="0.8333" stop-color="#0000dd"/><stop offset="0.8335" stop-color="#0300aa"/><stop offset="0.8336" stop-color="#870098"/><stop offset="0.8336" stop-color="#830094"/><stop offset="0.8337" stop-color="#870098"/><stop offset="0.8339" stop-color="#0300aa"/><stop offset="0.8340" stop-color="#0000bd"/><stop offset="0.8383" stop-color="#0000bd"/><stop offset="0.8384" stop-color="#0300aa"/><stop offset="0.8386" stop-color="#870098"/><stop offset="0.8387" stop-color="#820093"/><stop offset="0.8387" stop-color="#870098"/><stop offset="0.8388" stop-color="#0300aa"/><stop offset="0.8389" stop-color="#0000dd"/><stop offset="0.8390" stop-color="#0078dd"/><stop offset="0.8391" stop-color="#0080dd"/><stop offset="0.8426" stop-color="#0080dd"/><stop offset="0.8426" stop-color="#0078dd"/><stop offset="0.8428" stop-color="#0000dd"/><stop offset="0.8430" stop-color="#0000bd"/><stop offset="0.8453" stop-color="#0000bd"/><stop offset="0.8454" stop-color="#0300aa"/><stop offset="0.8456" stop-color="#870098"/><stop offset="0.8457" stop-color="#810092"/><stop offset="0.8458" stop-color="#870098"/><stop offset="0.8459" stop-color="#0300aa"/><stop offset="0.8460" stop-color="#0000dd"/><stop offset="0.8461" stop-color="#0078dd"/><stop offset="0.8461" stop-color="#007add"/><stop offset="0.8488" stop-color="#007add"/><stop offset="0.8488" stop-color="#0078dd"/><stop offset="0.8489" stop-color="#0000dd"/><stop offset="0.8491" stop-color="#0300aa"/><stop offset="0.8492" stop-color="#870098"/><stop offset="0.8492" stop-color="#7f0090"/><stop offset="0.8493" stop-color="#870098"/><stop offset="0.8495" stop-color="#0300aa"/><stop offset="0.8496" stop-color="#0000bd"/><stop offset="0.8523" stop-color="#0000bd"/><stop offset="0.8524" stop-color="#0300aa"/><stop offset="0.8526" stop-color="#870098"/><stop offset="0.8527" stop-color="#7e008f"/><stop offset="0.8530" stop-color="#870098"/><stop offset="0.8531" stop-color="#6d009c"/><stop offset="0.8551" stop-color="#6d009c"/><stop offset="0.8554" stop-color="#0300aa"/><stop offset="0.8555" stop-color="#0000b1"/><stop offset="0.8574" stop-color="#0000b1"/><stop offset="0.8575" stop-color="#0300aa"/><stop offset="0.8576" stop-color="#870098"/><stop offset="0.8578" stop-color="#700080"/><stop offset="0.8578" stop-color="#41004b"/><stop offset="0.8586" stop-color="#2f0035"/><stop offset="0.9297" stop-color="#000000"/></linearGradient><linearGradient id="g1_12" gradientUnits="userSpaceOnUse" x1="0" y1="0" x2="640" y2="0"><stop offset="0.5141" stop-color="#7a008b"/><stop offset="0.5152" stop-color="#7a008b"/><stop offset="0.5153" stop-color="#700080"/><stop offset="0.5156" stop-color="#000000"/><stop offset="0.5977" stop-color="#000000"/><stop offset="0.6006" stop-color="#700080"/><stop offset="0.6012" stop-color="#7a008b"/><stop offset="0.6071" stop-color="#870098"/><stop offset="0.6074" stop-color="#83009a"/><stop offset="0.6095" stop-color="#0300aa"/><stop offset="0.6116" stop-color="#0000dd"/><stop offset="0.6125" stop-color="#002fdd"/><stop offset="0.6133" stop-color="#0078dd"/><stop offset="0.6147" stop-color="#0098dd"/><stop offset="0.6161" stop-color="#00aaab"/><stop offset="0.6164" stop-color="#00aaa3"/><stop offset="0.6664" stop-color="#00aa88"/><stop offset="0.6727" stop-color="#00a97d"/><stop offset="0.6773" stop-color="#00a353"/><stop offset="0.6820" stop-color="#009a08"/><stop offset="0.6846" stop-color="#009a00"/><stop offset="0.6930" stop-color="#009f00"/><stop offset="0.6974" stop-color="#00bc00"/><stop offset="0.6977" stop-color="#00bc00"/><stop offset="0.6988" stop-color="#00bc00"/><stop offset="0.6992" stop-color="#00dc00"/><stop offset="0.6992" stop-color="#00e400"/><stop offset="0.7000" stop-color="#00e400"/><stop offset="0.7001" stop-color="#00dc00"/><stop offset="0.7004" stop-color="#00bc00"/><stop offset="0.7156" stop-color="#00c200"/><stop offset="0.7219" stop-color="#00bf00"/><stop offset="0.7237" stop-color="#00bc00"/><stop offset="0.7297" stop-color="#00ac00"/><stop offset="0.7350" stop-color="#009a00"/><stop offset="0.7438" stop-color="#00aa88"/><stop offset="0.7562" stop-color="#00aaab"/><stop offset="0.7644" stop-color="#0098dd"/><stop offset="0.7725" stop-color="#0078dd"/><stop offset="0.7773" stop-color="#002fdd"/><stop offset="0.7820" stop-color="#0000dd"/><stop offset="0.7930" stop-color="#0000c9"/><stop offset="0.8047" stop-color="#0300aa"/><stop offset="0.8117" stop-color="#4300a2"/><stop offset="0.8164" stop-color="#870098"/><stop offset="0.8230" stop-color="#860097"/><stop offset="0.8231" stop-color="#870098"/><stop offset="0.8231" stop-color="#0300aa"/><stop offset="0.8232" stop-color="#0000dd"/><stop offset="0.8233" stop-color="#0078dd"/><stop offset="0.8234" stop-color="#0098dd"/><stop offset="0.8234" stop-color="#009ecf"/><stop offset="0.8246" stop-color="#009ecf"/><stop offset="0.8246" stop-color="#0098dd"/><stop offset="0.8247" stop-color="#0078dd"/><stop offset="0.8248" stop-color="#0000dd"/><stop offset="0.8249" stop-color="#0300aa"/><stop offset="0.8250" stop-color="#870098"/><stop offset="0.8250" stop-color="#850096"/><stop offset="0.8252" stop-color="#870098"/><stop offset="0.8254" stop-color="#6d009c"/><stop offset="0.8289" stop-color="#6d009c"/><stop offset="0.8291" stop-color="#870098"/><stop offset="0.8293" stop-color="#830094"/><stop offset="0.8297" stop-color="#830094"/><stop offset="0.8297" stop-color="#870098"/><stop offset="0.8298" stop-color="#0300aa"/><stop offset="0.8299" stop-color="#0000dd"/><stop offset="0.8300" stop-color="#0078dd"/><stop offset="0.8301" stop-color="#0080dd"/><stop offset="0.8332" stop-color="#0080dd"/><stop offset="0.8332" stop-color="#0078dd"/><stop offset="0.8333" stop-color="#0000dd"/><stop offset="0.8335" stop-color="#0300aa"/><stop offset="0.8336" stop-color="#870098"/><stop offset="0.8336" stop-color="#830094"/><stop offset="0.8337" stop-color="#870098"/><stop offset="0.8339" stop-color="#0300aa"/><stop offset="0.8340" stop-color="#0000bd"/><stop offset="0.8383" stop-color="#0000bd"/><stop offset="0.8384" stop-color="#0300aa"/><stop offset="0.8386" stop-color="#870098"/><stop offset="0.8387" stop-color="#820093"/><stop offset="0.8387" stop-color="#870098"/><stop offset="0.8388" stop-color="#0300aa"/><stop offset="0.8389" stop-color="#0000dd"/><stop offset="0.8390" stop-color="#0078dd"/><stop offset="0.8391" stop-color="#0080dd"/><stop offset="0.8426" stop-color="#0080dd"/><stop offset="0.8426" stop-color="#0078dd"/><stop offset="0.8428" stop-color="#0000dd"/><stop offset="0.8430" stop-color="#0000bd"/><stop offset="0.8453" stop-color="#0000bd"/><stop offset="0.8454" stop-color="#0300aa"/><stop offset="0.8456" stop-color="#870098"/><stop offset="0.8457" stop-color="#810092"/><stop offset="0.8458" stop-color="#870098"/><stop offset="0.8459" stop-color="#0300aa"/><stop offset="0.8460" stop-color="#0000dd"/><stop offset="0.8461" stop-color="#0078dd"/><stop offset="0.8461" stop-color="#007add"/><stop offset="0.8488" stop-color="#007add"/><stop offset="0.8488" stop-color="#0078dd"/><stop offset="0.8489" stop-color="#0000dd"/><stop offset="0.8491" stop-color="#0300aa"/><stop offset="0.8492" stop-color="#870098"/><stop offset="0.8492" stop-color="#7f0090"/><stop offset="0.8493" stop-color="#870098"/><stop offset="0.8495" stop-color="#0300aa"/><stop offset="0.8496" stop-color="#0000bd"/><stop offset="0.8523" stop-color="#0000bd"/><stop offset="0.8524" stop-color="#0300aa"/><stop offset="0.8526" stop-color="#870098"/><stop offset="0.8527" stop-color="#7e008f"/><stop offset="0.8530" stop-color="#870098"/><stop offset="0.8531" stop-color="#6d009c"/><stop offset="0.8551" stop-color="#6d009c"/><stop offset="0.8554" stop-color="#0300aa"/><stop offset="0.8555" stop-color="#0000b1"/><stop offset="0.8574" stop-color="#0000b1"/><stop offset="0.8575" stop-color="#0300aa"/><stop offset="0.8576" stop-color="#870098"/><stop offset="0.8578" stop-color="#700080"/><stop offset="0.8578" stop-color="#41004b"/><stop offset="0.8586" stop-color="#2f0035"/><stop offset="0.9297" stop-color="#000000"/></linearGradient><linearGradient id="g1_13" gradientUnits="userSpaceOnUse" x1="0" y1="0" x2="640" y2="0"><stop offset="0.5141" stop-color="#7a008b"/><stop offset="0.5152" stop-color="#7a008b"/><stop offset="0.5153" stop-color="#700080"/><stop offset="0.5156" stop-color="#000000"/><stop offset="0.5977" stop-color="#000000"/><stop offset="0.6006" stop-color="#700080"/><stop offset="0.6012" stop-color="#7a008b"/><stop offset="0.6071" stop-color="#870098"/><stop offset="0.6074" stop-color="#83009a"/><stop offset="0.6094" stop-color="#0300aa"/><stop offset="0.6116" stop-color="#0000dd"/><stop offset="0.6137" stop-color="#0078dd"/><stop offset="0.6158" stop-color="#0098dd"/><stop offset="0.6164" stop-color="#009ecf"/><stop offset="0.6432" stop-color="#00aaab"/><stop offset="0.6684" stop-color="#00aa93"/><stop offset="0.6684" stop-color="#00aa88"/><stop offset="0.6684" stop-color="#009a00"/><stop offset="0.6685" stop-color="#00bc00"/><stop offset="0.6686" stop-color="#00dc00"/><stop offset="0.6686" stop-color="#00ff00"/><stop offset="0.6687" stop-color="#bcff00"/><stop offset="0.6687" stop-color="#efed00"/><stop offset="0.6703" stop-color="#efed00"/><stop offset="0.6704" stop-color="#bcff00"/><stop offset="0.6704" stop-color="#00ff00"/><stop offset="0.6705" stop-color="#00dc00"/><stop offset="0.6706" stop-color="#00bc00"/><stop offset="0.6706" stop-color="#009a00"/><stop offset="0.6707" stop-color="#00aa88"/><stop offset="0.6707" stop-color="#00aa93"/><stop offset="0.6772" stop-color="#00aa88"/><stop offset="0.6828" stop-color="#00a668"/><stop offset="0.6829" stop-color="#009a00"/><stop offset="0.6829" stop-color="#00bc00"/><stop offset="0.6830" stop-color="#00dc00"/><stop offset="0.6831" stop-color="#00ff00"/><stop offset="0.6832" stop-color="#bcff00"/><stop offset="0.6832" stop-color="#dcf400"/><stop offset="0.6848" stop-color="#dcf400"/><stop offset="0.6848" stop-color="#bcff00"/><stop offset="0.6849" stop-color="#00ff00"/><stop offset="0.6850" stop-color="#00dc00"/><stop offset="0.6850" stop-color="#00bc00"/><stop offset="0.6851" stop-color="#009a00"/><stop offset="0.6852" stop-color="#00a353"/><stop offset="0.6898" stop-color="#009a08"/><stop offset="0.6924" stop-color="#009a00"/><stop offset="0.6988" stop-color="#009f00"/><stop offset="0.6989" stop-color="#00bc00"/><stop offset="0.6991" stop-color="#00dc00"/><stop offset="0.6992" stop-color="#00ff00"/><stop offset="0.7000" stop-color="#00ff00"/><stop offset="0.7001" stop-color="#00dc00"/><stop offset="0.7003" stop-color="#00bc00"/><stop offset="0.7004" stop-color="#009f00"/><stop offset="0.7156" stop-color="#00a700"/><stop offset="0.7273" stop-color="#009f00"/><stop offset="0.7320" stop-color="#009a00"/><stop offset="0.7414" stop-color="#00aa88"/><stop offset="0.7539" stop-color="#00aaab"/><stop offset="0.7620" stop-color="#0098dd"/><stop offset="0.7701" stop-color="#0078dd"/><stop offset="0.7750" stop-color="#002fdd"/><stop offset="0.7797" stop-color="#0000dd"/><stop offset="0.7906" stop-color="#0000c9"/><stop offset="0.8023" stop-color="#0300aa"/><stop offset="0.8094" stop-color="#4300a2"/><stop offset="0.8141" stop-color="#870098"/><stop offset="0.8230" stop-color="#860097"/><stop offset="0.8231" stop-color="#870098"/><stop offset="0.8231" stop-color="#0300aa"/><stop offset="0.8232" stop-color="#0000dd"/><stop offset="0.8233" stop-color="#0078dd"/><stop offset="0.8234" stop-color="#0098dd"/><stop offset="0.8234" stop-color="#009ecf"/><stop offset="0.8246" stop-color="#009ecf"/><stop offset="0.8246" stop-color="#0098dd"/><stop offset="0.8247" stop-color="#0078dd"/><stop offset="0.8248" stop-color="#0000dd"/><stop offset="0.8249" stop-color="#0300aa"/><stop offset="0.8250" stop-color="#870098"/><stop offset="0.8250" stop-color="#850096"/><stop offset="0.8252" stop-color="#870098"/><stop offset="0.8254" stop-color="#6d009c"/><stop offset="0.8289" stop-color="#6d009c"/><stop offset="0.8291" stop-color="#870098"/><stop offset="0.8293" stop-color="#830094"/><stop offset="0.8297" stop-color="#830094"/><stop offset="0.8297" stop-color="#870098"/><stop offset="0.8298" stop-color="#0300aa"/><stop offset="0.8299" stop-color="#0000dd"/><stop offset="0.8300" stop-color="#0078dd"/><stop offset="0.8301" stop-color="#0080dd"/><stop offset="0.8332" stop-color="#0080dd"/><stop offset="0.8332" stop-color="#0078dd"/><stop offset="0.8333" stop-color="#0000dd"/><stop offset="0.8335" stop-color="#0300aa"/><stop offset="0.8336" stop-color="#870098"/><stop offset="0.8336" stop-color="#830094"/><stop offset="0.8337" stop-color="#870098"/><stop offset="0.8339" stop-color="#0300aa"/><stop offset="0.8340" stop-color="#0000bd"/><stop offset="0.8383" stop-color="#0000bd"/><stop offset="0.8384" stop-color="#0300aa"/><stop offset="0.8386" stop-color="#870098"/><stop offset="0.8387" stop-color="#820093"/><stop offset="0.8387" stop-color="#870098"/><stop offset="0.8388" stop-color="#0300aa"/><stop offset="0.8389" stop-color="#0000dd"/><stop offset="0.8390" stop-color="#0078dd"/><stop offset="0.8391" stop-color="#0080dd"/><stop offset="0.8426" stop-color="#0080dd"/><stop offset="0.8426" stop-color="#0078dd"/><stop offset="0.8428" stop-color="#0000dd"/><stop offset="0.8430" stop-color="#0000bd"/><stop offset="0.8453" stop-color="#0000bd"/><stop offset="0.8454" stop-color="#0300aa"/><stop offset="0.8456" stop-color="#870098"/><stop offset="0.8457" stop-color="#810092"/><stop offset="0.8458" stop-color="#870098"/><stop offset="0.8459" stop-color="#0300aa"/><stop offset="0.8460" stop-color="#0000dd"/><stop offset="0.8461" stop-color="#0078dd"/><stop offset="0.8461" stop-color="#007add"/><stop offset="0.8488" stop-color="#007add"/><stop offset="0.8488" stop-color="#0078dd"/><stop offset="0.8489" stop-color="#0000dd"/><stop offset="0.8491" stop-color="#0300aa"/><stop offset="0.8492" stop-color="#870098"/><stop offset="0.8492" stop-color="#7f0090"/><stop offset="0.8493" stop-color="#870098"/><stop offset="0.8495" stop-color="#0300aa"/><stop offset="0.8496" stop-color="#0000bd"/><stop offset="0.8523" stop-color="#0000bd"/><stop offset="0.8524" stop-color="#0300aa"/><stop offset="0.8526" stop-color="#870098"/><stop offset="0.8527" stop-color="#7e008f"/><stop offset="0.8530" stop-color="#870098"/><stop offset="0.8531" stop-color="#6d009c"/><stop offset="0.8551" stop-color="#6d009c"/><stop offset="0.8554" stop-color="#0300aa"/><stop offset="0.8555" stop-color="#0000b1"/><stop offset="0.8574" stop-color="#0000b1"/><stop offset="0.8575" stop-color="#0300aa"/><stop offset="0.8576" stop-color="#870098"/><stop offset="0.8578" stop-color="#700080"/><stop offset="0.8578" stop-color="#41004b"/><stop offset="0.8586" stop-color="#2f0035"/><stop offset="0.9297" stop-color="#000000"/></linearGradient><linearGradient id="g1_14" gradientUnits="userSpaceOnUse" x1="0" y1="0" x2="640" y2="0"><stop offset="0.5141" stop-color="#7a008b"/><stop offset="0.5152" stop-color="#7a008b"/><stop offset="0.5153" stop-color="#700080"/><stop offset="0.5156" stop-color="#000000"/><stop offset="0.5977" stop-color="#000000"/><stop offset="0.6006" stop-color="#700080"/><stop offset="0.6012" stop-color="#7a008b"/><stop offset="0.6071" stop-color="#870098"/><stop offset="0.6074" stop-color="#83009a"/><stop offset="0.6095" stop-color="#0300aa"/><stop offset="0.6116" stop-color="#0000dd"/><stop offset="0.6125" stop-color="#002fdd"/><stop offset="0.6133" stop-color="#0078dd"/><stop offset="0.6147" stop-color="#0098dd"/><stop offset="0.6161" stop-color="#00aaab"/><stop offset="0.6164" stop-color="#00aaa3"/><stop offset="0.6664" stop-color="#00aa88"/><stop offset="0.6727" stop-color="#00a97d"/><stop offset="0.6773" stop-color="#00a353"/><stop offset="0.6820" stop-color="#009a08"/><stop offset="0.6846" stop-color="#009a00"/><stop offset="0.6930" stop-color="#009f00"/><stop offset="0.6970" stop-color="#00bc00"/><stop offset="0.6977" stop-color="#00bf00"/><stop offset="0.6988" stop-color="#00bf00"/><stop offset="0.6991" stop-color="#00dc00"/><stop offset="0.6992" stop-color="#00f200"/><stop offset="0.7000" stop-color="#00f200"/><stop offset="0.7002" stop-color="#00dc00"/><stop offset="0.7004" stop-color="#00c200"/><stop offset="0.7156" stop-color="#00c400"/><stop offset="0.7219" stop-color="#00c200"/><stop offset="0.7249" stop-color="#00bc00"/><stop offset="0.7297" stop-color="#00af00"/><stop offset="0.7344" stop-color="#009a00"/><stop offset="0.7438" stop-color="#00aa88"/><stop offset="0.7562" stop-color="#00aaab"/><stop offset="0.7644" stop-color="#0098dd"/><stop offset="0.7725" stop-color="#0078dd"/><stop offset="0.7773" stop-color="#002fdd"/><stop offset="0.7820" stop-color="#0000dd"/><stop offset="0.7930" stop-color="#0000c9"/><stop offset="0.8047" stop-color="#0300aa"/><stop offset="0.8117" stop-color="#4300a2"/><stop offset="0.8164" stop-color="#870098"/><stop offset="0.8230" stop-color="#860097"/><stop offset="0.8231" stop-color="#870098"/><stop offset="0.8231" stop-color="#0300aa"/><stop offset="0.8232" stop-color="#0000dd"/><stop offset="0.8233" stop-color="#0078dd"/><stop offset="0.8234" stop-color="#0098dd"/><stop offset="0.8234" stop-color="#009ecf"/><stop offset="0.8246" stop-color="#009ecf"/><stop offset="0.8246" stop-color="#0098dd"/><stop offset="0.8247" stop-color="#0078dd"/><stop offset="0.8248" stop-color="#0000dd"/><stop offset="0.8249" stop-color="#0300aa"/><stop offset="0.8250" stop-color="#870098"/><stop offset="0.8250" stop-color="#850096"/><stop offset="0.8252" stop-color="#870098"/><stop offset="0.8254" stop-color="#6d009c"/><stop offset="0.8289" stop-color="#6d009c"/><stop offset="0.8291" stop-color="#870098"/><stop offset="0.8293" stop-color="#830094"/><stop offset="0.8297" stop-color="#830094"/><stop offset="0.8297" stop-color="#870098"/><stop offset="0.8298" stop-color="#0300aa"/><stop offset="0.8299" stop-color="#0000dd"/><stop offset="0.8300" stop-color="#0078dd"/><stop offset="0.8301" stop-color="#0080dd"/><stop offset="0.8332" stop-color="#0080dd"/><stop offset="0.8332" stop-color="#0078dd"/><stop offset="0.8333" stop-color="#0000dd"/><stop offset="0.8335" stop-color="#0300aa"/><stop offset="0.8336" stop-color="#870098"/><stop offset="0.8336" stop-color="#830094"/><stop offset="0.8337" stop-color="#870098"/><stop offset="0.8339" stop-color="#0300aa"/><stop offset="0.8340" stop-color="#0000bd"/><stop offset="0.8383" stop-color="#0000bd"/><stop offset="0.8384" stop-color="#0300aa"/><stop offset="0.8386" stop-color="#870098"/><stop offset="0.8387" stop-color="#820093"/><stop offset="0.8387" stop-color="#870098"/><stop offset="0.8388" stop-color="#0300aa"/><stop offset="0.8389" stop-color="#0000dd"/><stop offset="0.8390" stop-color="#0078dd"/><stop offset="0.8391" stop-color="#0080dd"/><stop offset="0.8426" stop-color="#0080dd"/><stop offset="0.8426" stop-color="#0078dd"/><stop offset="0.8428" stop-color="#0000dd"/><stop offset="0.8430" stop-color="#0000bd"/><stop offset="0.8453" stop-color="#0000bd"/><stop offset="0.8454" stop-color="#0300aa"/><stop offset="0.8456" stop-color="#870098"/><stop offset="0.8457" stop-color="#810092"/><stop offset="0.8458" stop-color="#870098"/><stop offset="0.8459" stop-color="#0300aa"/><stop offset="0.8460" stop-color="#0000dd"/><stop offset="0.8461" stop-color="#0078dd"/><stop offset="0.8461" stop-color="#007add"/><stop offset="0.8488" stop-color="#007add"/><stop offset="0.8488" stop-color="#0078dd"/><stop offset="0.8489" stop-color="#0000dd"/><stop offset="0.8491" stop-color="#0300aa"/><stop offset="0.8492" stop-color="#870098"/><stop offset="0.8492" stop-color="#7f0090"/><stop offset="0.8493" stop-color="#870098"/><stop offset="0.8495" stop-color="#0300aa"/><stop offset="0.8496" stop-color="#0000bd"/><stop offset="0.8523" stop-color="#0000bd"/><stop offset="0.8524" stop-color="#0300aa"/><stop offset="0.8526" stop-color="#870098"/><stop offset="0.8527" stop-color="#7e008f"/><stop offset="0.8530" stop-color="#870098"/><stop offset="0.8531" stop-color="#6d009c"/><stop offset="0.8551" stop-color="#6d009c"/><stop offset="0.8554" stop-color="#0300aa"/><stop offset="0.8555" stop-color="#0000b1"/><stop offset="0.8574" stop-color="#0000b1"/><stop offset="0.8575" stop-color="#0300aa"/><stop offset="0.8576" stop-color="#870098"/><stop offset="0.8578" stop-color="#700080"/><stop offset="0.8578" stop-color="#41004b"/><stop offset="0.8586" stop-color="#2f0035"/><stop offset="0.9297" stop-color="#000000"/></linearGradient><linearGradient id="g1_15" gradientUnits="userSpaceOnUse" x1="0" y1="0" x2="640" y2="0"><stop offset="0.5141" stop-color="#7a008b"/><stop offset="0.5152" stop-color="#7a008b"/><stop offset="0.5153" stop-color="#700080"/><stop offset="0.5156" stop-color="#000000"/><stop offset="0.5977" stop-color="#000000"/><stop offset="0.6006" stop-color="#700080"/><stop offset="0.6012" stop-color="#7a008b"/><stop offset="0.6071" stop-color="#870098"/><stop offset="0.6074" stop-color="#83009a"/><stop offset="0.6095" stop-color="#0300aa"/><stop offset="0.6116" stop-color="#0000dd"/><stop offset="0.6125" stop-color="#002fdd"/><stop offset="0.6135" stop-color="#0078dd"/><stop offset="0.6152" stop-color="#0098dd"/><stop offset="0.6164" stop-color="#00a4bb"/><stop offset="0.6285" stop-color="#00aaab"/><stop offset="0.6686" stop-color="#00aa88"/><stop offset="0.6727" stop-color="#00a97d"/><stop offset="0.6773" stop-color="#00a353"/><stop offset="0.6820" stop-color="#009a08"/><stop offset="0.6846" stop-color="#009a00"/><stop offset="0.6930" stop-color="#009f00"/><stop offset="0.6963" stop-color="#00bc00"/><stop offset="0.6977" stop-color="#00c700"/><stop offset="0.7156" stop-color="#00cc00"/><stop offset="0.7227" stop-color="#00ca00"/><stop offset="0.7276" stop-color="#00bc00"/><stop offset="0.7305" stop-color="#00b200"/><stop offset="0.7352" stop-color="#009a00"/><stop offset="0.7445" stop-color="#00aa88"/><stop offset="0.7570" stop-color="#00aaab"/><stop offset="0.7651" stop-color="#0098dd"/><stop offset="0.7733" stop-color="#0078dd"/><stop offset="0.7781" stop-color="#002fdd"/><stop offset="0.7828" stop-color="#0000dd"/><stop offset="0.7937" stop-color="#0000c9"/><stop offset="0.8055" stop-color="#0300aa"/><stop offset="0.8125" stop-color="#4300a2"/><stop offset="0.8172" stop-color="#870098"/><stop offset="0.8230" stop-color="#860097"/><stop offset="0.8231" stop-color="#870098"/><stop offset="0.8231" stop-color="#0300aa"/><stop offset="0.8232" stop-color="#0000dd"/><stop offset="0.8233" stop-color="#0078dd"/><stop offset="0.8234" stop-color="#0098dd"/><stop offset="0.8234" stop-color="#009ecf"/><stop offset="0.8246" stop-color="#009ecf"/><stop offset="0.8246" stop-color="#0098dd"/><stop offset="0.8247" stop-color="#0078dd"/><stop offset="0.8248" stop-color="#0000dd"/><stop offset="0.8249" stop-color="#0300aa"/><stop offset="0.8250" stop-color="#870098"/><stop offset="0.8250" stop-color="#850096"/><stop offset="0.8252" stop-color="#870098"/><stop offset="0.8254" stop-color="#6d009c"/><stop offset="0.8289" stop-color="#6d009c"/><stop offset="0.8291" stop-color="#870098"/><stop offset="0.8293" stop-color="#830094"/><stop offset="0.8297" stop-color="#830094"/><stop offset="0.8297" stop-color="#870098"/><stop offset="0.8298" stop-color="#0300aa"/><stop offset="0.8299" stop-color="#0000dd"/><stop offset="0.8300" stop-color="#0078dd"/><stop offset="0.8301" stop-color="#0080dd"/><stop offset="0.8332" stop-color="#0080dd"/><stop offset="0.8332" stop-color="#0078dd"/><stop offset="0.8333" stop-color="#0000dd"/><stop offset="0.8335" stop-color="#0300aa"/><stop offset="0.8336" stop-color="#870098"/><stop offset="0.8336" stop-color="#830094"/><stop offset="0.8337" stop-color="#870098"/><stop offset="0.8339" stop-color="#0300aa"/><stop offset="0.8340" stop-color="#0000bd"/><stop offset="0.8383" stop-color="#0000bd"/><stop offset="0.8384" stop-color="#0300aa"/><stop offset="0.8386" stop-color="#870098"/><stop offset="0.8387" stop-color="#820093"/><stop offset="0.8387" stop-color="#870098"/><stop offset="0.8388" stop-color="#0300aa"/><stop offset="0.8389" stop-color="#0000dd"/><stop offset="0.8390" stop-color="#0078dd"/><stop offset="0.8391" stop-color="#0080dd"/><stop offset="0.8426" stop-color="#0080dd"/><stop offset="0.8426" stop-color="#0078dd"/><stop offset="0.8428" stop-color="#0000dd"/><stop offset="0.8430" stop-color="#0000bd"/><stop offset="0.8453" stop-color="#0000bd"/><stop offset="0.8454" stop-color="#0300aa"/><stop offset="0.8456" stop-color="#870098"/><stop offset="0.8457" stop-color="#810092"/><stop offset="0.8458" stop-color="#870098"/><stop offset="0.8459" stop-color="#0300aa"/><stop offset="0.8460" stop-color="#0000dd"/><stop offset="0.8461" stop-color="#0078dd"/><stop offset="0.8461" stop-color="#007add"/><stop offset="0.8488" stop-color="#007add"/><stop offset="0.8488" stop-color="#0078dd"/><stop offset="0.8489" stop-color="#0000dd"/><stop offset="0.8491" stop-color="#0300aa"/><stop offset="0.8492" stop-color="#870098"/><stop offset="0.8492" stop-color="#7f0090"/><stop offset="0.8493" stop-color="#870098"/><stop offset="0.8495" stop-color="#0300aa"/><stop offset="0.8496" stop-color="#0000bd"/><stop offset="0.8523" stop-color="#0000bd"/><stop offset="0.8524" stop-color="#0300aa"/><stop offset="0.8526" stop-color="#870098"/><stop offset="0.8527" stop-color="#7e008f"/><stop offset="0.8530" stop-color="#870098"/><stop offset="0.8531" stop-color="#6d009c"/><stop offset="0.8551" stop-color="#6d009c"/><stop offset="0.8554" stop-color="#0300aa"/><stop offset="0.8555" stop-color="#0000b1"/><stop offset="0.8574" stop-color="#0000b1"/><stop offset="0.8575" stop-color="#0300aa"/><stop offset="0.8576" stop-color="#870098"/><stop offset="0.8578" stop-color="#700080"/><stop offset="0.8578" stop-color="#41004b"/><stop offset="0.8586" stop-color="#2f0035"/><stop offset="0.9297" stop-color="#000000"/></linearGradient><linearGradient id="g1_16" gradientUnits="userSpaceOnUse" x1="0" y1="0" x2="640" y2="0"><stop offset="0.5141" stop-color="#7a008b"/><stop offset="0.5152" stop-color="#7a008b"/><stop offset="0.5153" stop-color="#700080"/><stop offset="0.5156" stop-color="#000000"/><stop offset="0.5977" stop-color="#000000"/><stop offset="0.6006" stop-color="#700080"/><stop offset="0.6012" stop-color="#7a008b"/><stop offset="0.6071" stop-color="#870098"/><stop offset="0.6074" stop-color="#83009a"/><stop offset="0.6094" stop-color="#0300aa"/><stop offset="0.6116" stop-color="#0000dd"/><stop offset="0.6137" stop-color="#0078dd"/><stop offset="0.6158" stop-color="#0098dd"/><stop offset="0.6164" stop-color="#009ecf"/><stop offset="0.6418" stop-color="#00aaab"/><stop offset="0.6562" stop-color="#00aa9d"/><stop offset="0.6703" stop-color="#00aa88"/><stop offset="0.6727" stop-color="#00a97d"/><stop offset="0.6773" stop-color="#00a353"/><stop offset="0.6820" stop-color="#009a08"/><stop offset="0.6846" stop-color="#009a00"/><stop offset="0.6930" stop-color="#009f00"/><stop offset="0.6966" stop-color="#00bc00"/><stop offset="0.6977" stop-color="#00c400"/><stop offset="0.7156" stop-color="#00ca00"/><stop offset="0.7227" stop-color="#00c700"/><stop offset="0.7267" stop-color="#00bc00"/><stop offset="0.7305" stop-color="#00b200"/><stop offset="0.7352" stop-color="#009a00"/><stop offset="0.7445" stop-color="#00aa88"/><stop offset="0.7570" stop-color="#00aaab"/><stop offset="0.7651" stop-color="#0098dd"/><stop offset="0.7733" stop-color="#0078dd"/><stop offset="0.7781" stop-color="#002fdd"/><stop offset="0.7828" stop-color="#0000dd"/><stop offset="0.7937" stop-color="#0000c9"/><stop offset="0.8055" stop-color="#0300aa"/><stop offset="0.8125" stop-color="#4300a2"/><stop offset="0.8172" stop-color="#870098"/><stop offset="0.8230" stop-color="#860097"/><stop offset="0.8231" stop-color="#870098"/><stop offset="0.8231" stop-color="#0300aa"/><stop offset="0.8232" stop-color="#0000dd"/><stop offset="0.8233" stop-color="#0078dd"/><stop offset="0.8234" stop-color="#0098dd"/><stop offset="0.8234" stop-color="#009ecf"/><stop offset="0.8246" stop-color="#009ecf"/><stop offset="0.8246" stop-color="#0098dd"/><stop offset="0.8247" stop-color="#0078dd"/><stop offset="0.8248" stop-color="#0000dd"/><stop offset="0.8249" stop-color="#0300aa"/><stop offset="0.8250" stop-color="#870098"/><stop offset="0.8250" stop-color="#850096"/><stop offset="0.8252" stop-color="#870098"/><stop offset="0.8254" stop-color="#6d009c"/><stop offset="0.8289" stop-color="#6d009c"/><stop offset="0.8291" stop-color="#870098"/><stop offset="0.8293" stop-color="#830094"/><stop offset="0.8297" stop-color="#830094"/><stop offset="0.8297" stop-color="#870098"/><stop offset="0.8298" stop-color="#0300aa"/><stop offset="0.8299" stop-color="#0000dd"/><stop offset="0.8300" stop-color="#0078dd"/><stop offset="0.8301" stop-color="#0080dd"/><stop offset="0.8332" stop-color="#0080dd"/><stop offset="0.8332" stop-color="#0078dd"/><stop offset="0.8333" stop-color="#0000dd"/><stop offset="0.8335" stop-color="#0300aa"/><stop offset="0.8336" stop-color="#870098"/><stop offset="0.8336" stop-color="#830094"/><stop offset="0.8337" stop-color="#870098"/><stop offset="0.8339" stop-color="#0300aa"/><stop offset="0.8340" stop-color="#0000bd"/><stop offset="0.8383" stop-color="#0000bd"/><stop offset="0.8384" stop-color="#0300aa"/><stop offset="0.8386" stop-color="#870098"/><stop offset="0.8387" stop-color="#820093"/><stop offset="0.8387" stop-color="#870098"/><stop offset="0.8388" stop-color="#0300aa"/><stop offset="0.8389" stop-color="#0000dd"/><stop offset="0.8390" stop-color="#0078dd"/><stop offset="0.8391" stop-color="#0080dd"/><stop offset="0.8426" stop-color="#0080dd"/><stop offset="0.8426" stop-color="#0078dd"/><stop offset="0.8428" stop-color="#0000dd"/><stop offset="0.8430" stop-color="#0000bd"/><stop offset="0.8453" stop-color="#0000bd"/><stop offset="0.8454" stop-color="#0300aa"/><stop offset="0.8456" stop-color="#870098"/><stop offset="0.8457" stop-color="#810092"/><stop offset="0.8458" stop-color="#870098"/><stop offset="0.8459" stop-color="#0300aa"/><stop offset="0.8460" stop-color="#0000dd"/><stop offset="0.8461" stop-color="#0078dd"/><stop offset="0.8461" stop-color="#007add"/><stop offset="0.8488" stop-color="#007add"/><stop offset="0.8488" stop-color="#0078dd"/><stop offset="0.8489" stop-color="#0000dd"/><stop offset="0.8491" stop-color="#0300aa"/><stop offset="0.8492" stop-color="#870098"/><stop offset="0.8492" stop-color="#7f0090"/><stop offset="0.8493" stop-color="#870098"/><stop offset="0.8495" stop-color="#0300aa"/><stop offset="0.8496" stop-color="#0000bd"/><stop offset="0.8523" stop-color="#0000bd"/><stop offset="0.8524" stop-color="#0300aa"/><stop offset="0.8526" stop-color="#870098"/><stop offset="0.8527" stop-color="#7e008f"/><stop offset="0.8530" stop-color="#870098"/><stop offset="0.8531" stop-color="#6d009c"/><stop offset="0.8551" stop-color="#6d009c"/><stop offset="0.8554" stop-color="#0300aa"/><stop offset="0.8555" stop-color="#0000b1"/><stop offset="0.8574" stop-color="#0000b1"/><stop offset="0.8575" stop-color="#0300aa"/><stop offset="0.8576" stop-color="#870098"/><stop offset="0.8578" stop-color="#700080"/><stop offset="0.8578" stop-color="#41004b"/><stop offset="0.8586" stop-color="#2f0035"/><stop offset="0.9297" stop-color="#000000"/></linearGradient><linearGradient id="g1_17" gradientUnits="userSpaceOnUse" x1="0" y1="0" x2="640" y2="0"><stop offset="0.5141" stop-color="#7a008b"/><stop offset="0.5152" stop-color="#7a008b"/><stop offset="0.5153" stop-color="#700080"/><stop offset="0.5156" stop-color="#000000"/><stop offset="0.5977" stop-color="#000000"/><stop offset="0.6006" stop-color="#700080"/><stop offset="0.6012" stop-color="#7a008b"/><stop offset="0.6071" stop-color="#870098"/><stop offset="0.6074" stop-color="#83009a"/><stop offset="0.6095" stop-color="#0300aa"/><stop offset="0.6117" stop-color="#0000dd"/><stop offset="0.6138" stop-color="#0078dd"/><stop offset="0.6160" stop-color="#0098dd"/><stop offset="0.6164" stop-color="#009cd3"/><stop offset="0.6474" stop-color="#00aaab"/><stop offset="0.6727" stop-color="#00aa95"/><stop offset="0.6786" stop-color="#00aa88"/><stop offset="0.6828" stop-color="#00a668"/><stop offset="0.6829" stop-color="#009a00"/><stop offset="0.6831" stop-color="#00bc00"/><stop offset="0.6832" stop-color="#00cf00"/><stop offset="0.6848" stop-color="#00cf00"/><stop offset="0.6849" stop-color="#00bc00"/><stop offset="0.6850" stop-color="#009a00"/><stop offset="0.6852" stop-color="#00a353"/><stop offset="0.6898" stop-color="#009a08"/><stop offset="0.6924" stop-color="#009a00"/><stop offset="0.7008" stop-color="#009f00"/><stop offset="0.7055" stop-color="#00aa00"/><stop offset="0.7156" stop-color="#00af00"/><stop offset="0.7266" stop-color="#00a400"/><stop offset="0.7312" stop-color="#009a00"/><stop offset="0.7406" stop-color="#00aa88"/><stop offset="0.7531" stop-color="#00aaab"/><stop offset="0.7612" stop-color="#0098dd"/><stop offset="0.7694" stop-color="#0078dd"/><stop offset="0.7742" stop-color="#002fdd"/><stop offset="0.7789" stop-color="#0000dd"/><stop offset="0.7898" stop-color="#0000c9"/><stop offset="0.8016" stop-color="#0300aa"/><stop offset="0.8086" stop-color="#4300a2"/><stop offset="0.8133" stop-color="#870098"/><stop offset="0.8230" stop-color="#860097"/><stop offset="0.8231" stop-color="#870098"/><stop offset="0.8231" stop-color="#0300aa"/><stop offset="0.8232" stop-color="#0000dd"/><stop offset="0.8233" stop-color="#0078dd"/><stop offset="0.8234" stop-color="#0098dd"/><stop offset="0.8234" stop-color="#009ecf"/><stop offset="0.8246" stop-color="#009ecf"/><stop offset="0.8246" stop-color="#0098dd"/><stop offset="0.8247" stop-color="#0078dd"/><stop offset="0.8248" stop-color="#0000dd"/><stop offset="0.8249" stop-color="#0300aa"/><stop offset="0.8250" stop-color="#870098"/><stop offset="0.8250" stop-color="#850096"/><stop offset="0.8252" stop-color="#870098"/><stop offset="0.8254" stop-color="#6d009c"/><stop offset="0.8289" stop-color="#6d009c"/><stop offset="0.8291" stop-color="#870098"/><stop offset="0.8293" stop-color="#830094"/><stop offset="0.8297" stop-color="#830094"/><stop offset="0.8297" stop-color="#870098"/><stop offset="0.8298" stop-color="#0300aa"/><stop offset="0.8299" stop-color="#0000dd"/><stop offset="0.8300" stop-color="#0078dd"/><stop offset="0.8301" stop-color="#0080dd"/><stop offset="0.8332" stop-color="#0080dd"/><stop offset="0.8332" stop-color="#0078dd"/><stop offset="0.8333" stop-color="#0000dd"/><stop offset="0.8335" stop-color="#0300aa"/><stop offset="0.8336" stop-color="#870098"/><stop offset="0.8336" stop-color="#830094"/><stop offset="0.8337" stop-color="#870098"/><stop offset="0.8339" stop-color="#0300aa"/><stop offset="0.8340" stop-color="#0000bd"/><stop offset="0.8383" stop-color="#0000bd"/><stop offset="0.8384" stop-color="#0300aa"/><stop offset="0.8386" stop-color="#870098"/><stop offset="0.8387" stop-color="#820093"/><stop offset="0.8387" stop-color="#870098"/><stop offset="0.8388" stop-color="#0300aa"/><stop offset="0.8389" stop-color="#0000dd"/><stop offset="0.8390" stop-color="#0078dd"/><stop offset="0.8391" stop-color="#0080dd"/><stop offset="0.8426" stop-color="#0080dd"/><stop offset="0.8426" stop-color="#0078dd"/><stop offset="0.8428" stop-color="#0000dd"/><stop offset="0.8430" stop-color="#0000bd"/><stop offset="0.8453" stop-color="#0000bd"/><stop offset="0.8454" stop-color="#0300aa"/><stop offset="0.8456" stop-color="#870098"/><stop offset="0.8457" stop-color="#810092"/><stop offset="0.8458" stop-color="#870098"/><stop offset="0.8459" stop-color="#0300aa"/><stop offset="0.8460" stop-color="#0000dd"/><stop offset="0.8461" stop-color="#0078dd"/><stop offset="0.8461" stop-color="#007add"/><stop offset="0.8488" stop-color="#007add"/><stop offset="0.8488" stop-color="#0078dd"/><stop offset="0.8489" stop-color="#0000dd"/><stop offset="0.8491" stop-color="#0300aa"/><stop offset="0.8492" stop-color="#870098"/><stop offset="0.8492" stop-color="#7f0090"/><stop offset="0.8493" stop-color="#870098"/><stop offset="0.8495" stop-color="#0300aa"/><stop offset="0.8496" stop-color="#0000bd"/><stop offset="0.8523" stop-color="#0000bd"/><stop offset="0.8524" stop-color="#0300aa"/><stop offset="0.8526" stop-color="#870098"/><stop offset="0.8527" stop-color="#7e008f"/><stop offset="0.8530" stop-color="#870098"/><stop offset="0.8531" stop-color="#6d009c"/><stop offset="0.8551" stop-color="#6d009c"/><stop offset="0.8554" stop-color="#0300aa"/><stop offset="0.8555" stop-color="#0000b1"/><stop offset="0.8574" stop-color="#0000b1"/><stop offset="0.8575" stop-color="#0300aa"/><stop offset="0.8576" stop-color="#870098"/><stop offset="0.8578" stop-color="#700080"/><stop offset="0.8578" stop-color="#41004b"/><stop offset="0.8586" stop-color="#2f0035"/><stop offset="0.9297" stop-color="#000000"/></linearGradient><linearGradient id="g1_18" gradientUnits="userSpaceOnUse" x1="0" y1="0" x2="640" y2="0"><stop offset="0.5141" stop-color="#7a008b"/><stop offset="0.5152" stop-color="#7a008b"/><stop offset="0.5153" stop-color="#700080"/><stop offset="0.5156" stop-color="#000000"/><stop offset="0.5977" stop-color="#000000"/><stop offset="0.6006" stop-color="#700080"/><stop offset="0.6012" stop-color="#7a008b"/><stop offset="0.6071" stop-color="#870098"/><stop offset="0.6074" stop-color="#83009a"/><stop offset="0.6095" stop-color="#0300aa"/><stop offset="0.6116" stop-color="#0000dd"/><stop offset="0.6125" stop-color="#002fdd"/><stop offset="0.6135" stop-color="#0078dd"/><stop offset="0.6152" stop-color="#0098dd"/><stop offset="0.6164" stop-color="#00a4bb"/><stop offset="0.6284" stop-color="#00aaab"/><stop offset="0.6562" stop-color="#00aa93"/><stop offset="0.6744" stop-color="#00aa88"/><stop offset="0.6805" stop-color="#00a97d"/><stop offset="0.6852" stop-color="#00a353"/><stop offset="0.6898" stop-color="#009a08"/><stop offset="0.6919" stop-color="#009a00"/><stop offset="0.7055" stop-color="#00a700"/><stop offset="0.7156" stop-color="#00ac00"/><stop offset="0.7266" stop-color="#00a200"/><stop offset="0.7312" stop-color="#009a00"/><stop offset="0.7406" stop-color="#00aa88"/><stop offset="0.7531" stop-color="#00aaab"/><stop offset="0.7612" stop-color="#0098dd"/><stop offset="0.7694" stop-color="#0078dd"/><stop offset="0.7742" stop-color="#002fdd"/><stop offset="0.7789" stop-color="#0000dd"/><stop offset="0.7898" stop-color="#0000c9"/><stop offset="0.8016" stop-color="#0300aa"/><stop offset="0.8086" stop-color="#4300a2"/><stop offset="0.8133" stop-color="#870098"/><stop offset="0.8230" stop-color="#860097"/><stop offset="0.8231" stop-color="#870098"/><stop offset="0.8231" stop-color="#0300aa"/><stop offset="0.8232" stop-color="#0000dd"/><stop offset="0.8233" stop-color="#0078dd"/><stop offset="0.8234" stop-color="#0098dd"/><stop offset="0.8234" stop-color="#009ecf"/><stop offset="0.8246" stop-color="#009ecf"/><stop offset="0.8246" stop-color="#0098dd"/><stop offset="0.8247" stop-color="#0078dd"/><stop offset="0.8248" stop-color="#0000dd"/><stop offset="0.8249" stop-color="#0300aa"/><stop offset="0.8250" stop-color="#870098"/><stop offset="0.8250" stop-color="#850096"/><stop offset="0.8252" stop-color="#870098"/><stop offset="0.8254" stop-color="#6d009c"/><stop offset="0.8289" stop-color="#6d009c"/><stop offset="0.8291" stop-color="#870098"/><stop offset="0.8293" stop-color="#830094"/><stop offset="0.8297" stop-color="#830094"/><stop offset="0.8297" stop-color="#870098"/><stop offset="0.8298" stop-color="#0300aa"/><stop offset="0.8299" stop-color="#0000dd"/><stop offset="0.8300" stop-color="#0078dd"/><stop offset="0.8301" stop-color="#0080dd"/><stop offset="0.8332" stop-color="#0080dd"/><stop offset="0.8332" stop-color="#0078dd"/><stop offset="0.8333" stop-color="#0000dd"/><stop offset="0.8335" stop-color="#0300aa"/><stop offset="0.8336" stop-color="#870098"/><stop offset="0.8336" stop-color="#830094"/><stop offset="0.8337" stop-color="#870098"/><stop offset="0.8339" stop-color="#0300aa"/><stop offset="0.8340" stop-color="#0000bd"/><stop offset="0.8383" stop-color="#0000bd"/><stop offset="0.8384" stop-color="#0300aa"/><stop offset="0.8386" stop-color="#870098"/><stop offset="0.8387" stop-color="#820093"/><stop offset="0.8387" stop-color="#870098"/><stop offset="0.8388" stop-color="#0300aa"/><stop offset="0.8389" stop-color="#0000dd"/><stop offset="0.8390" stop-color="#0078dd"/><stop offset="0.8391" stop-color="#0080dd"/><stop offset="0.8426" stop-color="#0080dd"/><stop offset="0.8426" stop-color="#0078dd"/><stop offset="0.8428" stop-color="#0000dd"/><stop offset="0.8430" stop-color="#0000bd"/><stop offset="0.8453" stop-color="#0000bd"/><stop offset="0.8454" stop-color="#0300aa"/><stop offset="0.8456" stop-color="#870098"/><stop offset="0.8457" stop-color="#810092"/><stop offset="0.8458" stop-color="#870098"/><stop offset="0.8459" stop-color="#0300aa"/><stop offset="0.8460" stop-color="#0000dd"/><stop offset="0.8461" stop-color="#0078dd"/><stop offset="0.8461" stop-color="#007add"/><stop offset="0.8488" stop-color="#007add"/><stop offset="0.8488" stop-color="#0078dd"/><stop offset="0.8489" stop-color="#0000dd"/><stop offset="0.8491" stop-color="#0300aa"/><stop offset="0.8492" stop-color="#870098"/><stop offset="0.8492" stop-color="#7f0090"/><stop offset="0.8493" stop-color="#870098"/><stop offset="0.8495" stop-color="#0300aa"/><stop offset="0.8496" stop-color="#0000bd"/><stop offset="0.8523" stop-color="#0000bd"/><stop offset="0.8524" stop-color="#0300aa"/><stop offset="0.8526" stop-color="#870098"/><stop offset="0.8527" stop-color="#7e008f"/><stop offset="0.8530" stop-color="#870098"/><stop offset="0.8531" stop-color="#6d009c"/><stop offset="0.8551" stop-color="#6d009c"/><stop offset="0.8554" stop-color="#0300aa"/><stop offset="0.8555" stop-color="#0000b1"/><stop offset="0.8574" stop-color="#0000b1"/><stop offset="0.8575" stop-color="#0300aa"/><stop offset="0.8576" stop-color="#870098"/><stop offset="0.8578" stop-color="#700080"/><stop offset="0.8578" stop-color="#41004b"/><stop offset="0.8586" stop-color="#2f0035"/><stop offset="0.9297" stop-color="#000000"/></linearGradient><linearGradient id="s1_19" gradientUnits="userSpaceOnUse" x1="0" y1="0" x2="640" y2="0"><stop offset="0.5141" stop-color="#7a008b"/><stop offset="0.5152" stop-color="#7a008b"/><stop offset="0.5153" stop-color="#700080"/><stop offset="0.5156" stop-color="#000000"/><stop offset="0.5977" stop-color="#000000"/><stop offset="0.6012" stop-color="#41004b"/><stop offset="0.6065" stop-color="#700080"/><stop offset="0.6074" stop-color="#770088"/><stop offset="0.6112" stop-color="#870098"/><stop offset="0.6125" stop-color="#63009e"/><stop offset="0.6147" stop-color="#0300aa"/><stop offset="0.6164" stop-color="#0000c1"/><stop offset="0.6439" stop-color="#0000dd"/><stop offset="0.6484" stop-color="#0009dd"/><stop offset="0.6758" stop-color="#001cdd"/><stop offset="0.6852" stop-color="#0038dd"/><stop offset="0.6898" stop-color="#005ddd"/><stop offset="0.7122" stop-color="#0078dd"/><stop offset="0.7156" stop-color="#0078dd"/><stop offset="0.7175" stop-color="#0078dd"/><stop offset="0.7312" stop-color="#0054dd"/><stop offset="0.7471" stop-color="#0000dd"/><stop offset="0.7531" stop-color="#0000cd"/><stop offset="0.7654" stop-color="#0300aa"/><stop offset="0.7789" stop-color="#6d009c"/><stop offset="0.7881" stop-color="#870098"/><stop offset="0.8016" stop-color="#820093"/><stop offset="0.8133" stop-color="#7a008b"/><stop offset="0.8230" stop-color="#79008a"/><stop offset="0.8232" stop-color="#870098"/><stop offset="0.8234" stop-color="#0300aa"/><stop offset="0.8234" stop-color="#0000b9"/><stop offset="0.8238" stop-color="#0000b9"/><stop offset="0.8246" stop-color="#0000b5"/><stop offset="0.8247" stop-color="#0300aa"/><stop offset="0.8248" stop-color="#870098"/><stop offset="0.8250" stop-color="#770088"/><stop offset="0.8254" stop-color="#7a008b"/><stop offset="0.8262" stop-color="#7b008c"/><stop offset="0.8289" stop-color="#7b008c"/><stop offset="0.8293" stop-color="#770088"/><stop offset="0.8297" stop-color="#770088"/><stop offset="0.8299" stop-color="#870098"/><stop offset="0.8301" stop-color="#1800a7"/><stop offset="0.8332" stop-color="#1800a7"/><stop offset="0.8334" stop-color="#870098"/><stop offset="0.8336" stop-color="#700080"/><stop offset="0.8340" stop-color="#850096"/><stop offset="0.8355" stop-color="#860097"/><stop offset="0.8383" stop-color="#860097"/><stop offset="0.8387" stop-color="#700080"/><stop offset="0.8389" stop-color="#870098"/><stop offset="0.8391" stop-color="#1800a7"/><stop offset="0.8426" stop-color="#2300a6"/><stop offset="0.8429" stop-color="#870098"/><stop offset="0.8430" stop-color="#850096"/><stop offset="0.8453" stop-color="#850096"/><stop offset="0.8457" stop-color="#700080"/><stop offset="0.8457" stop-color="#670075"/><stop offset="0.8457" stop-color="#700080"/><stop offset="0.8459" stop-color="#870098"/><stop offset="0.8461" stop-color="#2d00a4"/><stop offset="0.8488" stop-color="#2d00a4"/><stop offset="0.8490" stop-color="#870098"/><stop offset="0.8492" stop-color="#700080"/><stop offset="0.8492" stop-color="#670075"/><stop offset="0.8492" stop-color="#700080"/><stop offset="0.8496" stop-color="#850096"/><stop offset="0.8523" stop-color="#850096"/><stop offset="0.8527" stop-color="#700080"/><stop offset="0.8527" stop-color="#670075"/><stop offset="0.8528" stop-color="#700080"/><stop offset="0.8531" stop-color="#7b008c"/><stop offset="0.8551" stop-color="#7b008c"/><stop offset="0.8555" stop-color="#830094"/><stop offset="0.8574" stop-color="#830094"/><stop offset="0.8577" stop-color="#700080"/><stop offset="0.8578" stop-color="#380040"/><stop offset="0.8586" stop-color="#25002b"/><stop offset="0.9297" stop-color="#000000"/></linearGradient><linearGradient id="g1_19" gradientUnits="userSpaceOnUse" x1="0" y1="0" x2="640" y2="0"><stop offset="0.5141" stop-color="#7a008b"/><stop offset="0.5152" stop-color="#7a008b"/><stop offset="0.5153" stop-color="#700080"/><stop offset="0.5156" stop-color="#000000"/><stop offset="0.5953" stop-color="#000000"/><stop offset="0.6062" stop-color="#000000"/><stop offset="0.6344" stop-color="#41004b"/><stop offset="0.6430" stop-color="#380040"/><stop offset="0.6434" stop-color="#4b0055"/><stop offset="0.6484" stop-color="#4b0055"/><stop offset="0.7203" stop-color="#380040"/><stop offset="0.7207" stop-color="#25002b"/><stop offset="0.7223" stop-color="#25002b"/><stop offset="0.7227" stop-color="#380040"/><stop offset="0.7500" stop-color="#25002b"/><stop offset="0.7816" stop-color="#2f0035"/><stop offset="0.7820" stop-color="#25002b"/><stop offset="0.7840" stop-color="#2f0035"/><stop offset="0.8238" stop-color="#25002b"/><stop offset="0.8242" stop-color="#1c0020"/><stop offset="0.8258" stop-color="#1c0020"/><stop offset="0.8262" stop-color="#25002b"/><stop offset="0.8441" stop-color="#25002b"/><stop offset="0.8445" stop-color="#1c0020"/><stop offset="0.8465" stop-color="#25002b"/><stop offset="0.8582" stop-color="#25002b"/><stop offset="0.9297" stop-color="#000000"/></linearGradient><linearGradient id="g1_20" gradientUnits="userSpaceOnUse" x1="0" y1="0" x2="640" y2="0"><stop offset="0.5141" stop-color="#7a008b"/><stop offset="0.5152" stop-color="#7a008b"/><stop offset="0.5153" stop-color="#700080"/><stop offset="0.5156" stop-color="#000000"/><stop offset="0.5969" stop-color="#000000"/><stop offset="0.6094" stop-color="#130015"/><stop offset="0.7969" stop-color="#130015"/><stop offset="0.9297" stop-color="#000000"/></linearGradient><linearGradient id="s1_21" gradientUnits="userSpaceOnUse" x1="0" y1="0" x2="640" y2="0"><stop offset="0.5141" stop-color="#7a008b"/><stop offset="0.5152" stop-color="#7a008b"/><stop offset="0.5153" stop-color="#700080"/><stop offset="0.5156" stop-color="#380040"/><stop offset="0.5164" stop-color="#000000"/><stop offset="0.5961" stop-color="#000000"/><stop offset="0.5992" stop-color="#700080"/><stop offset="0.6012" stop-color="#810092"/><stop offset="0.6021" stop-color="#870098"/><stop offset="0.6044" stop-color="#0300aa"/><stop offset="0.6068" stop-color="#0000dd"/><stop offset="0.6082" stop-color="#004bdd"/><stop offset="0.6102" stop-color="#0078dd"/><stop offset="0.6141" stop-color="#0090dd"/><stop offset="0.6167" stop-color="#0098dd"/><stop offset="0.6250" stop-color="#00a8af"/><stop offset="0.6278" stop-color="#00aaab"/><stop offset="0.6312" stop-color="#00aaa5"/><stop offset="0.7031" stop-color="#00aaa8"/><stop offset="0.7156" stop-color="#00aaab"/><stop offset="0.7159" stop-color="#00aaab"/><stop offset="0.7250" stop-color="#00a3bf"/><stop offset="0.7297" stop-color="#009bd7"/><stop offset="0.7326" stop-color="#0098dd"/><stop offset="0.7595" stop-color="#0078dd"/><stop offset="0.7727" stop-color="#0038dd"/><stop offset="0.7766" stop-color="#0009dd"/><stop offset="0.7787" stop-color="#0000dd"/><stop offset="0.7982" stop-color="#0300aa"/><stop offset="0.8078" stop-color="#4300a2"/><stop offset="0.8125" stop-color="#83009a"/><stop offset="0.8157" stop-color="#870098"/><stop offset="0.8219" stop-color="#850096"/><stop offset="0.8230" stop-color="#830094"/><stop offset="0.8231" stop-color="#870098"/><stop offset="0.8234" stop-color="#0300aa"/><stop offset="0.8238" stop-color="#0300aa"/><stop offset="0.8246" stop-color="#0d00a8"/><stop offset="0.8250" stop-color="#870098"/><stop offset="0.8250" stop-color="#850096"/><stop offset="0.8289" stop-color="#860097"/><stop offset="0.8293" stop-color="#830094"/><stop offset="0.8294" stop-color="#870098"/><stop offset="0.8297" stop-color="#0d00a8"/><stop offset="0.8328" stop-color="#0d00a8"/><stop offset="0.8331" stop-color="#870098"/><stop offset="0.8332" stop-color="#820093"/><stop offset="0.8336" stop-color="#870098"/><stop offset="0.8348" stop-color="#870098"/><stop offset="0.8348" stop-color="#870098"/><stop offset="0.8352" stop-color="#4d00a0"/><stop offset="0.8375" stop-color="#4d00a0"/><stop offset="0.8377" stop-color="#870098"/><stop offset="0.8379" stop-color="#820093"/><stop offset="0.8387" stop-color="#820093"/><stop offset="0.8388" stop-color="#870098"/><stop offset="0.8390" stop-color="#0300aa"/><stop offset="0.8391" stop-color="#0000ad"/><stop offset="0.8418" stop-color="#0000ad"/><stop offset="0.8418" stop-color="#0300aa"/><stop offset="0.8422" stop-color="#870098"/><stop offset="0.8422" stop-color="#870098"/><stop offset="0.8480" stop-color="#870098"/><stop offset="0.8481" stop-color="#870098"/><stop offset="0.8484" stop-color="#2300a6"/><stop offset="0.8500" stop-color="#2300a6"/><stop offset="0.8503" stop-color="#870098"/><stop offset="0.8504" stop-color="#7f0090"/><stop offset="0.8508" stop-color="#770088"/><stop offset="0.8523" stop-color="#770088"/><stop offset="0.8527" stop-color="#7f0090"/><stop offset="0.8531" stop-color="#830094"/><stop offset="0.8559" stop-color="#830094"/><stop offset="0.8562" stop-color="#7e008f"/><stop offset="0.8578" stop-color="#770088"/><stop offset="0.8586" stop-color="#770088"/><stop offset="0.8607" stop-color="#700080"/><stop offset="0.8938" stop-color="#1c0020"/><stop offset="0.9297" stop-color="#000000"/></linearGradient><linearGradient id="g1_21" gradientUnits="userSpaceOnUse" x1="0" y1="0" x2="640" y2="0"><stop offset="0.5141" stop-color="#7a008b"/><stop offset="0.5152" stop-color="#7a008b"/><stop offset="0.5156" stop-color="#700080"/><stop offset="0.5156" stop-color="#700080"/><stop offset="0.5164" stop-color="#09000b"/><stop offset="0.5961" stop-color="#09000b"/><stop offset="0.5977" stop-color="#700080"/><stop offset="0.5994" stop-color="#870098"/><stop offset="0.6011" stop-color="#0300aa"/><stop offset="0.6012" stop-color="#0000ad"/><stop offset="0.6023" stop-color="#0000dd"/><stop offset="0.6035" stop-color="#0078dd"/><stop offset="0.6046" stop-color="#0098dd"/><stop offset="0.6058" stop-color="#00aaab"/><stop offset="0.6070" stop-color="#00aa88"/><stop offset="0.6082" stop-color="#009a00"/><stop offset="0.6082" stop-color="#009a00"/><stop offset="0.6108" stop-color="#00bc00"/><stop offset="0.6135" stop-color="#00dc00"/><stop offset="0.6141" stop-color="#00e400"/><stop offset="0.6178" stop-color="#00ff00"/><stop offset="0.6188" stop-color="#2cff00"/><stop offset="0.6219" stop-color="#bcff00"/><stop offset="0.6250" stop-color="#dcf400"/><stop offset="0.6312" stop-color="#efed00"/><stop offset="0.6719" stop-color="#efed00"/><stop offset="0.7156" stop-color="#e4f100"/><stop offset="0.7250" stop-color="#bcff00"/><stop offset="0.7297" stop-color="#00ff00"/><stop offset="0.7426" stop-color="#00dc00"/><stop offset="0.7555" stop-color="#00bc00"/><stop offset="0.7672" stop-color="#009c00"/><stop offset="0.7690" stop-color="#009a00"/><stop offset="0.7727" stop-color="#009d1d"/><stop offset="0.7766" stop-color="#00aa88"/><stop offset="0.7870" stop-color="#00aaab"/><stop offset="0.7891" stop-color="#00a7b3"/><stop offset="0.7953" stop-color="#0098dd"/><stop offset="0.8057" stop-color="#0078dd"/><stop offset="0.8078" stop-color="#005ddd"/><stop offset="0.8125" stop-color="#0000dd"/><stop offset="0.8219" stop-color="#0000bd"/><stop offset="0.8230" stop-color="#0000bd"/><stop offset="0.8231" stop-color="#0000dd"/><stop offset="0.8233" stop-color="#0078dd"/><stop offset="0.8234" stop-color="#0092dd"/><stop offset="0.8246" stop-color="#0092dd"/><stop offset="0.8248" stop-color="#0078dd"/><stop offset="0.8249" stop-color="#0000dd"/><stop offset="0.8250" stop-color="#0000c9"/><stop offset="0.8289" stop-color="#0000c9"/><stop offset="0.8293" stop-color="#0000b9"/><stop offset="0.8294" stop-color="#0000dd"/><stop offset="0.8296" stop-color="#0078dd"/><stop offset="0.8297" stop-color="#008add"/><stop offset="0.8328" stop-color="#008add"/><stop offset="0.8329" stop-color="#0078dd"/><stop offset="0.8331" stop-color="#0000dd"/><stop offset="0.8332" stop-color="#0000b5"/><stop offset="0.8336" stop-color="#0000d1"/><stop offset="0.8348" stop-color="#0000d1"/><stop offset="0.8349" stop-color="#0000dd"/><stop offset="0.8352" stop-color="#0054dd"/><stop offset="0.8375" stop-color="#0054dd"/><stop offset="0.8377" stop-color="#0000dd"/><stop offset="0.8379" stop-color="#0000b1"/><stop offset="0.8387" stop-color="#0000b1"/><stop offset="0.8388" stop-color="#0000dd"/><stop offset="0.8389" stop-color="#0078dd"/><stop offset="0.8391" stop-color="#0098dd"/><stop offset="0.8418" stop-color="#0098dd"/><stop offset="0.8420" stop-color="#0078dd"/><stop offset="0.8422" stop-color="#0000dd"/><stop offset="0.8422" stop-color="#0000d1"/><stop offset="0.8480" stop-color="#0000d1"/><stop offset="0.8481" stop-color="#0000dd"/><stop offset="0.8483" stop-color="#0078dd"/><stop offset="0.8484" stop-color="#0085dd"/><stop offset="0.8500" stop-color="#0085dd"/><stop offset="0.8501" stop-color="#0078dd"/><stop offset="0.8502" stop-color="#0000dd"/><stop offset="0.8504" stop-color="#0300aa"/><stop offset="0.8504" stop-color="#0d00a8"/><stop offset="0.8508" stop-color="#870098"/><stop offset="0.8523" stop-color="#870098"/><stop offset="0.8527" stop-color="#1800a7"/><stop offset="0.8528" stop-color="#0300aa"/><stop offset="0.8531" stop-color="#0000bd"/><stop offset="0.8559" stop-color="#0000bd"/><stop offset="0.8561" stop-color="#0300aa"/><stop offset="0.8562" stop-color="#2300a6"/><stop offset="0.8578" stop-color="#870098"/><stop offset="0.8828" stop-color="#700080"/><stop offset="0.8938" stop-color="#41004b"/><stop offset="0.9297" stop-color="#000000"/></linearGradient><clipPath id="c0"><rect x="0" y="28" width="640" height="368"/></clipPath></defs><rect width="640" height="440" fill="#fff"/><g shape-rendering="crispEdges"><rect x="49.00" y="28.00" width="266.00" height="17.33" fill="url(#g0_0)"/><rect x="49.00" y="44.73" width="266.00" height="17.33" fill="url(#g0_1)"/><rect x="49.00" y="61.45" width="266.00" height="17.33" fill="url(#g0_2)"/><rect x="49.00" y="78.18" width="266.00" height="17.33" fill="url(#g0_3)"/><rect x="49.00" y="94.91" width="266.00" height="17.33" fill="url(#g0_4)"/><rect x="49.00" y="111.64" width="266.00" height="17.33" fill="url(#g0_5)"/><rect x="49.00" y="128.36" width="266.00" height="17.33" fill="url(#g0_6)"/><rect x="49.00" y="145.09" width="266.00" height="17.33" fill="url(#g0_7)"/><rect x="49.00" y="161.82" width="266.00" height="17.33" fill="url(#g0_8)"/><rect x="49.00" y="178.55" width="266.00" height="17.33" fill="url(#g0_9)"/><rect x="49.00" y="195.27" width="266.00" height="17.33" fill="url(#g0_10)"/><rect x="49.00" y="212.00" width="266.00" height="17.33" fill="url(#g0_11)"/><rect x="49.00" y="228.73" width="266.00" height="17.33" fill="url(#g0_12)"/><rect x="49.00" y="245.45" width="266.00" height="17.33" fill="url(#g0_13)"/><rect x="49.00" y="262.18" width="266.00" height="17.33" fill="url(#g0_14)"/><rect x="49.00" y="278.91" width="266.00" height="17.33" fill="url(#g0_15)"/><rect x="49.00" y="295.64" width="266.00" height="17.33" fill="url(#g0_16)"/><rect x="49.00" y="312.36" width="266.00" height="17.33" fill="url(#g0_17)"/><rect x="49.00" y="329.09" width="266.00" height="17.33" fill="url(#g0_18)"/><rect x="49.00" y="345.82" width="266.00" height="17.33" fill="url(#g0_19)"/><rect x="49.00" y="362.55" width="266.00" height="17.33" fill="url(#g0_20)"/><rect x="49.00" y="379.27" width="266.00" height="16.73" fill="url(#g0_21)"/><rect x="329.00" y="28.00" width="266.00" height="17.33" fill="url(#g1_0)"/><rect x="329.00" y="44.73" width="266.00" height="17.33" fill="url(#g1_1)"/><rect x="329.00" y="61.45" width="266.00" height="17.33" fill="url(#g1_2)"/><rect x="329.00" y="78.18" width="266.00" height="17.33" fill="url(#g1_3)"/><rect x="329.00" y="94.91" width="266.00" height="17.33" fill="url(#g1_4)"/><rect x="329.00" y="111.64" width="266.00" height="17.33" fill="url(#g1_5)"/><rect x="329.00" y="128.36" width="266.00" height="17.33" fill="url(#g1_6)"/><rect x="329.00" y="145.09" width="266.00" height="17.33" fill="url(#g1_7)"/><rect x="329.00" y="161.82" width="266.00" height="17.33" fill="url(#g1_8)"/><rect x="329.00" y="178.55" width="266.00" height="17.33" fill="url(#g1_9)"/><rect x="329.00" y="195.27" width="266.00" height="17.33" fill="url(#g1_10)"/><rect x="329.00" y="212.00" width="266.00" height="17.33" fill="url(#g1_11)"/><rect x="329.00" y="228.73" width="266.00" height="17.33" fill="url(#g1_12)"/><rect x="329.00" y="245.45" width="266.00" height="17.33" fill="url(#g1_13)"/><rect x="329.00" y="262.18" width="266.00" height="17.33" fill="url(#g1_14)"/><rect x="329.00" y="278.91" width="266.00" height="17.33" fill="url(#g1_15)"/><rect x="329.00" y="295.64" width="266.00" height="17.33" fill="url(#g1_16)"/><rect x="329.00" y="312.36" width="266.00" height="17.33" fill="url(#g1_17)"/><rect x="329.00" y="329.09" width="266.00" height="17.33" fill="url(#g1_18)"/><rect x="329.00" y="345.82" width="266.00" height="17.33" fill="url(#g1_19)"/><rect x="329.00" y="362.55" width="266.00" height="17.33" fill="url(#g1_20)"/><rect x="329.00" y="379.27" width="266.00" height="16.73" fill="url(#g1_21)"/><rect x="49.00" y="44.23" width="266.00" height="1" fill="url(#s0_1)"/><rect x="49.00" y="77.68" width="266.00" height="1" fill="url(#s0_3)"/><rect x="49.00" y="345.32" width="266.00" height="1" fill="url(#s0_19)"/><rect x="49.00" y="362.05" width="266.00" height="1" fill="url(#s0_20)"/><rect x="329.00" y="60.95" width="266.00" height="1" fill="url(#s1_2)"/><rect x="329.00" y="77.68" width="266.00" height="1" fill="url(#s1_3)"/><rect x="329.00" y="345.32" width="266.00" height="1" fill="url(#s1_19)"/><rect x="329.00" y="378.77" width="266.00" height="1" fill="url(#s1_21)"/></g><text x="32" y="41.5" font-size="13.89" text-anchor="end" letter-spacing="-0.3" fill="#000">On</text><text x="612.5" y="41.5" font-size="13.89" letter-spacing="-0.3" fill="#000">On</text><text x="32" y="58.2" font-size="13.89" text-anchor="end" letter-spacing="-0.3" fill="#000">Y</text><text x="612.5" y="58.2" font-size="13.89" letter-spacing="-0.3" fill="#000">Y</text><text x="32" y="74.9" font-size="13.89" text-anchor="end" letter-spacing="-0.3" fill="#000">Off</text><text x="612.5" y="74.9" font-size="13.89" letter-spacing="-0.3" fill="#000">Off</text><text x="32" y="91.6" font-size="13.89" text-anchor="end" letter-spacing="-0.3" fill="#000">P</text><text x="612.5" y="91.6" font-size="13.89" letter-spacing="-0.3" fill="#000">P</text><text x="32" y="108.4" font-size="13.89" text-anchor="end" letter-spacing="-0.3" fill="#000">O</text><text x="612.5" y="108.4" font-size="13.89" letter-spacing="-0.3" fill="#000">O</text><text x="32" y="125.1" font-size="13.89" text-anchor="end" letter-spacing="-0.3" fill="#000">N</text><text x="612.5" y="125.1" font-size="13.89" letter-spacing="-0.3" fill="#000">N</text><text x="32" y="141.8" font-size="13.89" text-anchor="end" letter-spacing="-0.3" fill="#000">M</text><text x="612.5" y="141.8" font-size="13.89" letter-spacing="-0.3" fill="#000">M</text><text x="32" y="158.6" font-size="13.89" text-anchor="end" letter-spacing="-0.3" fill="#000">L</text><text x="612.5" y="158.6" font-size="13.89" letter-spacing="-0.3" fill="#000">L</text><text x="32" y="175.3" font-size="13.89" text-anchor="end" letter-spacing="-0.3" fill="#000">K</text><text x="612.5" y="175.3" font-size="13.89" letter-spacing="-0.3" fill="#000">K</text><text x="32" y="192.0" font-size="13.89" text-anchor="end" letter-spacing="-0.3" fill="#000">J</text><text x="612.5" y="192.0" font-size="13.89" letter-spacing="-0.3" fill="#000">J</text><text x="32" y="208.7" font-size="13.89" text-anchor="end" letter-spacing="-0.3" fill="#000">I</text><text x="612.5" y="208.7" font-size="13.89" letter-spacing="-0.3" fill="#000">I</text><text x="32" y="225.5" font-size="13.89" text-anchor="end" letter-spacing="-0.3" fill="#000">H</text><text x="612.5" y="225.5" font-size="13.89" letter-spacing="-0.3" fill="#000">H</text><text x="32" y="242.2" font-size="13.89" text-anchor="end" letter-spacing="-0.3" fill="#000">G</text><text x="612.5" y="242.2" font-size="13.89" letter-spacing="-0.3" fill="#000">G</text><text x="32" y="258.9" font-size="13.89" text-anchor="end" letter-spacing="-0.3" fill="#000">F</text><text x="612.5" y="258.9" font-size="13.89" letter-spacing="-0.3" fill="#000">F</text><text x="32" y="275.6" font-size="13.89" text-anchor="end" letter-spacing="-0.3" fill="#000">E</text><text x="612.5" y="275.6" font-size="13.89" letter-spacing="-0.3" fill="#000">E</text><text x="32" y="292.4" font-size="13.89" text-anchor="end" letter-spacing="-0.3" fill="#000">D</text><text x="612.5" y="292.4" font-size="13.89" letter-spacing="-0.3" fill="#000">D</text><text x="32" y="309.1" font-size="13.89" text-anchor="end" letter-spacing="-0.3" fill="#000">C</text><text x="612.5" y="309.1" font-size="13.89" letter-spacing="-0.3" fill="#000">C</text><text x="32" y="325.8" font-size="13.89" text-anchor="end" letter-spacing="-0.3" fill="#000">B</text><text x="612.5" y="325.8" font-size="13.89" letter-spacing="-0.3" fill="#000">B</text><text x="32" y="342.6" font-size="13.89" text-anchor="end" letter-spacing="-0.3" fill="#000">A</text><text x="612.5" y="342.6" font-size="13.89" letter-spacing="-0.3" fill="#000">A</text><text x="32" y="359.3" font-size="13.89" text-anchor="end" letter-spacing="-0.3" fill="#000">Off</text><text x="612.5" y="359.3" font-size="13.89" letter-spacing="-0.3" fill="#000">Off</text><text x="32" y="376.0" font-size="13.89" text-anchor="end" letter-spacing="-0.3" fill="#000">X</text><text x="612.5" y="376.0" font-size="13.89" letter-spacing="-0.3" fill="#000">X</text><text x="32" y="392.7" font-size="13.89" text-anchor="end" letter-spacing="-0.3" fill="#000">On</text><text x="612.5" y="392.7" font-size="13.89" letter-spacing="-0.3" fill="#000">On</text><g clip-path="url(#c0)"><g fill="none" stroke="#fff" stroke-width="2.8" stroke-linejoin="round"><path d="M49.1 -300.0L49.8 284.0L100.7 284.0L101.5 283.3L102.3 282.1L103.1 280.6L105.6 269.5L111.3 232.5L112.9 224.7L114.5 218.7L115.3 216.5L117.8 211.4L119.4 208.6L122.6 203.9L123.4 203.0L126.7 201.5L132.4 197.4L133.2 197.5L134.0 197.0L134.8 196.8L136.4 196.6L137.3 196.0L138.1 196.0L138.9 195.8L139.7 195.0L140.5 194.7L142.9 193.1L143.8 193.3L144.6 192.2L145.4 191.7L146.2 190.8L147.0 190.5L147.8 189.2L148.6 166.6L149.4 188.5L151.1 186.4L151.9 166.2L152.7 186.2L153.5 184.8L156.0 184.4L156.8 183.3L157.6 126.4L158.4 182.2L159.2 181.4L160.8 180.3L161.6 173.4L162.5 179.3L163.3 179.0L164.1 177.9L164.9 177.4L166.5 177.0L167.3 163.6L168.1 176.9L169.0 177.0L170.6 176.8L171.4 177.2L172.2 176.7L173.0 175.7L174.6 174.9L175.5 173.9L176.3 174.2L177.9 176.7L179.5 178.4L180.3 178.5L181.1 178.1L182.0 177.1L182.8 176.5L183.6 176.4L184.4 177.3L185.2 177.5L186.0 179.2L186.8 180.2L187.6 181.1L188.5 181.3L189.3 182.9L190.1 183.2L191.7 184.7L192.5 186.4L193.3 187.0L195.0 189.2L201.5 203.0L206.3 211.1L207.2 213.2L208.8 216.5L213.7 225.3L217.7 234.1L218.5 234.6L221.0 237.1L221.8 238.1L222.6 239.5L229.1 246.7L230.7 248.8L235.6 254.0L238.8 256.9L242.1 261.0L246.2 265.4L247.0 215.5L247.8 247.4L248.6 265.2L249.4 275.2L250.2 269.0L251.0 242.7L251.8 227.4L252.7 227.7L253.5 257.6L254.3 269.9L255.1 256.5L256.7 221.3L257.5 209.4L259.2 259.4L260.0 252.0L260.8 241.6L261.6 236.3L262.4 244.0L264.0 270.8L264.9 275.6L265.7 274.9L266.5 266.1L267.3 266.5L268.1 270.7L268.9 279.0L269.7 277.9L272.2 279.0L273.0 279.1L305.5 283.1L315.2 284.0L328.2 284.0"/><path d="M49.1 -300.0L49.8 284.0L100.7 284.0L101.5 283.3L102.3 282.1L103.1 280.6L105.6 269.5L110.4 236.3L112.9 223.0L115.3 214.8L118.6 207.7L119.4 206.4L120.2 205.7L121.0 204.7L121.8 204.2L122.6 202.9L124.3 201.6L125.1 201.5L126.7 200.4L128.3 198.6L129.9 197.4L132.4 197.4L134.0 196.3L136.4 195.6L138.1 194.8L138.9 194.8L141.3 192.8L142.1 192.4L142.9 191.3L143.8 191.2L144.6 190.6L147.0 190.3L147.8 189.6L148.6 148.3L149.4 188.6L151.1 186.2L151.9 130.7L152.7 184.8L154.3 183.5L155.1 183.5L156.0 182.8L156.8 181.4L157.6 153.8L158.4 181.0L159.2 180.3L160.8 180.1L161.6 167.2L162.5 178.7L163.3 178.0L164.1 176.4L164.9 175.9L165.7 175.8L166.5 176.0L167.3 152.8L168.1 177.1L169.0 177.4L170.6 176.9L171.4 176.2L172.2 175.9L173.0 175.1L173.8 175.2L175.5 174.4L176.3 174.5L177.1 175.1L178.7 175.4L179.5 176.1L180.3 176.0L181.1 176.2L182.8 175.0L183.6 175.3L184.4 176.1L185.2 176.2L186.0 177.0L187.6 179.4L189.3 181.0L190.9 183.5L191.7 183.8L194.1 187.3L195.0 187.9L197.4 194.3L199.8 199.4L200.6 200.6L203.1 206.2L203.9 207.3L208.8 217.0L213.7 224.5L216.1 229.7L217.7 232.7L220.2 235.1L224.2 240.7L229.1 246.8L235.6 253.7L240.5 258.3L246.2 265.0L247.0 211.8L247.8 234.9L248.6 269.9L250.2 272.7L251.8 234.4L252.7 240.1L254.3 262.9L255.1 253.6L255.9 235.1L256.7 230.5L257.5 212.5L258.4 242.5L259.2 264.8L260.0 252.0L260.8 249.6L261.6 221.2L262.4 234.8L264.0 269.7L264.9 276.0L265.7 273.7L266.5 272.2L267.3 264.3L268.1 275.0L268.9 277.9L269.7 277.9L272.2 278.9L305.5 283.1L315.2 284.0L328.2 284.0"/><path d="M49.1 -300.0L49.8 284.0L100.7 284.0L101.5 283.3L102.3 282.1L103.1 280.6L105.6 269.4L107.2 258.9L111.3 229.4L112.9 221.3L115.3 213.2L117.8 207.3L118.6 205.7L122.6 201.3L125.1 199.7L128.3 197.1L132.4 194.9L133.2 194.8L134.8 194.0L138.1 192.0L138.9 192.2L139.7 191.9L140.5 191.2L142.1 191.1L143.8 189.7L144.6 189.6L147.0 187.5L147.8 187.1L148.6 151.2L149.4 185.2L151.1 184.0L151.9 124.4L152.7 183.9L154.3 182.8L155.1 182.7L156.8 181.3L157.6 120.8L158.4 180.2L160.8 177.5L161.6 175.4L162.5 176.5L163.3 175.7L164.9 174.7L165.7 173.9L166.5 174.5L167.3 172.8L168.1 174.5L169.0 174.5L169.8 174.3L171.4 173.3L173.8 173.2L174.6 172.3L175.5 171.8L176.3 171.8L177.9 172.9L178.7 175.1L180.3 176.1L181.1 175.5L182.0 175.2L182.8 174.2L183.6 174.8L185.2 177.0L186.0 177.6L186.8 177.9L187.6 178.8L188.5 179.3L189.3 180.3L190.1 180.8L190.9 182.1L191.7 182.7L192.5 183.8L193.3 184.2L195.0 186.4L200.6 200.1L204.7 207.3L208.0 214.1L211.2 219.6L212.8 222.7L213.7 224.7L216.9 230.4L221.0 235.5L221.8 236.9L225.0 241.2L229.9 247.2L234.8 252.0L237.2 254.9L240.5 258.2L246.2 264.9L247.0 208.1L247.8 231.0L248.6 265.0L249.4 273.2L250.2 271.1L251.0 242.2L251.8 231.9L252.7 226.2L253.5 252.9L254.3 264.9L255.1 258.9L255.9 235.3L256.7 231.4L257.5 224.5L259.2 261.6L260.0 253.9L260.8 249.4L261.6 231.2L262.4 229.0L264.0 270.1L264.9 276.0L265.7 274.9L266.5 265.4L267.3 262.4L268.1 272.8L268.9 277.4L269.7 277.9L272.2 279.0L304.7 283.0L314.4 283.9L328.2 284.0"/><path d="M49.1 -300.0L49.8 284.0L100.7 284.0L101.5 283.3L103.1 280.6L104.8 273.6L107.2 258.6L111.3 228.3L112.9 220.1L115.3 210.8L116.1 208.3L118.6 203.1L119.4 203.1L121.0 202.1L121.8 201.0L122.6 200.5L123.4 199.1L124.3 198.3L125.1 197.7L125.9 197.5L126.7 196.5L127.5 196.1L128.3 196.3L129.1 195.9L129.9 195.2L130.8 195.5L133.2 193.4L134.0 193.4L134.8 192.8L135.6 192.8L136.4 192.3L137.3 192.1L141.3 189.6L142.9 188.3L143.8 187.3L144.6 187.4L145.4 186.5L147.8 185.4L148.6 160.7L149.4 184.2L150.3 183.8L151.1 183.0L151.9 154.9L152.7 182.2L153.5 181.7L154.3 180.9L155.1 180.8L156.0 179.7L156.8 179.2L157.6 139.8L158.4 177.9L159.2 176.9L160.8 176.3L161.6 169.8L162.5 175.7L163.3 174.8L164.1 174.7L165.7 173.2L166.5 173.3L167.3 158.9L168.1 172.7L169.8 172.9L171.4 171.8L172.2 171.8L173.0 170.3L173.8 170.2L176.3 169.4L177.9 171.5L178.7 171.6L179.5 172.3L180.3 172.8L181.1 172.5L182.0 171.6L182.8 171.3L183.6 172.5L184.4 172.9L188.5 177.7L189.3 178.9L190.9 180.3L191.7 180.7L192.5 182.2L194.1 184.0L195.0 185.5L199.0 195.1L202.3 201.6L204.7 205.8L205.5 207.8L206.3 209.2L208.0 213.2L212.0 220.4L214.5 225.7L216.9 230.2L222.6 236.8L225.0 240.3L229.9 246.6L240.5 257.4L246.2 264.6L247.0 204.4L248.6 266.0L249.4 272.9L250.2 269.5L251.0 246.2L251.8 229.4L252.7 235.8L253.5 245.4L254.3 269.9L255.1 245.7L255.9 234.1L256.7 231.9L257.5 221.6L258.4 247.1L259.2 257.3L260.0 263.5L260.8 242.2L261.6 228.6L262.4 243.4L263.2 243.9L264.0 274.5L264.9 273.6L265.7 273.1L266.5 270.7L267.3 263.7L268.1 273.3L268.9 277.5L272.2 278.9L304.7 283.0L314.4 283.9L328.2 284.0"/><path d="M49.1 -300.0L49.8 284.0L100.7 284.0L101.5 283.3L102.3 282.1L103.1 280.6L104.8 273.5L105.6 269.0L107.2 258.1L111.3 227.5L112.9 218.9L115.3 210.7L117.8 204.5L119.4 201.2L120.2 200.0L121.8 198.3L122.6 197.2L123.4 196.6L124.3 196.5L125.9 195.3L126.7 195.4L128.3 194.2L129.9 194.4L130.8 193.8L133.2 192.7L134.0 191.9L134.8 191.5L135.6 191.8L136.4 191.6L138.1 190.3L138.9 190.8L140.5 189.2L142.1 188.8L142.9 187.5L144.6 187.0L145.4 186.3L147.8 185.6L148.6 149.8L149.4 185.3L151.1 184.6L151.9 167.3L152.7 183.0L155.1 179.3L156.0 178.6L156.8 178.5L157.6 124.9L158.4 177.3L160.8 175.3L161.6 165.8L162.5 174.6L164.1 174.2L164.9 173.6L166.5 173.7L167.3 152.6L168.1 174.4L169.8 173.7L171.4 171.9L172.2 171.5L173.0 171.4L173.8 170.8L174.6 169.6L175.5 168.8L177.1 168.9L178.7 171.2L179.5 172.1L180.3 171.9L181.1 170.7L182.0 170.1L182.8 169.9L183.6 170.3L184.4 171.3L185.2 173.5L186.0 174.5L187.6 175.9L189.3 178.3L190.1 178.6L190.9 180.2L191.7 181.3L192.5 181.9L195.0 185.0L196.6 189.8L197.4 191.3L198.2 193.5L199.8 196.8L202.3 200.9L203.1 203.0L204.7 205.8L207.2 210.8L211.2 217.7L213.7 223.5L220.2 233.9L221.8 235.4L222.6 236.9L225.0 240.2L229.1 244.8L229.9 246.2L235.6 252.4L240.5 257.3L246.2 264.2L247.0 200.8L247.8 238.3L248.6 262.3L249.4 273.7L250.2 271.0L251.8 226.9L252.7 247.8L253.5 248.0L254.3 268.7L255.1 253.0L255.9 243.7L256.7 227.7L257.5 218.7L258.4 238.1L259.2 267.3L260.8 237.2L261.6 226.1L262.4 244.6L263.2 248.5L264.0 270.2L264.9 274.7L266.5 270.2L267.3 260.6L268.1 272.2L268.9 277.9L269.7 277.7L272.2 278.8L273.0 278.9L305.5 283.1L315.2 284.0L328.2 284.0"/><path d="M49.1 -300.0L49.8 284.0L100.7 284.0L101.5 283.3L103.1 280.6L105.6 268.9L107.2 257.4L111.3 221.6L112.9 212.1L115.3 202.4L117.8 195.9L118.6 194.5L120.2 192.9L121.8 192.4L123.4 190.8L125.1 189.9L125.9 189.2L126.7 188.9L127.5 189.0L128.3 187.9L129.1 187.6L129.9 186.6L131.6 185.8L132.4 186.2L133.2 185.9L134.8 186.6L135.6 186.7L137.3 186.1L138.1 185.4L138.9 185.2L140.5 185.3L141.3 185.1L145.4 180.9L146.2 181.2L147.8 180.9L148.6 175.3L149.4 180.4L151.1 179.1L151.9 172.7L152.7 176.1L153.5 175.0L154.3 174.5L156.8 173.4L157.6 141.9L158.4 173.3L160.8 171.4L161.6 161.9L162.5 170.1L163.3 168.8L164.1 168.6L166.5 166.1L167.3 163.5L168.1 165.7L169.0 166.1L169.8 166.0L170.6 166.3L171.4 165.4L172.2 165.3L173.0 164.4L173.8 164.2L174.6 163.1L176.3 162.3L178.7 164.4L179.5 165.6L180.3 165.9L182.8 164.4L183.6 165.1L186.0 168.7L186.8 170.2L190.1 173.9L190.9 174.5L191.7 176.0L193.3 178.3L195.0 181.5L198.2 189.8L201.5 196.9L203.1 199.3L204.7 203.1L205.5 204.4L208.0 209.7L208.8 210.8L209.6 212.5L210.4 213.5L212.0 216.3L214.5 222.3L216.1 225.6L220.2 231.0L221.8 233.7L223.4 235.4L224.2 236.7L227.5 240.8L236.4 251.7L240.5 255.9L246.2 262.9L247.0 197.1L248.6 265.1L249.4 273.9L250.2 273.5L251.0 253.8L251.8 224.4L253.5 255.2L254.3 265.4L255.1 258.9L257.5 210.9L258.4 232.5L259.2 264.8L260.0 261.0L260.8 246.3L261.6 222.9L262.4 242.4L263.2 247.5L264.0 273.9L264.9 276.2L265.7 272.5L267.3 261.8L268.1 274.2L268.9 277.0L272.2 278.6L304.7 283.0L314.4 283.9L328.2 284.0"/><path d="M49.1 -300.0L49.8 284.0L100.7 284.0L101.5 283.3L103.1 280.5L104.8 273.2L105.6 268.6L107.2 256.8L110.4 226.8L111.3 220.7L112.9 211.0L115.3 199.9L117.8 194.4L118.6 193.2L119.4 192.9L120.2 191.9L121.8 190.6L122.6 190.3L125.1 188.6L125.9 188.8L127.5 187.7L128.3 187.9L129.1 187.5L129.9 186.2L131.6 186.4L132.4 185.4L133.2 185.0L134.0 185.4L134.8 184.9L135.6 184.1L137.3 184.4L138.1 183.4L138.9 182.9L139.7 183.3L140.5 182.8L142.1 182.5L144.6 180.5L145.4 179.2L146.2 178.9L147.8 178.9L148.6 168.4L149.4 179.1L150.3 179.2L151.1 178.5L151.9 162.0L152.7 177.7L156.0 173.7L156.8 173.1L157.6 156.9L158.4 171.7L160.8 169.9L161.6 163.5L162.5 168.3L163.3 168.1L164.1 167.6L164.9 166.7L165.7 167.0L166.5 166.5L167.3 150.2L168.1 165.8L169.0 165.2L170.6 164.4L171.4 163.3L173.0 161.8L173.8 161.1L174.6 160.8L175.5 160.3L176.3 160.7L177.1 162.2L178.7 164.1L179.5 164.7L180.3 164.8L182.8 162.4L184.4 164.2L186.0 167.3L187.6 169.3L190.1 172.9L190.9 173.5L192.5 176.2L193.3 177.1L194.1 177.0L195.0 178.3L195.8 180.9L197.4 185.0L198.2 188.1L199.0 190.4L204.7 201.3L208.8 209.7L209.6 210.9L216.9 225.7L217.7 227.6L218.5 228.4L228.3 241.8L231.5 245.4L234.8 249.4L236.4 250.9L239.7 254.4L246.2 262.7L247.0 193.4L248.6 265.5L249.4 273.2L250.2 271.5L251.0 258.1L251.8 221.8L252.7 235.9L253.5 259.6L254.3 264.2L255.9 251.1L257.5 210.3L258.4 248.3L259.2 266.7L260.0 252.4L260.8 232.2L261.6 221.0L263.2 252.9L264.0 273.1L264.9 273.4L265.7 272.6L267.3 260.9L268.1 273.0L268.9 278.6L269.7 277.4L272.2 278.6L304.7 283.0L315.2 284.0L328.2 284.0"/><path d="M49.1 -300.0L49.8 284.0L100.7 284.0L101.5 283.3L102.3 282.1L103.1 280.5L104.8 273.2L105.6 268.6L107.2 256.7L109.6 232.3L111.3 218.8L112.9 209.0L115.3 199.0L117.8 192.4L118.6 190.8L120.2 190.0L121.0 189.9L121.8 188.9L122.6 188.7L124.3 187.1L125.1 186.9L125.9 187.4L127.5 187.0L129.1 186.0L129.9 185.2L130.8 184.9L132.4 185.3L134.0 184.1L134.8 183.8L136.4 182.7L137.3 182.9L138.9 182.6L140.5 181.9L141.3 181.1L142.1 181.1L142.9 180.3L143.8 180.4L144.6 180.1L145.4 179.7L146.2 178.8L147.0 178.6L147.8 177.9L148.6 168.2L149.4 176.8L150.3 176.1L151.1 175.1L151.9 154.0L152.7 173.7L153.5 173.3L154.3 173.4L155.1 172.7L156.0 172.4L156.8 171.6L157.6 120.7L158.4 169.7L159.2 168.9L160.0 168.7L161.6 166.9L163.3 166.8L164.1 165.0L164.9 164.5L165.7 163.6L166.5 163.7L167.3 159.3L168.1 163.2L169.0 163.2L170.6 163.5L171.4 162.9L173.0 162.2L173.8 161.0L174.6 159.4L175.5 159.4L176.3 159.2L177.1 159.5L177.9 160.3L178.7 160.7L180.3 162.0L182.0 161.6L183.6 162.5L185.2 164.5L188.5 169.8L190.9 172.5L192.5 174.6L194.1 177.5L195.0 178.4L200.6 193.3L202.3 196.1L203.9 199.9L204.7 200.9L206.3 204.2L208.0 206.9L212.8 217.8L216.1 223.7L221.8 232.5L225.8 237.7L228.3 241.3L231.5 244.8L234.0 247.8L238.0 252.1L242.1 257.5L246.2 262.5L247.0 189.8L248.6 263.2L249.4 274.0L250.2 274.0L251.0 254.4L251.8 219.3L254.3 266.7L255.1 258.6L255.9 244.0L256.7 219.7L257.5 210.1L258.4 242.1L259.2 260.1L260.0 260.6L260.8 248.8L261.6 218.4L262.4 241.2L263.2 252.0L264.0 270.2L264.9 273.0L265.7 272.6L266.5 271.7L267.3 260.0L268.1 273.8L268.9 277.9L269.7 277.4L272.2 278.5L273.8 278.8L305.5 283.1L315.2 284.0L328.2 284.0"/><path d="M49.1 -300.0L49.8 284.0L100.7 284.0L101.5 283.3L102.3 282.1L103.1 280.5L104.8 273.1L105.6 268.4L107.2 256.2L109.6 231.3L111.3 217.5L112.1 212.2L112.9 207.5L114.5 200.1L116.9 192.3L117.8 190.2L118.6 188.5L120.2 187.2L121.0 187.7L125.1 184.7L126.7 183.2L127.5 182.7L128.3 182.5L129.1 181.9L129.9 181.7L131.6 181.9L132.4 181.4L133.2 181.5L134.8 180.7L136.4 180.4L138.1 179.8L138.9 180.0L141.3 179.4L142.1 179.7L142.9 179.6L145.4 177.8L146.2 177.8L147.0 177.3L147.8 177.5L148.6 142.9L149.4 177.3L151.1 175.2L151.9 116.0L152.7 173.7L156.8 169.4L157.6 114.1L158.4 168.1L159.2 168.3L160.8 167.1L161.6 160.2L162.5 165.7L163.3 164.6L164.1 164.4L165.7 163.0L166.5 163.0L167.3 142.9L168.1 161.7L169.0 160.9L169.8 160.5L171.4 159.3L173.0 159.3L174.6 158.9L175.5 158.1L176.3 158.0L177.9 158.9L178.7 158.9L179.5 160.2L182.8 160.9L184.4 162.3L185.2 164.1L186.0 164.6L187.6 166.8L188.5 168.4L189.3 168.7L190.1 170.1L190.9 170.6L191.7 171.6L195.0 176.9L196.6 180.9L199.8 190.8L200.6 192.6L201.5 193.7L202.3 195.3L204.7 201.2L205.5 202.9L208.0 206.0L209.6 208.9L212.8 216.2L215.3 221.3L216.9 224.0L217.7 225.8L228.3 240.6L234.0 247.6L237.2 250.8L239.7 253.6L246.2 262.2L247.0 186.1L248.6 260.9L249.4 269.4L250.2 268.7L251.8 216.8L252.7 225.7L254.3 262.7L255.1 243.2L257.5 207.2L258.4 228.0L259.2 256.5L260.0 250.8L260.8 228.2L261.6 215.8L262.4 224.2L264.0 269.7L264.9 271.2L265.7 271.2L267.3 259.0L268.1 270.6L268.9 276.9L272.2 278.5L304.7 283.0L315.2 284.0L328.2 284.0"/></g><g fill="none" stroke="#fff" stroke-width="2.8" stroke-linejoin="round"><path d="M329.1 -300.0L329.8 284.0L381.5 284.0L383.1 280.7L384.8 274.5L385.6 270.6L391.3 232.0L392.9 223.3L395.3 214.3L398.6 205.7L399.4 204.1L400.2 203.1L401.8 200.0L404.3 196.8L405.1 196.9L405.9 196.3L407.5 195.7L410.8 195.3L412.4 195.5L415.6 193.3L416.4 193.5L417.3 193.3L418.9 194.1L419.7 194.3L423.8 192.4L424.6 191.2L426.2 190.9L427.8 189.6L428.6 148.9L429.4 188.8L430.3 150.9L431.1 186.7L431.9 70.7L432.7 184.9L433.5 184.7L435.1 183.7L436.8 182.1L437.6 180.7L438.4 143.0L439.2 178.7L440.0 177.2L441.6 175.1L442.5 174.8L443.3 173.4L444.9 172.9L446.5 170.8L447.3 133.6L448.1 169.5L449.0 168.5L449.8 169.2L450.6 169.2L451.4 169.5L452.2 168.9L453.0 169.3L454.6 168.4L455.5 167.5L456.3 167.0L457.1 165.3L457.9 165.8L458.7 167.2L460.3 169.0L461.1 170.5L462.0 169.6L462.8 168.3L464.4 167.5L465.2 166.6L466.0 167.2L466.8 168.2L467.6 170.1L468.5 171.4L470.9 177.3L471.7 178.0L473.3 181.3L475.0 183.1L477.4 188.6L479.8 195.0L483.1 202.4L483.9 203.7L486.3 209.8L488.0 213.0L490.4 217.3L491.2 219.5L492.8 223.0L496.9 228.9L499.3 233.5L500.2 234.8L502.6 237.4L505.8 240.2L507.5 241.9L508.3 242.4L510.7 245.0L513.2 248.1L517.2 251.8L520.5 255.2L526.2 260.0L527.0 255.7L527.8 190.5L529.4 246.5L530.2 261.9L531.0 208.2L531.8 201.4L532.7 212.3L533.5 210.4L534.3 226.4L535.1 221.1L535.9 226.2L536.7 228.4L537.5 235.7L538.4 249.2L539.2 227.7L540.0 219.6L540.8 224.9L542.4 266.9L544.0 233.4L545.7 245.6L546.5 250.4L547.3 242.8L548.1 249.0L549.7 275.1L550.5 278.2L551.4 278.9L561.1 279.8L561.9 278.1L562.7 280.0L595.2 283.5L608.2 284.0"/><path d="M329.1 -300.0L329.8 284.0L381.5 284.0L382.3 282.5L383.1 280.7L384.8 274.6L385.6 270.6L387.2 260.3L391.3 230.8L392.9 222.2L395.3 213.5L397.8 207.9L398.6 205.3L399.4 204.1L401.0 200.5L402.6 198.3L403.4 196.5L405.9 195.7L406.7 194.9L407.5 195.3L408.3 195.2L409.9 194.1L410.8 194.2L412.4 193.8L413.2 194.4L414.0 194.3L414.8 194.7L415.6 194.3L416.4 194.5L418.1 194.0L419.7 192.9L420.5 191.9L421.3 191.5L423.8 190.7L425.4 190.5L427.8 188.0L428.6 179.8L429.4 187.0L430.3 96.9L431.1 186.3L431.9 85.8L432.7 184.9L433.5 183.8L435.1 182.2L436.0 181.7L437.6 179.1L438.4 146.4L439.2 176.4L440.8 175.1L441.6 174.9L442.5 173.5L443.3 173.2L444.1 171.9L444.9 170.0L445.7 169.4L446.5 169.7L447.3 141.4L448.1 169.7L449.0 169.5L449.8 169.9L450.6 169.6L452.2 168.1L453.0 168.8L453.8 167.9L454.6 167.5L456.3 167.4L457.1 166.1L457.9 165.2L459.5 167.7L461.1 169.0L462.0 169.3L463.6 166.0L464.4 166.4L465.2 167.3L466.0 167.6L467.6 170.9L469.3 172.8L470.1 174.2L470.9 176.0L472.5 178.9L473.3 180.9L475.0 183.2L475.8 185.1L477.4 187.9L479.0 192.5L481.5 198.5L485.5 207.0L487.2 209.8L490.4 217.2L493.7 222.8L494.5 223.9L495.3 225.8L500.2 234.5L501.8 236.2L504.2 237.9L506.7 240.3L511.5 246.3L514.8 249.9L516.4 251.0L520.5 254.5L522.1 255.6L526.2 259.6L527.0 256.1L527.8 201.9L528.6 208.2L529.4 247.1L530.2 263.4L531.0 207.2L531.8 206.5L532.7 225.3L533.5 224.8L534.3 230.9L535.1 231.0L535.9 214.0L537.5 245.8L538.4 241.1L539.2 231.4L540.8 221.7L542.4 269.7L543.2 241.8L544.0 237.3L544.9 226.4L545.7 246.7L546.5 250.0L547.3 250.3L548.1 245.8L548.9 266.5L549.7 273.8L550.5 278.1L551.4 278.8L561.1 279.8L561.9 278.4L562.7 280.0L594.4 283.5L608.2 284.0"/><path d="M329.1 -300.0L329.8 284.0L381.5 284.0L383.1 280.6L384.8 274.4L385.6 270.4L387.2 259.8L391.3 229.1L392.9 220.0L394.5 214.7L396.1 210.5L397.8 205.4L399.4 201.8L400.2 200.5L401.0 199.9L402.6 197.2L404.3 195.8L406.7 194.9L407.5 193.8L409.1 192.7L409.9 192.4L410.8 192.5L413.2 193.1L414.8 192.9L415.6 193.1L418.1 191.8L419.7 190.5L421.3 190.4L422.1 189.7L422.9 189.7L425.4 188.3L427.8 187.8L428.6 130.5L429.4 187.1L430.3 98.9L431.1 185.2L431.9 164.7L432.7 183.7L434.3 181.5L436.0 180.1L436.8 178.8L437.6 178.0L438.4 175.0L439.2 176.2L440.0 175.2L440.8 174.8L442.5 173.2L443.3 172.9L444.9 169.7L445.7 169.2L446.5 169.3L447.3 156.5L448.1 168.8L449.0 168.9L449.8 168.6L451.4 167.2L454.6 165.3L455.5 164.4L456.3 163.8L457.1 163.7L457.9 164.0L458.7 164.7L459.5 166.1L461.1 167.6L462.0 165.9L462.8 165.8L463.6 164.5L464.4 164.9L465.2 164.4L466.0 166.5L466.8 167.4L467.6 169.3L468.5 170.0L469.3 172.6L470.1 173.6L470.9 175.6L471.7 176.8L472.5 178.5L473.3 179.1L474.1 181.0L475.0 181.9L476.6 185.6L477.4 188.0L478.2 189.2L483.9 202.6L491.2 217.7L492.0 218.9L495.3 225.5L500.2 233.4L502.6 235.6L506.7 240.0L508.3 241.4L515.6 250.0L526.2 259.1L527.0 254.1L527.8 197.7L528.6 217.7L529.4 257.8L530.2 256.2L531.8 206.6L533.5 217.7L534.3 225.8L535.1 209.8L535.9 211.8L536.7 216.9L537.5 245.8L538.4 237.7L539.2 240.2L540.0 231.2L540.8 218.5L541.6 254.8L542.4 265.6L543.2 257.7L544.0 230.0L544.9 233.9L545.7 247.1L546.5 242.5L547.3 244.9L548.1 250.0L548.9 267.0L549.7 270.8L550.5 278.0L551.4 278.7L561.1 279.7L561.9 277.7L562.7 279.9L595.2 283.5L608.2 284.0"/><path d="M329.1 -300.0L329.8 284.0L381.5 284.0L383.1 280.6L384.8 274.3L385.6 270.1L387.2 259.5L391.3 227.9L392.9 219.0L394.5 212.4L398.6 201.2L399.4 200.1L400.2 198.3L401.0 197.6L401.8 197.3L403.4 195.0L404.3 195.0L405.1 194.3L405.9 193.2L406.7 192.6L408.3 191.9L410.8 192.4L411.6 191.9L412.4 192.1L413.2 191.7L415.6 191.0L416.4 190.3L418.1 189.5L418.9 189.4L420.5 188.5L422.1 188.5L422.9 187.7L425.4 186.7L426.2 186.2L427.0 186.1L427.8 185.4L428.6 178.6L429.4 184.9L430.3 152.5L431.1 183.5L431.9 117.2L432.7 182.7L434.3 180.8L436.0 177.9L437.6 175.6L438.4 159.1L439.2 174.0L440.0 173.3L441.6 171.3L442.5 170.8L444.9 166.7L446.5 166.5L447.3 161.8L448.1 165.7L449.8 165.3L450.6 164.6L452.2 165.0L453.8 163.4L454.6 163.1L456.3 161.5L457.1 161.3L457.9 161.6L460.3 165.2L461.1 165.4L462.8 163.7L463.6 162.3L464.4 161.7L466.8 165.2L469.3 169.2L471.7 173.9L472.5 175.9L475.0 179.8L479.0 191.3L483.9 200.4L488.0 210.0L489.6 212.7L492.0 218.4L495.3 224.5L496.1 225.3L497.7 228.9L500.2 233.1L501.0 234.0L501.8 234.4L505.0 237.7L505.8 238.8L509.9 242.6L515.6 249.5L520.5 253.5L526.2 259.1L527.0 251.2L527.8 193.5L528.6 223.8L530.2 263.0L531.8 200.2L532.7 218.8L533.5 211.6L534.3 231.6L535.1 207.7L535.9 216.9L536.7 230.5L537.5 240.4L538.4 245.4L539.2 235.0L540.0 220.4L540.8 215.4L541.6 252.4L542.4 270.4L543.2 248.4L544.9 225.1L545.7 237.2L547.3 254.2L548.1 252.0L548.9 260.4L549.7 274.7L550.5 277.9L551.4 278.7L561.1 279.7L561.9 277.5L562.7 279.9L595.2 283.5L608.2 284.0"/><path d="M329.1 -300.0L329.8 284.0L381.5 284.0L383.1 280.6L384.8 274.3L385.6 270.1L387.2 259.3L391.3 227.0L392.9 218.0L395.3 209.1L398.6 200.9L400.2 198.2L401.0 197.5L403.4 194.6L404.3 194.2L405.9 192.7L406.7 192.6L407.5 192.6L409.1 192.2L409.9 192.6L410.8 192.4L412.4 190.7L414.0 189.5L414.8 189.7L415.6 189.6L416.4 190.3L417.3 190.6L419.7 189.2L421.3 187.6L422.1 187.5L424.6 185.9L425.4 185.7L427.0 184.7L427.8 184.8L428.6 119.9L429.4 184.2L430.3 115.1L431.1 183.8L431.9 182.3L432.7 181.9L435.1 178.2L436.0 177.3L436.8 177.0L437.6 176.2L438.4 149.9L439.2 174.5L441.6 171.7L444.1 167.9L444.9 167.1L445.7 167.2L446.5 166.8L447.3 149.8L448.1 166.4L449.0 165.7L449.8 165.6L451.4 164.8L453.8 162.8L454.6 162.6L456.3 161.6L457.1 160.6L457.9 160.7L458.7 161.1L459.5 161.8L460.3 163.2L461.1 163.9L462.8 162.7L464.4 161.2L465.2 162.3L466.0 164.2L468.5 168.4L469.3 169.6L470.1 169.9L470.9 171.5L472.5 175.2L474.1 178.2L478.2 188.0L479.8 190.2L481.5 193.8L483.9 200.0L484.7 201.4L488.8 211.0L492.0 217.7L499.3 231.0L500.2 232.2L501.8 233.7L505.8 238.8L507.5 239.8L509.9 242.1L512.3 245.7L514.8 248.4L516.4 249.7L518.0 251.4L522.9 255.9L526.2 258.3L527.0 244.5L527.8 189.3L529.4 247.7L530.2 259.3L531.8 192.9L532.7 214.6L533.5 228.0L534.3 216.9L535.1 215.8L535.9 213.8L536.7 232.9L537.5 235.9L538.4 254.4L540.0 220.1L540.8 212.2L541.6 251.3L542.4 264.6L543.2 252.1L544.0 226.5L544.9 225.6L545.7 239.7L546.5 240.8L547.3 244.6L548.1 250.5L549.7 274.2L550.5 277.9L551.4 278.6L561.1 279.7L561.9 278.0L562.7 279.9L595.2 283.5L608.2 284.0"/><path d="M329.1 -300.0L329.8 284.0L381.5 284.0L382.3 282.4L383.1 280.6L384.8 274.1L385.6 269.8L387.2 258.4L390.4 228.1L392.1 217.4L393.7 209.4L395.3 203.3L396.1 201.2L396.9 198.2L398.6 194.3L399.4 193.7L400.2 192.7L401.0 192.4L404.3 190.4L405.1 190.3L409.1 186.8L409.9 187.1L411.6 186.1L413.2 185.9L414.0 184.8L414.8 184.9L415.6 184.4L416.4 184.4L418.9 183.4L419.7 183.4L420.5 182.8L421.3 183.0L426.2 180.6L427.8 180.5L428.6 98.6L429.4 179.2L430.3 123.7L431.1 177.3L431.9 73.1L432.7 174.8L435.1 172.9L436.0 171.9L436.8 171.4L437.6 171.5L438.4 129.8L439.2 170.2L440.8 168.3L444.1 163.9L444.9 163.0L446.5 161.8L447.3 151.0L448.1 160.3L450.6 158.1L452.2 158.1L453.0 157.1L453.8 157.1L455.5 155.4L457.1 154.8L457.9 154.7L459.5 157.3L461.1 159.4L462.0 158.6L462.8 157.3L463.6 156.5L465.2 156.7L466.8 159.7L468.5 161.7L469.3 164.4L470.1 165.3L472.5 171.5L473.3 172.4L474.1 174.7L475.8 177.7L476.6 178.9L477.4 181.0L478.2 182.0L479.0 183.4L483.9 195.9L488.0 204.5L492.0 214.6L494.5 218.8L497.7 225.4L498.5 227.5L500.2 230.5L501.0 231.2L501.8 232.5L502.6 233.2L503.4 233.7L505.8 235.9L508.3 238.5L510.7 241.4L512.3 243.8L515.6 247.9L518.8 251.0L520.5 252.1L526.2 257.3L527.0 253.0L527.8 185.2L529.4 255.4L530.2 254.4L531.0 229.4L531.8 194.3L533.5 231.9L534.3 241.5L535.1 234.1L535.9 210.7L536.7 242.4L537.5 239.5L538.4 251.5L539.2 230.4L540.8 209.0L541.6 249.7L542.4 266.9L543.2 250.2L544.9 227.8L545.7 251.0L546.5 242.5L547.3 250.1L548.1 249.1L548.9 267.1L550.5 277.7L551.4 278.4L561.1 279.6L561.9 277.6L562.7 279.7L595.2 283.5L608.2 284.0"/><path d="M329.1 -300.0L329.8 284.0L381.5 284.0L383.1 280.6L384.8 274.1L385.6 269.7L387.2 257.8L389.6 233.8L391.3 221.4L392.1 216.3L393.7 208.3L395.3 201.9L396.1 199.6L398.6 194.1L399.4 193.0L401.8 190.9L402.6 190.4L403.4 190.5L405.1 188.9L405.9 188.4L406.7 188.1L407.5 187.1L408.3 187.4L412.4 184.3L414.0 184.5L414.8 184.0L416.4 184.1L417.3 183.8L418.1 183.1L419.7 182.4L420.5 182.5L421.3 181.8L422.1 181.7L422.9 181.9L427.0 178.6L427.8 178.3L428.6 108.3L429.4 178.3L430.3 118.8L431.1 177.5L431.9 108.9L432.7 175.5L434.3 173.4L435.1 171.9L436.0 171.4L436.8 171.3L437.6 170.6L438.4 101.3L439.2 169.4L440.8 166.4L441.6 165.7L442.5 164.3L443.3 163.7L444.9 161.4L445.7 160.8L446.5 160.8L447.3 137.2L448.1 159.9L449.8 159.7L450.6 160.0L451.4 159.5L453.0 157.7L454.6 154.4L455.5 153.4L456.3 153.1L457.1 152.6L457.9 152.9L458.7 154.1L461.1 156.7L462.0 156.7L463.6 155.2L464.4 155.7L465.2 156.5L466.0 156.4L466.8 158.6L469.3 163.5L470.1 166.3L470.9 167.4L472.5 170.6L474.1 173.1L476.6 178.0L480.6 187.2L482.3 192.0L487.2 201.1L492.0 214.3L495.3 220.2L498.5 226.9L500.2 229.4L502.6 231.7L505.0 234.9L505.8 235.6L506.7 236.7L507.5 237.2L509.9 240.1L510.7 240.8L514.8 246.4L516.4 248.1L518.0 249.3L522.1 253.6L526.2 257.4L527.0 249.4L527.8 181.0L529.4 247.2L530.2 263.3L531.0 216.8L531.8 191.6L532.7 207.8L535.1 230.7L535.9 207.6L537.5 243.6L538.4 252.1L540.0 209.0L540.8 205.9L541.6 254.7L542.4 269.6L543.2 254.3L544.0 226.3L544.9 225.4L545.7 250.3L546.5 256.7L547.3 242.8L548.1 247.6L548.9 266.0L550.5 277.6L551.4 278.4L561.1 279.5L561.9 279.1L562.7 279.7L594.4 283.4L608.2 284.0"/><path d="M329.1 -300.0L329.8 284.0L381.5 284.0L383.1 280.6L384.8 274.1L385.6 269.7L387.2 257.8L389.6 232.1L391.3 219.2L392.9 210.8L394.5 204.5L396.1 199.0L397.8 194.7L398.6 193.2L399.4 192.2L400.2 191.7L402.6 189.3L403.4 189.0L404.3 188.0L405.9 187.4L407.5 185.6L408.3 185.5L409.1 185.1L409.9 184.4L410.8 184.0L411.6 183.9L412.4 183.5L413.2 182.8L414.0 183.1L414.8 182.5L417.3 182.1L418.1 181.4L418.9 181.7L419.7 180.8L420.5 180.6L422.1 179.8L422.9 179.5L423.8 179.6L424.6 179.3L426.2 179.1L427.0 178.3L427.8 178.1L428.6 166.0L429.4 177.5L430.3 137.0L431.1 176.2L431.9 129.9L432.7 174.5L433.5 172.8L434.3 172.7L435.1 170.8L436.0 170.5L436.8 169.0L437.6 168.4L438.4 121.0L439.2 167.6L440.0 166.3L440.8 165.8L441.6 165.0L442.5 163.1L444.1 160.7L444.9 159.8L445.7 159.9L446.5 160.6L447.3 139.5L448.1 160.4L451.4 157.5L452.2 156.5L453.8 155.4L455.5 153.4L456.3 152.9L457.1 151.9L457.9 152.1L458.7 153.0L460.3 155.4L461.1 156.0L462.0 154.9L464.4 153.9L466.0 156.7L466.8 158.8L467.6 159.8L468.5 161.6L470.1 164.3L470.9 165.1L471.7 167.1L473.3 169.6L475.8 175.0L477.4 179.6L479.0 183.2L483.1 190.7L485.5 197.3L486.3 198.7L487.2 201.2L489.6 206.4L490.4 209.1L493.7 216.8L494.5 218.0L500.2 228.8L501.8 230.1L502.6 231.3L503.4 232.0L507.5 236.8L508.3 237.4L510.7 240.1L514.8 245.8L516.4 247.3L522.1 253.4L523.7 254.6L526.2 256.9L527.0 244.9L527.8 176.8L528.6 220.7L529.4 250.0L530.2 260.3L531.0 233.9L531.8 187.9L532.7 198.8L533.5 238.4L534.3 216.6L535.1 215.6L535.9 204.5L536.7 230.2L538.4 251.8L540.0 214.4L540.8 202.7L541.6 247.6L542.4 267.2L543.2 251.4L544.0 243.5L544.9 223.0L545.7 245.4L546.5 250.7L547.3 243.2L548.1 246.1L548.9 264.3L549.7 272.4L550.5 277.6L551.4 278.4L561.1 279.5L561.9 277.4L562.7 279.6L595.2 283.5L608.2 284.0"/><path d="M329.1 -300.0L329.8 284.0L381.5 284.0L382.3 282.4L383.1 280.6L384.8 274.0L385.6 269.5L387.2 257.4L389.6 231.1L391.3 218.1L392.9 209.1L395.3 199.4L397.8 192.8L398.6 191.1L401.8 187.6L402.6 187.6L404.3 186.0L405.9 185.2L406.7 184.1L407.5 183.9L409.1 183.8L409.9 183.2L411.6 182.8L412.4 182.9L413.2 182.4L414.8 182.9L415.6 182.6L416.4 182.1L418.9 181.3L419.7 180.3L420.5 180.2L422.9 178.5L423.8 178.5L424.6 177.7L425.4 178.1L426.2 177.4L427.0 177.3L427.8 176.7L428.6 85.3L429.4 175.4L430.3 77.6L431.1 173.9L431.9 49.8L432.7 172.7L433.5 172.5L435.1 171.4L437.6 169.0L438.4 90.1L439.2 166.9L440.0 165.9L441.6 163.2L444.1 160.5L445.7 159.5L446.5 158.8L447.3 122.7L448.1 157.7L449.8 156.1L450.6 155.9L451.4 155.1L452.2 154.7L453.0 155.2L453.8 155.3L455.5 153.3L456.3 152.0L457.1 149.8L457.9 149.1L460.3 154.3L461.1 155.4L462.0 154.6L463.6 151.5L464.4 151.5L466.0 154.1L468.5 159.4L469.3 160.0L470.9 162.8L474.1 171.6L475.8 175.0L477.4 177.3L479.0 181.1L479.8 182.4L483.9 192.2L485.5 195.3L488.0 201.1L490.4 208.3L492.8 214.3L495.3 219.0L497.7 223.0L500.2 228.3L501.8 230.5L509.1 237.7L514.8 245.5L517.2 247.9L520.5 251.7L522.9 253.6L524.5 255.2L526.2 256.5L527.0 239.7L527.8 172.6L529.4 242.2L530.2 251.9L531.0 206.3L531.8 184.2L533.5 209.2L534.3 214.0L535.1 206.6L535.9 201.4L537.5 230.2L538.4 237.5L540.0 206.1L540.8 199.5L541.6 238.9L542.4 262.3L543.2 240.4L544.0 225.5L544.9 220.6L545.7 232.8L546.5 240.6L548.1 244.2L549.7 270.6L550.5 277.5L551.4 278.3L561.1 279.5L561.9 276.8L562.7 279.6L595.2 283.5L608.2 284.0"/></g></g><rect x="69.0" y="283.4" width="5.6" height="1" fill="#fff"/><text x="79.2" y="289.1" font-size="13.89" fill="#fff">0</text><text x="39.5" y="289.1" font-size="13.89" fill="#fff" text-anchor="end">0</text><rect x="69.0" y="235.4" width="5.6" height="1" fill="#fff"/><text x="79.2" y="241.1" font-size="13.89" fill="#fff">5</text><text x="39.5" y="241.1" font-size="13.89" fill="#fff" text-anchor="end">5</text><rect x="69.0" y="187.4" width="5.6" height="1" fill="#fff"/><text x="79.2" y="193.1" font-size="13.89" fill="#fff">10</text><text x="39.5" y="193.1" font-size="13.89" fill="#fff" text-anchor="end">10</text><rect x="69.0" y="139.4" width="5.6" height="1" fill="#fff"/><text x="79.2" y="145.1" font-size="13.89" fill="#fff">15</text><text x="39.5" y="145.1" font-size="13.89" fill="#fff" text-anchor="end">15</text><rect x="69.0" y="91.4" width="5.6" height="1" fill="#fff"/><text x="79.2" y="97.1" font-size="13.89" fill="#fff">20</text><text x="39.5" y="97.1" font-size="13.89" fill="#fff" text-anchor="end">20</text><rect x="69.0" y="43.4" width="5.6" height="1" fill="#fff"/><text x="79.2" y="49.1" font-size="13.89" fill="#fff">25</text><text x="39.5" y="49.1" font-size="13.89" fill="#fff" text-anchor="end">25</text><rect x="350.1" y="283.4" width="5.6" height="1" fill="#fff"/><text x="359.2" y="289.1" font-size="13.89" fill="#fff">0</text><text x="319.5" y="289.1" font-size="13.89" fill="#fff" text-anchor="end">0</text><rect x="350.1" y="235.4" width="5.6" height="1" fill="#fff"/><text x="359.2" y="241.1" font-size="13.89" fill="#fff">5</text><text x="319.5" y="241.1" font-size="13.89" fill="#fff" text-anchor="end">5</text><rect x="350.1" y="187.4" width="5.6" height="1" fill="#fff"/><text x="359.2" y="193.1" font-size="13.89" fill="#fff">10</text><text x="319.5" y="193.1" font-size="13.89" fill="#fff" text-anchor="end">10</text><rect x="350.1" y="139.4" width="5.6" height="1" fill="#fff"/><text x="359.2" y="145.1" font-size="13.89" fill="#fff">15</text><text x="319.5" y="145.1" font-size="13.89" fill="#fff" text-anchor="end">15</text><rect x="350.1" y="91.4" width="5.6" height="1" fill="#fff"/><text x="359.2" y="97.1" font-size="13.89" fill="#fff">20</text><text x="319.5" y="97.1" font-size="13.89" fill="#fff" text-anchor="end">20</text><rect x="350.1" y="43.4" width="5.6" height="1" fill="#fff"/><text x="359.2" y="49.1" font-size="13.89" fill="#fff">25</text><text x="319.5" y="49.1" font-size="13.89" fill="#fff" text-anchor="end">25</text><text x="180.6" y="15.2" font-size="16.67" text-anchor="middle" fill="#000">2.2 (Tile132=132) X</text><text x="460.8" y="15.2" font-size="16.67" text-anchor="middle" fill="#000">2.2 (Tile132=132) Y</text><text transform="translate(2.8,218.3) rotate(-90)" font-size="13.89" letter-spacing="-0.5" text-anchor="middle" fill="#000">Dipole</text><rect x="48.95" y="408.1" width="0.9" height="5.4" fill="#000"/><text transform="translate(49.40,426.1) scale(0.88,1)" font-size="10.9" text-anchor="middle" fill="#000">0</text><rect x="89.58" y="408.1" width="0.9" height="5.4" fill="#000"/><text transform="translate(90.03,426.1) scale(0.88,1)" font-size="10.9" text-anchor="middle" fill="#000">50</text><rect x="130.22" y="408.1" width="0.9" height="5.4" fill="#000"/><text transform="translate(130.67,426.1) scale(0.88,1)" font-size="10.9" text-anchor="middle" fill="#000">100</text><rect x="170.86" y="408.1" width="0.9" height="5.4" fill="#000"/><text transform="translate(171.31,426.1) scale(0.88,1)" font-size="10.9" text-anchor="middle" fill="#000">150</text><rect x="211.49" y="408.1" width="0.9" height="5.4" fill="#000"/><text transform="translate(211.94,426.1) scale(0.88,1)" font-size="10.9" text-anchor="middle" fill="#000">200</text><rect x="252.12" y="408.1" width="0.9" height="5.4" fill="#000"/><text transform="translate(252.57,426.1) scale(0.88,1)" font-size="10.9" text-anchor="middle" fill="#000">250</text><rect x="292.76" y="408.1" width="0.9" height="5.4" fill="#000"/><text transform="translate(293.21,426.1) scale(0.88,1)" font-size="10.9" text-anchor="middle" fill="#000">300</text><rect x="328.95" y="408.1" width="0.9" height="5.4" fill="#000"/><text transform="translate(329.40,426.1) scale(0.88,1)" font-size="10.9" text-anchor="middle" fill="#000">0</text><rect x="369.58" y="408.1" width="0.9" height="5.4" fill="#000"/><text transform="translate(370.03,426.1) scale(0.88,1)" font-size="10.9" text-anchor="middle" fill="#000">50</text><rect x="410.22" y="408.1" width="0.9" height="5.4" fill="#000"/><text transform="translate(410.67,426.1) scale(0.88,1)" font-size="10.9" text-anchor="middle" fill="#000">100</text><rect x="450.85" y="408.1" width="0.9" height="5.4" fill="#000"/><text transform="translate(451.30,426.1) scale(0.88,1)" font-size="10.9" text-anchor="middle" fill="#000">150</text><rect x="491.49" y="408.1" width="0.9" height="5.4" fill="#000"/><text transform="translate(491.94,426.1) scale(0.88,1)" font-size="10.9" text-anchor="middle" fill="#000">200</text><rect x="532.12" y="408.1" width="0.9" height="5.4" fill="#000"/><text transform="translate(532.57,426.1) scale(0.88,1)" font-size="10.9" text-anchor="middle" fill="#000">250</text><rect x="572.76" y="408.1" width="0.9" height="5.4" fill="#000"/><text transform="translate(573.21,426.1) scale(0.88,1)" font-size="10.9" text-anchor="middle" fill="#000">300</text></svg></body></html>
